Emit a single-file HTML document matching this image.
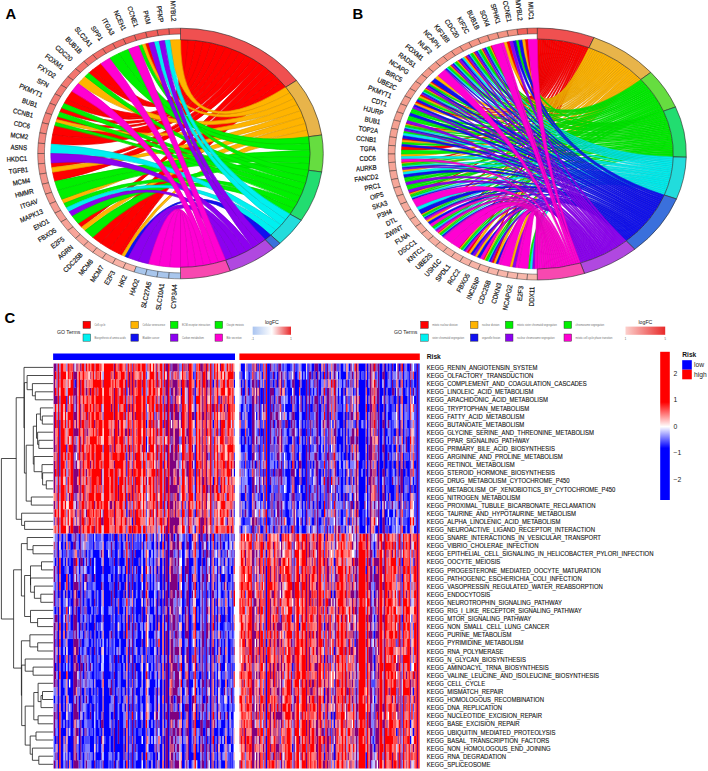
<!DOCTYPE html><html><head><meta charset="utf-8"><style>html,body{margin:0;padding:0;background:#fff;width:708px;height:771px;overflow:hidden}svg{display:block;font-family:"Liberation Sans",sans-serif}</style></head><body><svg width="708" height="771" viewBox="0 0 708 771"><rect width="708" height="771" fill="#fff"/>
<text x="5.6" y="18.9" font-size="14.8" font-weight="bold" fill="#000">A</text>
<text x="352.4" y="18.7" font-size="14.8" font-weight="bold" fill="#000">B</text>
<text x="4.6" y="322.9" font-size="14.8" font-weight="bold" fill="#000">C</text>
<g stroke-width="0.7">
<path d="M148.67 43.18 Q180.50 153.50 180.50 39.70 A129.66 113.80 0 0 1 188.18 39.90 Q180.50 153.50 145.22 43.99 A129.66 113.80 0 0 1 148.67 43.18 Z" fill="#ff0000" stroke="#e00000"/>
<path d="M100.86 63.70 Q180.50 153.50 188.18 39.90 A129.66 113.80 0 0 1 195.84 40.50 Q180.50 153.50 92.68 69.77 A129.66 113.80 0 0 1 100.86 63.70 Z" fill="#ff0000" stroke="#e00000"/>
<path d="M92.68 69.77 Q180.50 153.50 195.84 40.50 A129.66 113.80 0 0 1 203.44 41.49 Q180.50 153.50 88.81 73.03 A129.66 113.80 0 0 1 92.68 69.77 Z" fill="#ff0000" stroke="#e00000"/>
<path d="M71.95 91.26 Q180.50 153.50 203.44 41.49 A129.66 113.80 0 0 1 210.96 42.88 Q180.50 153.50 66.46 99.34 A129.66 113.80 0 0 1 71.95 91.26 Z" fill="#ff0000" stroke="#e00000"/>
<path d="M66.46 99.34 Q180.50 153.50 210.96 42.88 A129.66 113.80 0 0 1 218.37 44.66 Q180.50 153.50 64.01 103.52 A129.66 113.80 0 0 1 66.46 99.34 Z" fill="#ff0000" stroke="#e00000"/>
<path d="M61.76 107.79 Q180.50 153.50 218.37 44.66 A129.66 113.80 0 0 1 225.65 46.82 Q180.50 153.50 59.71 112.13 A129.66 113.80 0 0 1 61.76 107.79 Z" fill="#ff0000" stroke="#e00000"/>
<path d="M57.86 116.55 Q180.50 153.50 225.65 46.82 A129.66 113.80 0 0 1 232.77 49.36 Q180.50 153.50 56.75 119.53 A129.66 113.80 0 0 1 57.86 116.55 Z" fill="#ff0000" stroke="#e00000"/>
<path d="M54.80 125.56 Q180.50 153.50 232.77 49.36 A129.66 113.80 0 0 1 239.71 52.26 Q180.50 153.50 52.60 134.77 A129.66 113.80 0 0 1 54.80 125.56 Z" fill="#ff0000" stroke="#e00000"/>
<path d="M52.60 134.77 Q180.50 153.50 239.71 52.26 A129.66 113.80 0 0 1 246.44 55.51 Q180.50 153.50 51.28 144.10 A129.66 113.80 0 0 1 52.60 134.77 Z" fill="#ff0000" stroke="#e00000"/>
<path d="M51.28 162.90 Q180.50 153.50 246.44 55.51 A129.66 113.80 0 0 1 252.94 59.11 Q180.50 153.50 51.83 167.58 A129.66 113.80 0 0 1 51.28 162.90 Z" fill="#ff0000" stroke="#e00000"/>
<path d="M52.60 172.23 Q180.50 153.50 252.94 59.11 A129.66 113.80 0 0 1 259.18 63.05 Q180.50 153.50 54.80 181.44 A129.66 113.80 0 0 1 52.60 172.23 Z" fill="#ff0000" stroke="#e00000"/>
<path d="M78.18 223.40 Q180.50 153.50 259.18 63.05 A129.66 113.80 0 0 1 265.15 67.30 Q180.50 153.50 81.56 227.05 A129.66 113.80 0 0 1 78.18 223.40 Z" fill="#ff0000" stroke="#e00000"/>
<path d="M92.68 237.23 Q180.50 153.50 265.15 67.30 A129.66 113.80 0 0 1 270.82 71.85 Q180.50 153.50 100.86 243.30 A129.66 113.80 0 0 1 92.68 237.23 Z" fill="#ff0000" stroke="#e00000"/>
<path d="M100.86 243.30 Q180.50 153.50 270.82 71.85 A129.66 113.80 0 0 1 276.17 76.69 Q180.50 153.50 109.58 248.77 A129.66 113.80 0 0 1 100.86 243.30 Z" fill="#ff0000" stroke="#e00000"/>
<path d="M109.58 248.77 Q180.50 153.50 276.17 76.69 A129.66 113.80 0 0 1 281.19 81.80 Q180.50 153.50 118.79 253.58 A129.66 113.80 0 0 1 109.58 248.77 Z" fill="#ff0000" stroke="#e00000"/>
<path d="M118.79 253.58 Q180.50 153.50 281.19 81.80 A129.66 113.80 0 0 1 285.85 87.16 Q180.50 153.50 121.95 255.04 A129.66 113.80 0 0 1 118.79 253.58 Z" fill="#ff0000" stroke="#e00000"/>
<path d="M180.50 39.70 Q180.50 153.50 285.85 87.16 A129.66 113.80 0 0 1 290.14 92.75 Q180.50 153.50 169.79 40.09 A129.66 113.80 0 0 1 180.50 39.70 Z" fill="#ffb400" stroke="#e09e00"/>
<path d="M145.22 43.99 Q180.50 153.50 290.14 92.75 A129.66 113.80 0 0 1 294.05 98.56 Q180.50 153.50 141.79 44.89 A129.66 113.80 0 0 1 145.22 43.99 Z" fill="#ffb400" stroke="#e09e00"/>
<path d="M85.10 76.43 Q180.50 153.50 294.05 98.56 A129.66 113.80 0 0 1 297.56 104.56 Q180.50 153.50 78.18 83.60 A129.66 113.80 0 0 1 85.10 76.43 Z" fill="#ffb400" stroke="#e09e00"/>
<path d="M56.75 119.53 Q180.50 153.50 297.56 104.56 A129.66 113.80 0 0 1 300.66 110.73 Q180.50 153.50 55.73 122.53 A129.66 113.80 0 0 1 56.75 119.53 Z" fill="#ffb400" stroke="#e09e00"/>
<path d="M51.83 167.58 Q180.50 153.50 300.66 110.73 A129.66 113.80 0 0 1 303.33 117.05 Q180.50 153.50 52.60 172.23 A129.66 113.80 0 0 1 51.83 167.58 Z" fill="#ffb400" stroke="#e09e00"/>
<path d="M61.76 199.21 Q180.50 153.50 303.33 117.05 A129.66 113.80 0 0 1 305.58 123.50 Q180.50 153.50 64.01 203.48 A129.66 113.80 0 0 1 61.76 199.21 Z" fill="#ffb400" stroke="#e09e00"/>
<path d="M81.56 227.05 Q180.50 153.50 305.58 123.50 A129.66 113.80 0 0 1 307.38 130.06 Q180.50 153.50 85.10 230.57 A129.66 113.80 0 0 1 81.56 227.05 Z" fill="#ffb400" stroke="#e09e00"/>
<path d="M121.95 255.04 Q180.50 153.50 307.38 130.06 A129.66 113.80 0 0 1 308.74 136.70 Q180.50 153.50 125.16 256.42 A129.66 113.80 0 0 1 121.95 255.04 Z" fill="#ffb400" stroke="#e09e00"/>
<path d="M128.41 49.28 Q180.50 153.50 308.74 136.70 A129.66 113.80 0 0 1 309.65 143.40 Q180.50 153.50 118.79 53.42 A129.66 113.80 0 0 1 128.41 49.28 Z" fill="#00f000" stroke="#00d300"/>
<path d="M118.79 53.42 Q180.50 153.50 309.65 143.40 A129.66 113.80 0 0 1 310.11 150.13 Q180.50 153.50 109.58 58.23 A129.66 113.80 0 0 1 118.79 53.42 Z" fill="#00f000" stroke="#00d300"/>
<path d="M54.80 181.44 Q180.50 153.50 310.11 150.13 A129.66 113.80 0 0 1 310.11 156.87 Q180.50 153.50 57.86 190.45 A129.66 113.80 0 0 1 54.80 181.44 Z" fill="#00f000" stroke="#00d300"/>
<path d="M57.86 190.45 Q180.50 153.50 310.11 156.87 A129.66 113.80 0 0 1 309.65 163.60 Q180.50 153.50 61.76 199.21 A129.66 113.80 0 0 1 57.86 190.45 Z" fill="#00f000" stroke="#00d300"/>
<path d="M85.10 230.57 Q180.50 153.50 309.65 163.60 A129.66 113.80 0 0 1 308.74 170.30 Q180.50 153.50 92.68 237.23 A129.66 113.80 0 0 1 85.10 230.57 Z" fill="#00f000" stroke="#00d300"/>
<path d="M141.79 44.89 Q180.50 153.50 308.74 170.30 A129.66 113.80 0 0 1 307.38 176.94 Q180.50 153.50 138.40 45.87 A129.66 113.80 0 0 1 141.79 44.89 Z" fill="#00f000" stroke="#00d300"/>
<path d="M88.81 73.03 Q180.50 153.50 307.38 176.94 A129.66 113.80 0 0 1 305.58 183.50 Q180.50 153.50 85.10 76.43 A129.66 113.80 0 0 1 88.81 73.03 Z" fill="#00f000" stroke="#00d300"/>
<path d="M64.01 103.52 Q180.50 153.50 305.58 183.50 A129.66 113.80 0 0 1 303.33 189.95 Q180.50 153.50 61.76 107.79 A129.66 113.80 0 0 1 64.01 103.52 Z" fill="#00f000" stroke="#00d300"/>
<path d="M59.71 112.13 Q180.50 153.50 303.33 189.95 A129.66 113.80 0 0 1 300.66 196.27 Q180.50 153.50 57.86 116.55 A129.66 113.80 0 0 1 59.71 112.13 Z" fill="#00f000" stroke="#00d300"/>
<path d="M55.73 122.53 Q180.50 153.50 300.66 196.27 A129.66 113.80 0 0 1 297.56 202.44 Q180.50 153.50 54.80 125.56 A129.66 113.80 0 0 1 55.73 122.53 Z" fill="#00f000" stroke="#00d300"/>
<path d="M64.01 203.48 Q180.50 153.50 297.56 202.44 A129.66 113.80 0 0 1 294.05 208.44 Q180.50 153.50 66.46 207.66 A129.66 113.80 0 0 1 64.01 203.48 Z" fill="#00f000" stroke="#00d300"/>
<path d="M71.95 215.74 Q180.50 153.50 294.05 208.44 A129.66 113.80 0 0 1 290.14 214.25 Q180.50 153.50 78.18 223.40 A129.66 113.80 0 0 1 71.95 215.74 Z" fill="#00f000" stroke="#00d300"/>
<path d="M169.79 40.09 Q180.50 153.50 290.14 214.25 A129.66 113.80 0 0 1 285.85 219.84 Q180.50 153.50 164.46 40.57 A129.66 113.80 0 0 1 169.79 40.09 Z" fill="#00f0f0" stroke="#00d3d3"/>
<path d="M159.16 41.25 Q180.50 153.50 285.85 219.84 A129.66 113.80 0 0 1 281.19 225.20 Q180.50 153.50 153.89 42.12 A129.66 113.80 0 0 1 159.16 41.25 Z" fill="#00f0f0" stroke="#00d3d3"/>
<path d="M51.28 144.10 Q180.50 153.50 281.19 225.20 A129.66 113.80 0 0 1 276.17 230.31 Q180.50 153.50 50.84 153.50 A129.66 113.80 0 0 1 51.28 144.10 Z" fill="#00f0f0" stroke="#00d3d3"/>
<path d="M66.46 207.66 Q180.50 153.50 276.17 230.31 A129.66 113.80 0 0 1 270.82 235.15 Q180.50 153.50 69.11 211.75 A129.66 113.80 0 0 1 66.46 207.66 Z" fill="#00f0f0" stroke="#00d3d3"/>
<path d="M125.16 256.42 Q180.50 153.50 270.82 235.15 A129.66 113.80 0 0 1 265.15 239.70 Q180.50 153.50 128.41 257.72 A129.66 113.80 0 0 1 125.16 256.42 Z" fill="#1010f0" stroke="#0e0ed3"/>
<path d="M164.46 40.57 Q180.50 153.50 265.15 239.70 A129.66 113.80 0 0 1 259.18 243.95 Q180.50 153.50 159.16 41.25 A129.66 113.80 0 0 1 164.46 40.57 Z" fill="#8c00f0" stroke="#7b00d3"/>
<path d="M153.89 42.12 Q180.50 153.50 259.18 243.95 A129.66 113.80 0 0 1 252.94 247.89 Q180.50 153.50 148.67 43.18 A129.66 113.80 0 0 1 153.89 42.12 Z" fill="#8c00f0" stroke="#7b00d3"/>
<path d="M50.84 153.50 Q180.50 153.50 252.94 247.89 A129.66 113.80 0 0 1 246.44 251.49 Q180.50 153.50 51.28 162.90 A129.66 113.80 0 0 1 50.84 153.50 Z" fill="#8c00f0" stroke="#7b00d3"/>
<path d="M69.11 211.75 Q180.50 153.50 246.44 251.49 A129.66 113.80 0 0 1 239.71 254.74 Q180.50 153.50 71.95 215.74 A129.66 113.80 0 0 1 69.11 211.75 Z" fill="#8c00f0" stroke="#7b00d3"/>
<path d="M128.41 257.72 Q180.50 153.50 239.71 254.74 A129.66 113.80 0 0 1 232.77 257.64 Q180.50 153.50 138.40 261.13 A129.66 113.80 0 0 1 128.41 257.72 Z" fill="#8c00f0" stroke="#7b00d3"/>
<path d="M138.40 261.13 Q180.50 153.50 232.77 257.64 A129.66 113.80 0 0 1 225.65 260.18 Q180.50 153.50 148.67 263.82 A129.66 113.80 0 0 1 138.40 261.13 Z" fill="#8c00f0" stroke="#7b00d3"/>
<path d="M138.40 45.87 Q180.50 153.50 225.65 260.18 A129.66 113.80 0 0 1 218.37 262.34 Q180.50 153.50 128.41 49.28 A129.66 113.80 0 0 1 138.40 45.87 Z" fill="#ff00d2" stroke="#e000b9"/>
<path d="M109.58 58.23 Q180.50 153.50 218.37 262.34 A129.66 113.80 0 0 1 210.96 264.12 Q180.50 153.50 100.86 63.70 A129.66 113.80 0 0 1 109.58 58.23 Z" fill="#ff00d2" stroke="#e000b9"/>
<path d="M78.18 83.60 Q180.50 153.50 210.96 264.12 A129.66 113.80 0 0 1 203.44 265.51 Q180.50 153.50 71.95 91.26 A129.66 113.80 0 0 1 78.18 83.60 Z" fill="#ff00d2" stroke="#e000b9"/>
<path d="M148.67 263.82 Q180.50 153.50 203.44 265.51 A129.66 113.80 0 0 1 195.84 266.50 Q180.50 153.50 159.16 265.75 A129.66 113.80 0 0 1 148.67 263.82 Z" fill="#ff00d2" stroke="#e000b9"/>
<path d="M159.16 265.75 Q180.50 153.50 195.84 266.50 A129.66 113.80 0 0 1 188.18 267.10 Q180.50 153.50 169.79 266.91 A129.66 113.80 0 0 1 159.16 265.75 Z" fill="#ff00d2" stroke="#e000b9"/>
<path d="M169.79 266.91 Q180.50 153.50 188.18 267.10 A129.66 113.80 0 0 1 180.50 267.30 Q180.50 153.50 180.50 267.30 A129.66 113.80 0 0 1 169.79 266.91 Z" fill="#ff00d2" stroke="#e000b9"/>
</g>
<path d="M180.50 28.20 A142.77 125.30 0 0 1 296.50 80.45 L285.85 87.16 A129.66 113.80 0 0 0 180.50 39.70 Z" fill="#f05050" stroke="#262626" stroke-width="0.6"/>
<path d="M296.50 80.45 A142.77 125.30 0 0 1 321.70 135.00 L308.74 136.70 A129.66 113.80 0 0 0 285.85 87.16 Z" fill="#e8b44a" stroke="#262626" stroke-width="0.6"/>
<path d="M321.70 135.00 A142.77 125.30 0 0 1 321.70 172.00 L308.74 170.30 A129.66 113.80 0 0 0 308.74 136.70 Z" fill="#66dd40" stroke="#262626" stroke-width="0.6"/>
<path d="M321.70 172.00 A142.77 125.30 0 0 1 301.22 220.39 L290.14 214.25 A129.66 113.80 0 0 0 308.74 170.30 Z" fill="#22dd70" stroke="#262626" stroke-width="0.6"/>
<path d="M301.22 220.39 A142.77 125.30 0 0 1 279.94 243.40 L270.82 235.15 A129.66 113.80 0 0 0 290.14 214.25 Z" fill="#22dcdc" stroke="#262626" stroke-width="0.6"/>
<path d="M279.94 243.40 A142.77 125.30 0 0 1 273.70 248.42 L265.15 239.70 A129.66 113.80 0 0 0 270.82 235.15 Z" fill="#3a70dc" stroke="#262626" stroke-width="0.6"/>
<path d="M273.70 248.42 A142.77 125.30 0 0 1 230.21 270.96 L225.65 260.18 A129.66 113.80 0 0 0 265.15 239.70 Z" fill="#b048e0" stroke="#262626" stroke-width="0.6"/>
<path d="M230.21 270.96 A142.77 125.30 0 0 1 180.50 278.80 L180.50 267.30 A129.66 113.80 0 0 0 225.65 260.18 Z" fill="#f848b0" stroke="#262626" stroke-width="0.6"/>
<path d="M168.71 28.63 A142.77 125.30 0 0 1 180.50 28.20 L180.50 34.10 A136.04 119.40 0 0 0 169.27 34.51 Z" fill="#f05a55" stroke="#262626" stroke-width="0.45"/>
<path d="M157.00 29.91 A142.77 125.30 0 0 1 168.71 28.63 L169.27 34.51 A136.04 119.40 0 0 0 158.11 35.73 Z" fill="#f05d58" stroke="#262626" stroke-width="0.45"/>
<path d="M145.45 32.03 A142.77 125.30 0 0 1 157.00 29.91 L158.11 35.73 A136.04 119.40 0 0 0 147.10 37.75 Z" fill="#f05f5a" stroke="#262626" stroke-width="0.45"/>
<path d="M134.14 34.99 A142.77 125.30 0 0 1 145.45 32.03 L147.10 37.75 A136.04 119.40 0 0 0 136.33 40.57 Z" fill="#f1625d" stroke="#262626" stroke-width="0.45"/>
<path d="M123.15 38.75 A142.77 125.30 0 0 1 134.14 34.99 L136.33 40.57 A136.04 119.40 0 0 0 125.85 44.16 Z" fill="#f1655f" stroke="#262626" stroke-width="0.45"/>
<path d="M112.55 43.30 A142.77 125.30 0 0 1 123.15 38.75 L125.85 44.16 A136.04 119.40 0 0 0 115.75 48.49 Z" fill="#f16862" stroke="#262626" stroke-width="0.45"/>
<path d="M102.41 48.60 A142.77 125.30 0 0 1 112.55 43.30 L115.75 48.49 A136.04 119.40 0 0 0 106.09 53.54 Z" fill="#f16a64" stroke="#262626" stroke-width="0.45"/>
<path d="M92.81 54.62 A142.77 125.30 0 0 1 102.41 48.60 L106.09 53.54 A136.04 119.40 0 0 0 96.94 59.28 Z" fill="#f26d67" stroke="#262626" stroke-width="0.45"/>
<path d="M83.81 61.31 A142.77 125.30 0 0 1 92.81 54.62 L96.94 59.28 A136.04 119.40 0 0 0 88.36 65.65 Z" fill="#f27069" stroke="#262626" stroke-width="0.45"/>
<path d="M75.46 68.64 A142.77 125.30 0 0 1 83.81 61.31 L88.36 65.65 A136.04 119.40 0 0 0 80.41 72.63 Z" fill="#f2736c" stroke="#262626" stroke-width="0.45"/>
<path d="M67.84 76.54 A142.77 125.30 0 0 1 75.46 68.64 L80.41 72.63 A136.04 119.40 0 0 0 73.14 80.16 Z" fill="#f2756e" stroke="#262626" stroke-width="0.45"/>
<path d="M60.98 84.97 A142.77 125.30 0 0 1 67.84 76.54 L73.14 80.16 A136.04 119.40 0 0 0 66.61 88.19 Z" fill="#f37871" stroke="#262626" stroke-width="0.45"/>
<path d="M54.94 93.86 A142.77 125.30 0 0 1 60.98 84.97 L66.61 88.19 A136.04 119.40 0 0 0 60.85 96.67 Z" fill="#f37b73" stroke="#262626" stroke-width="0.45"/>
<path d="M49.76 103.17 A142.77 125.30 0 0 1 54.94 93.86 L60.85 96.67 A136.04 119.40 0 0 0 55.91 105.54 Z" fill="#f37d76" stroke="#262626" stroke-width="0.45"/>
<path d="M45.47 112.82 A142.77 125.30 0 0 1 49.76 103.17 L55.91 105.54 A136.04 119.40 0 0 0 51.83 114.73 Z" fill="#f38078" stroke="#262626" stroke-width="0.45"/>
<path d="M42.10 122.74 A142.77 125.30 0 0 1 45.47 112.82 L51.83 114.73 A136.04 119.40 0 0 0 48.62 124.19 Z" fill="#f4837b" stroke="#262626" stroke-width="0.45"/>
<path d="M39.68 132.88 A142.77 125.30 0 0 1 42.10 122.74 L48.62 124.19 A136.04 119.40 0 0 0 46.31 133.85 Z" fill="#f4867d" stroke="#262626" stroke-width="0.45"/>
<path d="M38.22 143.15 A142.77 125.30 0 0 1 39.68 132.88 L46.31 133.85 A136.04 119.40 0 0 0 44.92 143.64 Z" fill="#f48880" stroke="#262626" stroke-width="0.45"/>
<path d="M37.73 153.50 A142.77 125.30 0 0 1 38.22 143.15 L44.92 143.64 A136.04 119.40 0 0 0 44.46 153.50 Z" fill="#f48b82" stroke="#262626" stroke-width="0.45"/>
<path d="M38.22 163.85 A142.77 125.30 0 0 1 37.73 153.50 L44.46 153.50 A136.04 119.40 0 0 0 44.92 163.36 Z" fill="#f58e85" stroke="#262626" stroke-width="0.45"/>
<path d="M39.68 174.12 A142.77 125.30 0 0 1 38.22 163.85 L44.92 163.36 A136.04 119.40 0 0 0 46.31 173.15 Z" fill="#f59187" stroke="#262626" stroke-width="0.45"/>
<path d="M42.10 184.26 A142.77 125.30 0 0 1 39.68 174.12 L46.31 173.15 A136.04 119.40 0 0 0 48.62 182.81 Z" fill="#f5938a" stroke="#262626" stroke-width="0.45"/>
<path d="M45.47 194.18 A142.77 125.30 0 0 1 42.10 184.26 L48.62 182.81 A136.04 119.40 0 0 0 51.83 192.27 Z" fill="#f5968c" stroke="#262626" stroke-width="0.45"/>
<path d="M49.76 203.83 A142.77 125.30 0 0 1 45.47 194.18 L51.83 192.27 A136.04 119.40 0 0 0 55.91 201.46 Z" fill="#f6998f" stroke="#262626" stroke-width="0.45"/>
<path d="M54.94 213.14 A142.77 125.30 0 0 1 49.76 203.83 L55.91 201.46 A136.04 119.40 0 0 0 60.85 210.33 Z" fill="#f69b91" stroke="#262626" stroke-width="0.45"/>
<path d="M60.98 222.03 A142.77 125.30 0 0 1 54.94 213.14 L60.85 210.33 A136.04 119.40 0 0 0 66.61 218.81 Z" fill="#f69e94" stroke="#262626" stroke-width="0.45"/>
<path d="M67.84 230.46 A142.77 125.30 0 0 1 60.98 222.03 L66.61 218.81 A136.04 119.40 0 0 0 73.14 226.84 Z" fill="#f6a196" stroke="#262626" stroke-width="0.45"/>
<path d="M75.46 238.36 A142.77 125.30 0 0 1 67.84 230.46 L73.14 226.84 A136.04 119.40 0 0 0 80.41 234.37 Z" fill="#f7a499" stroke="#262626" stroke-width="0.45"/>
<path d="M83.81 245.69 A142.77 125.30 0 0 1 75.46 238.36 L80.41 234.37 A136.04 119.40 0 0 0 88.36 241.35 Z" fill="#f7a69b" stroke="#262626" stroke-width="0.45"/>
<path d="M92.81 252.38 A142.77 125.30 0 0 1 83.81 245.69 L88.36 241.35 A136.04 119.40 0 0 0 96.94 247.72 Z" fill="#f7a99e" stroke="#262626" stroke-width="0.45"/>
<path d="M102.41 258.40 A142.77 125.30 0 0 1 92.81 252.38 L96.94 247.72 A136.04 119.40 0 0 0 106.09 253.46 Z" fill="#f7aca0" stroke="#262626" stroke-width="0.45"/>
<path d="M112.55 263.70 A142.77 125.30 0 0 1 102.41 258.40 L106.09 253.46 A136.04 119.40 0 0 0 115.75 258.51 Z" fill="#f8afa3" stroke="#262626" stroke-width="0.45"/>
<path d="M123.15 268.25 A142.77 125.30 0 0 1 112.55 263.70 L115.75 258.51 A136.04 119.40 0 0 0 125.85 262.84 Z" fill="#f8b1a5" stroke="#262626" stroke-width="0.45"/>
<path d="M134.14 272.01 A142.77 125.30 0 0 1 123.15 268.25 L125.85 262.84 A136.04 119.40 0 0 0 136.33 266.43 Z" fill="#f8b4a8" stroke="#262626" stroke-width="0.45"/>
<path d="M145.45 274.97 A142.77 125.30 0 0 1 134.14 272.01 L136.33 266.43 A136.04 119.40 0 0 0 147.10 269.25 Z" fill="#a8c6ec" stroke="#262626" stroke-width="0.45"/>
<path d="M157.00 277.09 A142.77 125.30 0 0 1 145.45 274.97 L147.10 269.25 A136.04 119.40 0 0 0 158.11 271.27 Z" fill="#a8c6ec" stroke="#262626" stroke-width="0.45"/>
<path d="M168.71 278.37 A142.77 125.30 0 0 1 157.00 277.09 L158.11 271.27 A136.04 119.40 0 0 0 169.27 272.49 Z" fill="#a8c6ec" stroke="#262626" stroke-width="0.45"/>
<path d="M180.50 278.80 A142.77 125.30 0 0 1 168.71 278.37 L169.27 272.49 A136.04 119.40 0 0 0 180.50 272.90 Z" fill="#a8c6ec" stroke="#262626" stroke-width="0.45"/>
<g font-size="6.9" fill="#141414" stroke="#141414" stroke-width="0.2" text-anchor="end">
<text transform="translate(174.15 21.31) rotate(87.30) scale(0.920 1)" dy="2.76">MYBL2</text>
<text transform="translate(161.50 22.21) rotate(81.92) scale(0.920 1)" dy="2.76">PFKP</text>
<text transform="translate(148.98 24.00) rotate(76.56) scale(0.919 1)" dy="2.76">PKM</text>
<text transform="translate(136.67 26.67) rotate(71.26) scale(0.918 1)" dy="2.76">CCNE1</text>
<text transform="translate(124.67 30.20) rotate(66.03) scale(0.917 1)" dy="2.76">NCEH1</text>
<text transform="translate(113.04 34.57) rotate(60.88) scale(0.915 1)" dy="2.76">ITGA3</text>
<text transform="translate(101.87 39.75) rotate(55.83) scale(0.913 1)" dy="2.76">SPP1</text>
<text transform="translate(91.25 45.70) rotate(50.87) scale(0.911 1)" dy="2.76">SLC2A1</text>
<text transform="translate(81.23 52.38) rotate(46.02) scale(0.908 1)" dy="2.76">BUB1B</text>
<text transform="translate(71.89 59.74) rotate(41.27) scale(0.905 1)" dy="2.76">CDC20</text>
<text transform="translate(63.29 67.75) rotate(36.62) scale(0.902 1)" dy="2.76">FOXM1</text>
<text transform="translate(55.49 76.33) rotate(32.07) scale(0.899 1)" dy="2.76">FXYD2</text>
<text transform="translate(48.55 85.44) rotate(27.61) scale(0.896 1)" dy="2.76">SFN</text>
<text transform="translate(42.51 95.00) rotate(23.22) scale(0.892 1)" dy="2.76">PKMYT1</text>
<text transform="translate(37.41 104.96) rotate(18.90) scale(0.888 1)" dy="2.76">BUB1</text>
<text transform="translate(33.29 115.25) rotate(14.64) scale(0.884 1)" dy="2.76">CCNB1</text>
<text transform="translate(30.17 125.79) rotate(10.43) scale(0.880 1)" dy="2.76">CDC6</text>
<text transform="translate(28.08 136.52) rotate(6.24) scale(0.876 1)" dy="2.76">MCM2</text>
<text transform="translate(27.03 147.36) rotate(2.08) scale(0.872 1)" dy="2.76">ASNS</text>
<text transform="translate(27.03 158.24) rotate(-2.08) scale(0.872 1)" dy="2.76">HKDC1</text>
<text transform="translate(28.08 169.08) rotate(-6.24) scale(0.876 1)" dy="2.76">TGFB1</text>
<text transform="translate(30.17 179.81) rotate(-10.43) scale(0.880 1)" dy="2.76">MCM4</text>
<text transform="translate(33.29 190.35) rotate(-14.64) scale(0.884 1)" dy="2.76">HMMR</text>
<text transform="translate(37.41 200.64) rotate(-18.90) scale(0.888 1)" dy="2.76">ITGAV</text>
<text transform="translate(42.51 210.60) rotate(-23.22) scale(0.892 1)" dy="2.76">MAPK13</text>
<text transform="translate(48.55 220.16) rotate(-27.61) scale(0.896 1)" dy="2.76">ENO1</text>
<text transform="translate(55.49 229.27) rotate(-32.07) scale(0.899 1)" dy="2.76">FBXO5</text>
<text transform="translate(63.29 237.85) rotate(-36.62) scale(0.902 1)" dy="2.76">E2F5</text>
<text transform="translate(71.89 245.86) rotate(-41.27) scale(0.905 1)" dy="2.76">AGRN</text>
<text transform="translate(81.23 253.22) rotate(-46.02) scale(0.908 1)" dy="2.76">CDC25B</text>
<text transform="translate(91.25 259.90) rotate(-50.87) scale(0.911 1)" dy="2.76">MCM6</text>
<text transform="translate(101.87 265.85) rotate(-55.83) scale(0.913 1)" dy="2.76">MCM7</text>
<text transform="translate(113.04 271.03) rotate(-60.88) scale(0.915 1)" dy="2.76">E2F3</text>
<text transform="translate(124.67 275.40) rotate(-66.03) scale(0.917 1)" dy="2.76">HK2</text>
<text transform="translate(136.67 278.93) rotate(-71.26) scale(0.918 1)" dy="2.76">HAO2</text>
<text transform="translate(148.98 281.60) rotate(-76.56) scale(0.919 1)" dy="2.76">SLC27A5</text>
<text transform="translate(161.50 283.39) rotate(-81.92) scale(0.920 1)" dy="2.76">SLC10A1</text>
<text transform="translate(174.15 284.29) rotate(-87.30) scale(0.920 1)" dy="2.76">CYP3A4</text>
</g>
<g stroke-width="0.55">
<path d="M527.98 39.47 Q537.25 154.00 537.25 39.20 A135.81 114.80 0 0 1 539.56 39.22 Q537.25 154.00 524.90 39.68 A135.81 114.80 0 0 1 527.98 39.47 Z" fill="#ff0000" stroke="#d90000"/>
<path d="M509.62 41.60 Q537.25 154.00 539.56 39.22 A135.81 114.80 0 0 1 541.86 39.27 Q537.25 154.00 506.60 42.16 A135.81 114.80 0 0 1 509.62 41.60 Z" fill="#ff0000" stroke="#d90000"/>
<path d="M491.77 45.83 Q537.25 154.00 541.86 39.27 A135.81 114.80 0 0 1 544.17 39.35 Q537.25 154.00 490.52 46.21 A135.81 114.80 0 0 1 491.77 45.83 Z" fill="#ff0000" stroke="#d90000"/>
<path d="M483.14 48.70 Q537.25 154.00 544.17 39.35 A135.81 114.80 0 0 1 546.47 39.46 Q537.25 154.00 481.93 49.16 A135.81 114.80 0 0 1 483.14 48.70 Z" fill="#ff0000" stroke="#d90000"/>
<path d="M474.77 52.07 Q537.25 154.00 546.47 39.46 A135.81 114.80 0 0 1 548.77 39.61 Q537.25 154.00 473.60 52.59 A135.81 114.80 0 0 1 474.77 52.07 Z" fill="#ff0000" stroke="#d90000"/>
<path d="M466.69 55.91 Q537.25 154.00 548.77 39.61 A135.81 114.80 0 0 1 551.06 39.80 Q537.25 154.00 465.11 56.74 A135.81 114.80 0 0 1 466.69 55.91 Z" fill="#ff0000" stroke="#d90000"/>
<path d="M458.93 60.21 Q537.25 154.00 551.06 39.80 A135.81 114.80 0 0 1 553.36 40.01 Q537.25 154.00 457.85 60.86 A135.81 114.80 0 0 1 458.93 60.21 Z" fill="#ff0000" stroke="#d90000"/>
<path d="M451.54 64.95 Q537.25 154.00 553.36 40.01 A135.81 114.80 0 0 1 555.64 40.26 Q537.25 154.00 450.52 65.66 A135.81 114.80 0 0 1 451.54 64.95 Z" fill="#ff0000" stroke="#d90000"/>
<path d="M431.90 81.55 Q537.25 154.00 555.64 40.26 A135.81 114.80 0 0 1 557.93 40.54 Q537.25 154.00 430.74 82.77 A135.81 114.80 0 0 1 431.90 81.55 Z" fill="#ff0000" stroke="#d90000"/>
<path d="M426.30 87.80 Q537.25 154.00 557.93 40.54 A135.81 114.80 0 0 1 560.20 40.85 Q537.25 154.00 425.54 88.72 A135.81 114.80 0 0 1 426.30 87.80 Z" fill="#ff0000" stroke="#d90000"/>
<path d="M421.21 94.35 Q537.25 154.00 560.20 40.85 A135.81 114.80 0 0 1 562.47 41.20 Q537.25 154.00 420.02 96.04 A135.81 114.80 0 0 1 421.21 94.35 Z" fill="#ff0000" stroke="#d90000"/>
<path d="M416.67 101.18 Q537.25 154.00 562.47 41.20 A135.81 114.80 0 0 1 564.73 41.58 Q537.25 154.00 415.62 102.93 A135.81 114.80 0 0 1 416.67 101.18 Z" fill="#ff0000" stroke="#d90000"/>
<path d="M406.48 123.03 Q537.25 154.00 564.73 41.58 A135.81 114.80 0 0 1 566.99 41.99 Q537.25 154.00 406.13 124.11 A135.81 114.80 0 0 1 406.48 123.03 Z" fill="#ff0000" stroke="#d90000"/>
<path d="M402.71 138.37 Q537.25 154.00 566.99 41.99 A135.81 114.80 0 0 1 569.23 42.43 Q537.25 154.00 402.41 140.31 A135.81 114.80 0 0 1 402.71 138.37 Z" fill="#ff0000" stroke="#d90000"/>
<path d="M401.76 146.17 Q537.25 154.00 569.23 42.43 A135.81 114.80 0 0 1 571.47 42.90 Q537.25 154.00 401.52 150.08 A135.81 114.80 0 0 1 401.76 146.17 Z" fill="#ff0000" stroke="#d90000"/>
<path d="M401.76 161.83 Q537.25 154.00 571.47 42.90 A135.81 114.80 0 0 1 573.70 43.41 Q537.25 154.00 401.86 162.95 A135.81 114.80 0 0 1 401.76 161.83 Z" fill="#ff0000" stroke="#d90000"/>
<path d="M409.28 192.44 Q537.25 154.00 573.70 43.41 A135.81 114.80 0 0 1 575.91 43.95 Q537.25 154.00 409.81 193.67 A135.81 114.80 0 0 1 409.28 192.44 Z" fill="#ff0000" stroke="#d90000"/>
<path d="M421.21 213.65 Q537.25 154.00 575.91 43.95 A135.81 114.80 0 0 1 578.12 44.52 Q537.25 154.00 421.82 214.48 A135.81 114.80 0 0 1 421.21 213.65 Z" fill="#ff0000" stroke="#d90000"/>
<path d="M438.00 232.36 Q537.25 154.00 578.12 44.52 A135.81 114.80 0 0 1 580.31 45.12 Q537.25 154.00 438.79 233.07 A135.81 114.80 0 0 1 438.00 232.36 Z" fill="#ff0000" stroke="#d90000"/>
<path d="M458.93 247.79 Q537.25 154.00 580.31 45.12 A135.81 114.80 0 0 1 582.49 45.76 Q537.25 154.00 459.88 248.35 A135.81 114.80 0 0 1 458.93 247.79 Z" fill="#ff0000" stroke="#d90000"/>
<path d="M466.69 252.09 Q537.25 154.00 582.49 45.76 A135.81 114.80 0 0 1 584.66 46.42 Q537.25 154.00 468.68 253.09 A135.81 114.80 0 0 1 466.69 252.09 Z" fill="#ff0000" stroke="#d90000"/>
<path d="M483.14 259.30 Q537.25 154.00 584.66 46.42 A135.81 114.80 0 0 1 586.82 47.12 Q537.25 154.00 484.36 259.74 A135.81 114.80 0 0 1 483.14 259.30 Z" fill="#ff0000" stroke="#d90000"/>
<path d="M491.77 262.17 Q537.25 154.00 586.82 47.12 A135.81 114.80 0 0 1 588.96 47.85 Q537.25 154.00 493.96 262.81 A135.81 114.80 0 0 1 491.77 262.17 Z" fill="#ff0000" stroke="#d90000"/>
<path d="M524.90 39.68 Q537.25 154.00 588.96 47.85 A135.81 114.80 0 0 1 591.08 48.60 Q537.25 154.00 521.82 39.94 A135.81 114.80 0 0 1 524.90 39.68 Z" fill="#ffb400" stroke="#d99900"/>
<path d="M506.60 42.16 Q537.25 154.00 591.08 48.60 A135.81 114.80 0 0 1 593.19 49.39 Q537.25 154.00 503.60 42.78 A135.81 114.80 0 0 1 506.60 42.16 Z" fill="#ffb400" stroke="#d99900"/>
<path d="M490.52 46.21 Q537.25 154.00 593.19 49.39 A135.81 114.80 0 0 1 595.28 50.21 Q537.25 154.00 489.28 46.60 A135.81 114.80 0 0 1 490.52 46.21 Z" fill="#ffb400" stroke="#d99900"/>
<path d="M481.93 49.16 Q537.25 154.00 595.28 50.21 A135.81 114.80 0 0 1 597.36 51.06 Q537.25 154.00 480.72 49.62 A135.81 114.80 0 0 1 481.93 49.16 Z" fill="#ffb400" stroke="#d99900"/>
<path d="M473.60 52.59 Q537.25 154.00 597.36 51.06 A135.81 114.80 0 0 1 599.42 51.93 Q537.25 154.00 472.43 53.12 A135.81 114.80 0 0 1 473.60 52.59 Z" fill="#ffb400" stroke="#d99900"/>
<path d="M465.11 56.74 Q537.25 154.00 599.42 51.93 A135.81 114.80 0 0 1 601.46 52.84 Q537.25 154.00 463.54 57.58 A135.81 114.80 0 0 1 465.11 56.74 Z" fill="#ffb400" stroke="#d99900"/>
<path d="M457.85 60.86 Q537.25 154.00 601.46 52.84 A135.81 114.80 0 0 1 603.48 53.78 Q537.25 154.00 456.78 61.52 A135.81 114.80 0 0 1 457.85 60.86 Z" fill="#ffb400" stroke="#d99900"/>
<path d="M450.52 65.66 Q537.25 154.00 603.48 53.78 A135.81 114.80 0 0 1 605.49 54.74 Q537.25 154.00 449.50 66.38 A135.81 114.80 0 0 1 450.52 65.66 Z" fill="#ffb400" stroke="#d99900"/>
<path d="M438.00 75.64 Q537.25 154.00 605.49 54.74 A135.81 114.80 0 0 1 607.47 55.74 Q537.25 154.00 434.89 78.55 A135.81 114.80 0 0 1 438.00 75.64 Z" fill="#ffb400" stroke="#d99900"/>
<path d="M430.74 82.77 Q537.25 154.00 607.47 55.74 A135.81 114.80 0 0 1 609.43 56.76 Q537.25 154.00 429.60 84.01 A135.81 114.80 0 0 1 430.74 82.77 Z" fill="#ffb400" stroke="#d99900"/>
<path d="M425.54 88.72 Q537.25 154.00 609.43 56.76 A135.81 114.80 0 0 1 611.38 57.81 Q537.25 154.00 424.79 89.64 A135.81 114.80 0 0 1 425.54 88.72 Z" fill="#ffb400" stroke="#d99900"/>
<path d="M420.02 96.04 Q537.25 154.00 611.38 57.81 A135.81 114.80 0 0 1 613.30 58.89 Q537.25 154.00 418.87 97.74 A135.81 114.80 0 0 1 420.02 96.04 Z" fill="#ffb400" stroke="#d99900"/>
<path d="M415.62 102.93 Q537.25 154.00 613.30 58.89 A135.81 114.80 0 0 1 615.20 59.99 Q537.25 154.00 414.60 104.70 A135.81 114.80 0 0 1 415.62 102.93 Z" fill="#ffb400" stroke="#d99900"/>
<path d="M406.13 124.11 Q537.25 154.00 615.20 59.99 A135.81 114.80 0 0 1 617.08 61.12 Q537.25 154.00 405.79 125.19 A135.81 114.80 0 0 1 406.13 124.11 Z" fill="#ffb400" stroke="#d99900"/>
<path d="M402.41 140.31 Q537.25 154.00 617.08 61.12 A135.81 114.80 0 0 1 618.93 62.28 Q537.25 154.00 402.15 142.26 A135.81 114.80 0 0 1 402.41 140.31 Z" fill="#ffb400" stroke="#d99900"/>
<path d="M401.44 154.00 Q537.25 154.00 618.93 62.28 A135.81 114.80 0 0 1 620.76 63.47 Q537.25 154.00 401.48 156.61 A135.81 114.80 0 0 1 401.44 154.00 Z" fill="#ffb400" stroke="#d99900"/>
<path d="M401.86 162.95 Q537.25 154.00 620.76 63.47 A135.81 114.80 0 0 1 622.57 64.68 Q537.25 154.00 401.96 164.07 A135.81 114.80 0 0 1 401.86 162.95 Z" fill="#ffb400" stroke="#d99900"/>
<path d="M402.71 169.63 Q537.25 154.00 622.57 64.68 A135.81 114.80 0 0 1 624.35 65.92 Q537.25 154.00 403.16 172.22 A135.81 114.80 0 0 1 402.71 169.63 Z" fill="#ffb400" stroke="#d99900"/>
<path d="M409.81 193.67 Q537.25 154.00 624.35 65.92 A135.81 114.80 0 0 1 626.11 67.18 Q537.25 154.00 410.35 194.90 A135.81 114.80 0 0 1 409.81 193.67 Z" fill="#ffb400" stroke="#d99900"/>
<path d="M421.82 214.48 Q537.25 154.00 626.11 67.18 A135.81 114.80 0 0 1 627.84 68.47 Q537.25 154.00 422.43 215.31 A135.81 114.80 0 0 1 421.82 214.48 Z" fill="#ffb400" stroke="#d99900"/>
<path d="M426.30 220.20 Q537.25 154.00 627.84 68.47 A135.81 114.80 0 0 1 629.54 69.78 Q537.25 154.00 428.11 222.32 A135.81 114.80 0 0 1 426.30 220.20 Z" fill="#ffb400" stroke="#d99900"/>
<path d="M438.79 233.07 Q537.25 154.00 629.54 69.78 A135.81 114.80 0 0 1 631.22 71.12 Q537.25 154.00 439.59 233.78 A135.81 114.80 0 0 1 438.79 233.07 Z" fill="#ffb400" stroke="#d99900"/>
<path d="M459.88 248.35 Q537.25 154.00 631.22 71.12 A135.81 114.80 0 0 1 632.87 72.48 Q537.25 154.00 460.84 248.90 A135.81 114.80 0 0 1 459.88 248.35 Z" fill="#ffb400" stroke="#d99900"/>
<path d="M468.68 253.09 Q537.25 154.00 632.87 72.48 A135.81 114.80 0 0 1 634.50 73.86 Q537.25 154.00 470.69 254.07 A135.81 114.80 0 0 1 468.68 253.09 Z" fill="#ffb400" stroke="#d99900"/>
<path d="M474.77 255.93 Q537.25 154.00 634.50 73.86 A135.81 114.80 0 0 1 636.09 75.27 Q537.25 154.00 477.53 257.11 A135.81 114.80 0 0 1 474.77 255.93 Z" fill="#ffb400" stroke="#d99900"/>
<path d="M484.36 259.74 Q537.25 154.00 636.09 75.27 A135.81 114.80 0 0 1 637.66 76.70 Q537.25 154.00 485.58 260.17 A135.81 114.80 0 0 1 484.36 259.74 Z" fill="#ffb400" stroke="#d99900"/>
<path d="M493.96 262.81 Q537.25 154.00 637.66 76.70 A135.81 114.80 0 0 1 639.20 78.15 Q537.25 154.00 496.17 263.42 A135.81 114.80 0 0 1 493.96 262.81 Z" fill="#ffb400" stroke="#d99900"/>
<path d="M509.62 266.40 Q537.25 154.00 639.20 78.15 A135.81 114.80 0 0 1 640.71 79.63 Q537.25 154.00 512.65 266.90 A135.81 114.80 0 0 1 509.62 266.40 Z" fill="#ffb400" stroke="#d99900"/>
<path d="M489.28 46.60 Q537.25 154.00 640.71 79.63 A135.81 114.80 0 0 1 642.19 81.12 Q537.25 154.00 488.05 47.00 A135.81 114.80 0 0 1 489.28 46.60 Z" fill="#00f000" stroke="#00cc00"/>
<path d="M480.72 49.62 Q537.25 154.00 642.19 81.12 A135.81 114.80 0 0 1 643.63 82.64 Q537.25 154.00 479.52 50.09 A135.81 114.80 0 0 1 480.72 49.62 Z" fill="#00f000" stroke="#00cc00"/>
<path d="M472.43 53.12 Q537.25 154.00 643.63 82.64 A135.81 114.80 0 0 1 645.05 84.18 Q537.25 154.00 471.27 53.66 A135.81 114.80 0 0 1 472.43 53.12 Z" fill="#00f000" stroke="#00cc00"/>
<path d="M456.78 61.52 Q537.25 154.00 645.05 84.18 A135.81 114.80 0 0 1 646.44 85.74 Q537.25 154.00 455.72 62.19 A135.81 114.80 0 0 1 456.78 61.52 Z" fill="#00f000" stroke="#00cc00"/>
<path d="M449.50 66.38 Q537.25 154.00 646.44 85.74 A135.81 114.80 0 0 1 647.80 87.31 Q537.25 154.00 448.50 67.11 A135.81 114.80 0 0 1 449.50 66.38 Z" fill="#00f000" stroke="#00cc00"/>
<path d="M424.79 89.64 Q537.25 154.00 647.80 87.31 A135.81 114.80 0 0 1 649.12 88.91 Q537.25 154.00 424.05 90.57 A135.81 114.80 0 0 1 424.79 89.64 Z" fill="#00f000" stroke="#00cc00"/>
<path d="M412.69 108.26 Q537.25 154.00 649.12 88.91 A135.81 114.80 0 0 1 650.41 90.52 Q537.25 154.00 411.49 110.67 A135.81 114.80 0 0 1 412.69 108.26 Z" fill="#00f000" stroke="#00cc00"/>
<path d="M409.28 115.56 Q537.25 154.00 650.41 90.52 A135.81 114.80 0 0 1 651.67 92.16 Q537.25 154.00 408.28 118.03 A135.81 114.80 0 0 1 409.28 115.56 Z" fill="#00f000" stroke="#00cc00"/>
<path d="M405.79 125.19 Q537.25 154.00 651.67 92.16 A135.81 114.80 0 0 1 652.89 93.81 Q537.25 154.00 405.46 126.28 A135.81 114.80 0 0 1 405.79 125.19 Z" fill="#00f000" stroke="#00cc00"/>
<path d="M402.15 142.26 Q537.25 154.00 652.89 93.81 A135.81 114.80 0 0 1 654.09 95.48 Q537.25 154.00 401.94 144.21 A135.81 114.80 0 0 1 402.15 142.26 Z" fill="#00f000" stroke="#00cc00"/>
<path d="M401.96 164.07 Q537.25 154.00 654.09 95.48 A135.81 114.80 0 0 1 655.25 97.16 Q537.25 154.00 402.09 165.18 A135.81 114.80 0 0 1 401.96 164.07 Z" fill="#00f000" stroke="#00cc00"/>
<path d="M404.28 177.36 Q537.25 154.00 655.25 97.16 A135.81 114.80 0 0 1 656.37 98.87 Q537.25 154.00 404.95 179.91 A135.81 114.80 0 0 1 404.28 177.36 Z" fill="#00f000" stroke="#00cc00"/>
<path d="M406.48 184.97 Q537.25 154.00 656.37 98.87 A135.81 114.80 0 0 1 657.46 100.58 Q537.25 154.00 407.35 187.48 A135.81 114.80 0 0 1 406.48 184.97 Z" fill="#00f000" stroke="#00cc00"/>
<path d="M410.35 194.90 Q537.25 154.00 657.46 100.58 A135.81 114.80 0 0 1 658.52 102.32 Q537.25 154.00 410.91 196.11 A135.81 114.80 0 0 1 410.35 194.90 Z" fill="#00f000" stroke="#00cc00"/>
<path d="M422.43 215.31 Q537.25 154.00 658.52 102.32 A135.81 114.80 0 0 1 659.54 104.06 Q537.25 154.00 423.06 216.14 A135.81 114.80 0 0 1 422.43 215.31 Z" fill="#00f000" stroke="#00cc00"/>
<path d="M431.90 226.45 Q537.25 154.00 659.54 104.06 A135.81 114.80 0 0 1 660.52 105.83 Q537.25 154.00 433.08 227.66 A135.81 114.80 0 0 1 431.90 226.45 Z" fill="#00f000" stroke="#00cc00"/>
<path d="M439.59 233.78 Q537.25 154.00 660.52 105.83 A135.81 114.80 0 0 1 661.47 107.60 Q537.25 154.00 440.40 234.48 A135.81 114.80 0 0 1 439.59 233.78 Z" fill="#00f000" stroke="#00cc00"/>
<path d="M460.84 248.90 Q537.25 154.00 661.47 107.60 A135.81 114.80 0 0 1 662.39 109.39 Q537.25 154.00 461.80 249.45 A135.81 114.80 0 0 1 460.84 248.90 Z" fill="#00f000" stroke="#00cc00"/>
<path d="M485.58 260.17 Q537.25 154.00 662.39 109.39 A135.81 114.80 0 0 1 663.27 111.20 Q537.25 154.00 486.81 260.59 A135.81 114.80 0 0 1 485.58 260.17 Z" fill="#00f000" stroke="#00cc00"/>
<path d="M518.76 40.27 Q537.25 154.00 663.27 111.20 A135.81 114.80 0 0 1 664.11 113.01 Q537.25 154.00 515.70 40.65 A135.81 114.80 0 0 1 518.76 40.27 Z" fill="#00f000" stroke="#00cc00"/>
<path d="M488.05 47.00 Q537.25 154.00 664.11 113.01 A135.81 114.80 0 0 1 664.91 114.84 Q537.25 154.00 486.81 47.41 A135.81 114.80 0 0 1 488.05 47.00 Z" fill="#00f000" stroke="#00cc00"/>
<path d="M479.52 50.09 Q537.25 154.00 664.91 114.84 A135.81 114.80 0 0 1 665.68 116.68 Q537.25 154.00 478.32 50.57 A135.81 114.80 0 0 1 479.52 50.09 Z" fill="#00f000" stroke="#00cc00"/>
<path d="M471.27 53.66 Q537.25 154.00 665.68 116.68 A135.81 114.80 0 0 1 666.41 118.52 Q537.25 154.00 470.11 54.21 A135.81 114.80 0 0 1 471.27 53.66 Z" fill="#00f000" stroke="#00cc00"/>
<path d="M455.72 62.19 Q537.25 154.00 666.41 118.52 A135.81 114.80 0 0 1 667.11 120.38 Q537.25 154.00 454.66 62.87 A135.81 114.80 0 0 1 455.72 62.19 Z" fill="#00f000" stroke="#00cc00"/>
<path d="M448.50 67.11 Q537.25 154.00 667.11 120.38 A135.81 114.80 0 0 1 667.76 122.25 Q537.25 154.00 447.50 67.84 A135.81 114.80 0 0 1 448.50 67.11 Z" fill="#00f000" stroke="#00cc00"/>
<path d="M429.60 84.01 Q537.25 154.00 667.76 122.25 A135.81 114.80 0 0 1 668.38 124.13 Q537.25 154.00 428.48 85.26 A135.81 114.80 0 0 1 429.60 84.01 Z" fill="#00f000" stroke="#00cc00"/>
<path d="M424.05 90.57 Q537.25 154.00 668.38 124.13 A135.81 114.80 0 0 1 668.96 126.02 Q537.25 154.00 423.33 91.51 A135.81 114.80 0 0 1 424.05 90.57 Z" fill="#00f000" stroke="#00cc00"/>
<path d="M418.87 97.74 Q537.25 154.00 668.96 126.02 A135.81 114.80 0 0 1 669.51 127.91 Q537.25 154.00 417.75 99.45 A135.81 114.80 0 0 1 418.87 97.74 Z" fill="#00f000" stroke="#00cc00"/>
<path d="M411.49 110.67 Q537.25 154.00 669.51 127.91 A135.81 114.80 0 0 1 670.01 129.81 Q537.25 154.00 410.35 113.10 A135.81 114.80 0 0 1 411.49 110.67 Z" fill="#00f000" stroke="#00cc00"/>
<path d="M408.28 118.03 Q537.25 154.00 670.01 129.81 A135.81 114.80 0 0 1 670.48 131.72 Q537.25 154.00 407.35 120.52 A135.81 114.80 0 0 1 408.28 118.03 Z" fill="#00f000" stroke="#00cc00"/>
<path d="M405.46 126.28 Q537.25 154.00 670.48 131.72 A135.81 114.80 0 0 1 670.91 133.64 Q537.25 154.00 405.15 127.36 A135.81 114.80 0 0 1 405.46 126.28 Z" fill="#00f000" stroke="#00cc00"/>
<path d="M404.28 130.64 Q537.25 154.00 670.91 133.64 A135.81 114.80 0 0 1 671.29 135.56 Q537.25 154.00 403.69 133.21 A135.81 114.80 0 0 1 404.28 130.64 Z" fill="#00f000" stroke="#00cc00"/>
<path d="M401.52 150.08 Q537.25 154.00 671.29 135.56 A135.81 114.80 0 0 1 671.65 137.49 Q537.25 154.00 401.44 154.00 A135.81 114.80 0 0 1 401.52 150.08 Z" fill="#00f000" stroke="#00cc00"/>
<path d="M402.09 165.18 Q537.25 154.00 671.65 137.49 A135.81 114.80 0 0 1 671.96 139.42 Q537.25 154.00 402.22 166.30 A135.81 114.80 0 0 1 402.09 165.18 Z" fill="#00f000" stroke="#00cc00"/>
<path d="M404.95 179.91 Q537.25 154.00 671.96 139.42 A135.81 114.80 0 0 1 672.23 141.35 Q537.25 154.00 405.68 182.45 A135.81 114.80 0 0 1 404.95 179.91 Z" fill="#00f000" stroke="#00cc00"/>
<path d="M407.35 187.48 Q537.25 154.00 672.23 141.35 A135.81 114.80 0 0 1 672.47 143.29 Q537.25 154.00 408.28 189.97 A135.81 114.80 0 0 1 407.35 187.48 Z" fill="#00f000" stroke="#00cc00"/>
<path d="M410.91 196.11 Q537.25 154.00 672.47 143.29 A135.81 114.80 0 0 1 672.66 145.24 Q537.25 154.00 411.49 197.33 A135.81 114.80 0 0 1 410.91 196.11 Z" fill="#00f000" stroke="#00cc00"/>
<path d="M423.06 216.14 Q537.25 154.00 672.66 145.24 A135.81 114.80 0 0 1 672.82 147.18 Q537.25 154.00 423.69 216.96 A135.81 114.80 0 0 1 423.06 216.14 Z" fill="#00f000" stroke="#00cc00"/>
<path d="M433.08 227.66 Q537.25 154.00 672.82 147.18 A135.81 114.80 0 0 1 672.94 149.13 Q537.25 154.00 434.28 228.85 A135.81 114.80 0 0 1 433.08 227.66 Z" fill="#00f000" stroke="#00cc00"/>
<path d="M440.40 234.48 Q537.25 154.00 672.94 149.13 A135.81 114.80 0 0 1 673.01 151.08 Q537.25 154.00 441.22 235.18 A135.81 114.80 0 0 1 440.40 234.48 Z" fill="#00f000" stroke="#00cc00"/>
<path d="M461.80 249.45 Q537.25 154.00 673.01 151.08 A135.81 114.80 0 0 1 673.05 153.03 Q537.25 154.00 462.77 249.99 A135.81 114.80 0 0 1 461.80 249.45 Z" fill="#00f000" stroke="#00cc00"/>
<path d="M486.81 260.59 Q537.25 154.00 673.05 153.03 A135.81 114.80 0 0 1 673.05 154.97 Q537.25 154.00 488.05 261.00 A135.81 114.80 0 0 1 486.81 260.59 Z" fill="#00f000" stroke="#00cc00"/>
<path d="M527.98 268.53 Q537.25 154.00 673.05 154.97 A135.81 114.80 0 0 1 673.01 156.92 Q537.25 154.00 530.30 268.65 A135.81 114.80 0 0 1 527.98 268.53 Z" fill="#00f000" stroke="#00cc00"/>
<path d="M486.81 47.41 Q537.25 154.00 673.01 156.92 A135.81 114.80 0 0 1 672.94 158.87 Q537.25 154.00 485.58 47.83 A135.81 114.80 0 0 1 486.81 47.41 Z" fill="#00f0f0" stroke="#00cccc"/>
<path d="M478.32 50.57 Q537.25 154.00 672.94 158.87 A135.81 114.80 0 0 1 672.82 160.82 Q537.25 154.00 477.13 51.06 A135.81 114.80 0 0 1 478.32 50.57 Z" fill="#00f0f0" stroke="#00cccc"/>
<path d="M470.11 54.21 Q537.25 154.00 672.82 160.82 A135.81 114.80 0 0 1 672.66 162.76 Q537.25 154.00 468.96 54.77 A135.81 114.80 0 0 1 470.11 54.21 Z" fill="#00f0f0" stroke="#00cccc"/>
<path d="M463.54 57.58 Q537.25 154.00 672.66 162.76 A135.81 114.80 0 0 1 672.47 164.71 Q537.25 154.00 461.99 58.44 A135.81 114.80 0 0 1 463.54 57.58 Z" fill="#00f0f0" stroke="#00cccc"/>
<path d="M454.66 62.87 Q537.25 154.00 672.47 164.71 A135.81 114.80 0 0 1 672.23 166.65 Q537.25 154.00 453.61 63.55 A135.81 114.80 0 0 1 454.66 62.87 Z" fill="#00f0f0" stroke="#00cccc"/>
<path d="M447.50 67.84 Q537.25 154.00 672.23 166.65 A135.81 114.80 0 0 1 671.96 168.58 Q537.25 154.00 446.51 68.59 A135.81 114.80 0 0 1 447.50 67.84 Z" fill="#00f0f0" stroke="#00cccc"/>
<path d="M423.33 91.51 Q537.25 154.00 671.96 168.58 A135.81 114.80 0 0 1 671.65 170.51 Q537.25 154.00 422.61 92.45 A135.81 114.80 0 0 1 423.33 91.51 Z" fill="#00f0f0" stroke="#00cccc"/>
<path d="M405.15 127.36 Q537.25 154.00 671.65 170.51 A135.81 114.80 0 0 1 671.29 172.44 Q537.25 154.00 404.85 128.45 A135.81 114.80 0 0 1 405.15 127.36 Z" fill="#00f0f0" stroke="#00cccc"/>
<path d="M403.69 133.21 Q537.25 154.00 671.29 172.44 A135.81 114.80 0 0 1 670.91 174.36 Q537.25 154.00 403.16 135.78 A135.81 114.80 0 0 1 403.69 133.21 Z" fill="#00f0f0" stroke="#00cccc"/>
<path d="M401.48 156.61 Q537.25 154.00 670.91 174.36 A135.81 114.80 0 0 1 670.48 176.28 Q537.25 154.00 401.58 159.23 A135.81 114.80 0 0 1 401.48 156.61 Z" fill="#00f0f0" stroke="#00cccc"/>
<path d="M402.22 166.30 Q537.25 154.00 670.48 176.28 A135.81 114.80 0 0 1 670.01 178.19 Q537.25 154.00 402.37 167.41 A135.81 114.80 0 0 1 402.22 166.30 Z" fill="#00f0f0" stroke="#00cccc"/>
<path d="M403.16 172.22 Q537.25 154.00 670.01 178.19 A135.81 114.80 0 0 1 669.51 180.09 Q537.25 154.00 403.69 174.79 A135.81 114.80 0 0 1 403.16 172.22 Z" fill="#00f0f0" stroke="#00cccc"/>
<path d="M411.49 197.33 Q537.25 154.00 669.51 180.09 A135.81 114.80 0 0 1 668.96 181.98 Q537.25 154.00 412.08 198.53 A135.81 114.80 0 0 1 411.49 197.33 Z" fill="#00f0f0" stroke="#00cccc"/>
<path d="M416.67 206.82 Q537.25 154.00 668.96 181.98 A135.81 114.80 0 0 1 668.38 183.87 Q537.25 154.00 418.87 210.26 A135.81 114.80 0 0 1 416.67 206.82 Z" fill="#00f0f0" stroke="#00cccc"/>
<path d="M423.69 216.96 Q537.25 154.00 668.38 183.87 A135.81 114.80 0 0 1 667.76 185.75 Q537.25 154.00 424.33 217.78 A135.81 114.80 0 0 1 423.69 216.96 Z" fill="#00f0f0" stroke="#00cccc"/>
<path d="M434.28 228.85 Q537.25 154.00 667.76 185.75 A135.81 114.80 0 0 1 667.11 187.62 Q537.25 154.00 435.50 230.04 A135.81 114.80 0 0 1 434.28 228.85 Z" fill="#00f0f0" stroke="#00cccc"/>
<path d="M441.22 235.18 Q537.25 154.00 667.11 187.62 A135.81 114.80 0 0 1 666.41 189.48 Q537.25 154.00 442.04 235.87 A135.81 114.80 0 0 1 441.22 235.18 Z" fill="#00f0f0" stroke="#00cccc"/>
<path d="M462.77 249.99 Q537.25 154.00 666.41 189.48 A135.81 114.80 0 0 1 665.68 191.32 Q537.25 154.00 463.74 250.53 A135.81 114.80 0 0 1 462.77 249.99 Z" fill="#00f0f0" stroke="#00cccc"/>
<path d="M488.05 261.00 Q537.25 154.00 665.68 191.32 A135.81 114.80 0 0 1 664.91 193.16 Q537.25 154.00 489.28 261.40 A135.81 114.80 0 0 1 488.05 261.00 Z" fill="#00f0f0" stroke="#00cccc"/>
<path d="M530.30 268.65 Q537.25 154.00 664.91 193.16 A135.81 114.80 0 0 1 664.11 194.99 Q537.25 154.00 532.61 268.73 A135.81 114.80 0 0 1 530.30 268.65 Z" fill="#00f0f0" stroke="#00cccc"/>
<path d="M521.82 39.94 Q537.25 154.00 664.11 194.99 A135.81 114.80 0 0 1 663.27 196.80 Q537.25 154.00 518.76 40.27 A135.81 114.80 0 0 1 521.82 39.94 Z" fill="#1010f0" stroke="#0e0ecc"/>
<path d="M515.70 40.65 Q537.25 154.00 663.27 196.80 A135.81 114.80 0 0 1 662.39 198.61 Q537.25 154.00 512.65 41.10 A135.81 114.80 0 0 1 515.70 40.65 Z" fill="#1010f0" stroke="#0e0ecc"/>
<path d="M485.58 47.83 Q537.25 154.00 662.39 198.61 A135.81 114.80 0 0 1 661.47 200.40 Q537.25 154.00 484.36 48.26 A135.81 114.80 0 0 1 485.58 47.83 Z" fill="#1010f0" stroke="#0e0ecc"/>
<path d="M477.13 51.06 Q537.25 154.00 661.47 200.40 A135.81 114.80 0 0 1 660.52 202.17 Q537.25 154.00 475.95 51.56 A135.81 114.80 0 0 1 477.13 51.06 Z" fill="#1010f0" stroke="#0e0ecc"/>
<path d="M468.96 54.77 Q537.25 154.00 660.52 202.17 A135.81 114.80 0 0 1 659.54 203.94 Q537.25 154.00 467.82 55.34 A135.81 114.80 0 0 1 468.96 54.77 Z" fill="#1010f0" stroke="#0e0ecc"/>
<path d="M461.99 58.44 Q537.25 154.00 659.54 203.94 A135.81 114.80 0 0 1 658.52 205.68 Q537.25 154.00 460.45 59.32 A135.81 114.80 0 0 1 461.99 58.44 Z" fill="#1010f0" stroke="#0e0ecc"/>
<path d="M453.61 63.55 Q537.25 154.00 658.52 205.68 A135.81 114.80 0 0 1 657.46 207.42 Q537.25 154.00 452.57 64.25 A135.81 114.80 0 0 1 453.61 63.55 Z" fill="#1010f0" stroke="#0e0ecc"/>
<path d="M446.51 68.59 Q537.25 154.00 657.46 207.42 A135.81 114.80 0 0 1 656.37 209.13 Q537.25 154.00 445.53 69.34 A135.81 114.80 0 0 1 446.51 68.59 Z" fill="#1010f0" stroke="#0e0ecc"/>
<path d="M434.89 78.55 Q537.25 154.00 656.37 209.13 A135.81 114.80 0 0 1 655.25 210.84 Q537.25 154.00 431.90 81.55 A135.81 114.80 0 0 1 434.89 78.55 Z" fill="#1010f0" stroke="#0e0ecc"/>
<path d="M428.48 85.26 Q537.25 154.00 655.25 210.84 A135.81 114.80 0 0 1 654.09 212.52 Q537.25 154.00 427.38 86.52 A135.81 114.80 0 0 1 428.48 85.26 Z" fill="#1010f0" stroke="#0e0ecc"/>
<path d="M422.61 92.45 Q537.25 154.00 654.09 212.52 A135.81 114.80 0 0 1 652.89 214.19 Q537.25 154.00 421.91 93.40 A135.81 114.80 0 0 1 422.61 92.45 Z" fill="#1010f0" stroke="#0e0ecc"/>
<path d="M417.75 99.45 Q537.25 154.00 652.89 214.19 A135.81 114.80 0 0 1 651.67 215.84 Q537.25 154.00 416.67 101.18 A135.81 114.80 0 0 1 417.75 99.45 Z" fill="#1010f0" stroke="#0e0ecc"/>
<path d="M414.60 104.70 Q537.25 154.00 651.67 215.84 A135.81 114.80 0 0 1 650.41 217.48 Q537.25 154.00 413.63 106.47 A135.81 114.80 0 0 1 414.60 104.70 Z" fill="#1010f0" stroke="#0e0ecc"/>
<path d="M410.35 113.10 Q537.25 154.00 650.41 217.48 A135.81 114.80 0 0 1 649.12 219.09 Q537.25 154.00 409.28 115.56 A135.81 114.80 0 0 1 410.35 113.10 Z" fill="#1010f0" stroke="#0e0ecc"/>
<path d="M404.85 128.45 Q537.25 154.00 649.12 219.09 A135.81 114.80 0 0 1 647.80 220.69 Q537.25 154.00 404.56 129.55 A135.81 114.80 0 0 1 404.85 128.45 Z" fill="#1010f0" stroke="#0e0ecc"/>
<path d="M403.16 135.78 Q537.25 154.00 647.80 220.69 A135.81 114.80 0 0 1 646.44 222.26 Q537.25 154.00 402.71 138.37 A135.81 114.80 0 0 1 403.16 135.78 Z" fill="#1010f0" stroke="#0e0ecc"/>
<path d="M401.94 144.21 Q537.25 154.00 646.44 222.26 A135.81 114.80 0 0 1 645.05 223.82 Q537.25 154.00 401.76 146.17 A135.81 114.80 0 0 1 401.94 144.21 Z" fill="#1010f0" stroke="#0e0ecc"/>
<path d="M402.37 167.41 Q537.25 154.00 645.05 223.82 A135.81 114.80 0 0 1 643.63 225.36 Q537.25 154.00 402.53 168.52 A135.81 114.80 0 0 1 402.37 167.41 Z" fill="#1010f0" stroke="#0e0ecc"/>
<path d="M403.69 174.79 Q537.25 154.00 643.63 225.36 A135.81 114.80 0 0 1 642.19 226.88 Q537.25 154.00 404.28 177.36 A135.81 114.80 0 0 1 403.69 174.79 Z" fill="#1010f0" stroke="#0e0ecc"/>
<path d="M412.08 198.53 Q537.25 154.00 642.19 226.88 A135.81 114.80 0 0 1 640.71 228.37 Q537.25 154.00 412.69 199.74 A135.81 114.80 0 0 1 412.08 198.53 Z" fill="#1010f0" stroke="#0e0ecc"/>
<path d="M418.87 210.26 Q537.25 154.00 640.71 228.37 A135.81 114.80 0 0 1 639.20 229.85 Q537.25 154.00 421.21 213.65 A135.81 114.80 0 0 1 418.87 210.26 Z" fill="#1010f0" stroke="#0e0ecc"/>
<path d="M424.33 217.78 Q537.25 154.00 639.20 229.85 A135.81 114.80 0 0 1 637.66 231.30 Q537.25 154.00 424.98 218.59 A135.81 114.80 0 0 1 424.33 217.78 Z" fill="#1010f0" stroke="#0e0ecc"/>
<path d="M428.11 222.32 Q537.25 154.00 637.66 231.30 A135.81 114.80 0 0 1 636.09 232.73 Q537.25 154.00 429.98 224.40 A135.81 114.80 0 0 1 428.11 222.32 Z" fill="#1010f0" stroke="#0e0ecc"/>
<path d="M442.04 235.87 Q537.25 154.00 636.09 232.73 A135.81 114.80 0 0 1 634.50 234.14 Q537.25 154.00 442.87 236.55 A135.81 114.80 0 0 1 442.04 235.87 Z" fill="#1010f0" stroke="#0e0ecc"/>
<path d="M463.74 250.53 Q537.25 154.00 634.50 234.14 A135.81 114.80 0 0 1 632.87 235.52 Q537.25 154.00 464.72 251.05 A135.81 114.80 0 0 1 463.74 250.53 Z" fill="#1010f0" stroke="#0e0ecc"/>
<path d="M470.69 254.07 Q537.25 154.00 632.87 235.52 A135.81 114.80 0 0 1 631.22 236.88 Q537.25 154.00 472.72 255.01 A135.81 114.80 0 0 1 470.69 254.07 Z" fill="#1010f0" stroke="#0e0ecc"/>
<path d="M477.53 257.11 Q537.25 154.00 631.22 236.88 A135.81 114.80 0 0 1 629.54 238.22 Q537.25 154.00 480.32 258.23 A135.81 114.80 0 0 1 477.53 257.11 Z" fill="#1010f0" stroke="#0e0ecc"/>
<path d="M489.28 261.40 Q537.25 154.00 629.54 238.22 A135.81 114.80 0 0 1 627.84 239.53 Q537.25 154.00 490.52 261.79 A135.81 114.80 0 0 1 489.28 261.40 Z" fill="#1010f0" stroke="#0e0ecc"/>
<path d="M496.17 263.42 Q537.25 154.00 627.84 239.53 A135.81 114.80 0 0 1 626.11 240.82 Q537.25 154.00 498.38 264.00 A135.81 114.80 0 0 1 496.17 263.42 Z" fill="#1010f0" stroke="#0e0ecc"/>
<path d="M512.65 41.10 Q537.25 154.00 626.11 240.82 A135.81 114.80 0 0 1 624.35 242.08 Q537.25 154.00 509.62 41.60 A135.81 114.80 0 0 1 512.65 41.10 Z" fill="#8c00f0" stroke="#7700cc"/>
<path d="M484.36 48.26 Q537.25 154.00 624.35 242.08 A135.81 114.80 0 0 1 622.57 243.32 Q537.25 154.00 483.14 48.70 A135.81 114.80 0 0 1 484.36 48.26 Z" fill="#8c00f0" stroke="#7700cc"/>
<path d="M475.95 51.56 Q537.25 154.00 622.57 243.32 A135.81 114.80 0 0 1 620.76 244.53 Q537.25 154.00 474.77 52.07 A135.81 114.80 0 0 1 475.95 51.56 Z" fill="#8c00f0" stroke="#7700cc"/>
<path d="M467.82 55.34 Q537.25 154.00 620.76 244.53 A135.81 114.80 0 0 1 618.93 245.72 Q537.25 154.00 466.69 55.91 A135.81 114.80 0 0 1 467.82 55.34 Z" fill="#8c00f0" stroke="#7700cc"/>
<path d="M460.45 59.32 Q537.25 154.00 618.93 245.72 A135.81 114.80 0 0 1 617.08 246.88 Q537.25 154.00 458.93 60.21 A135.81 114.80 0 0 1 460.45 59.32 Z" fill="#8c00f0" stroke="#7700cc"/>
<path d="M452.57 64.25 Q537.25 154.00 617.08 246.88 A135.81 114.80 0 0 1 615.20 248.01 Q537.25 154.00 451.54 64.95 A135.81 114.80 0 0 1 452.57 64.25 Z" fill="#8c00f0" stroke="#7700cc"/>
<path d="M445.53 69.34 Q537.25 154.00 615.20 248.01 A135.81 114.80 0 0 1 613.30 249.11 Q537.25 154.00 444.55 70.10 A135.81 114.80 0 0 1 445.53 69.34 Z" fill="#8c00f0" stroke="#7700cc"/>
<path d="M427.38 86.52 Q537.25 154.00 613.30 249.11 A135.81 114.80 0 0 1 611.38 250.19 Q537.25 154.00 426.30 87.80 A135.81 114.80 0 0 1 427.38 86.52 Z" fill="#8c00f0" stroke="#7700cc"/>
<path d="M421.91 93.40 Q537.25 154.00 611.38 250.19 A135.81 114.80 0 0 1 609.43 251.24 Q537.25 154.00 421.21 94.35 A135.81 114.80 0 0 1 421.91 93.40 Z" fill="#8c00f0" stroke="#7700cc"/>
<path d="M413.63 106.47 Q537.25 154.00 609.43 251.24 A135.81 114.80 0 0 1 607.47 252.26 Q537.25 154.00 412.69 108.26 A135.81 114.80 0 0 1 413.63 106.47 Z" fill="#8c00f0" stroke="#7700cc"/>
<path d="M407.35 120.52 Q537.25 154.00 607.47 252.26 A135.81 114.80 0 0 1 605.49 253.26 Q537.25 154.00 406.48 123.03 A135.81 114.80 0 0 1 407.35 120.52 Z" fill="#8c00f0" stroke="#7700cc"/>
<path d="M404.56 129.55 Q537.25 154.00 605.49 253.26 A135.81 114.80 0 0 1 603.48 254.22 Q537.25 154.00 404.28 130.64 A135.81 114.80 0 0 1 404.56 129.55 Z" fill="#8c00f0" stroke="#7700cc"/>
<path d="M402.53 168.52 Q537.25 154.00 603.48 254.22 A135.81 114.80 0 0 1 601.46 255.16 Q537.25 154.00 402.71 169.63 A135.81 114.80 0 0 1 402.53 168.52 Z" fill="#8c00f0" stroke="#7700cc"/>
<path d="M405.68 182.45 Q537.25 154.00 601.46 255.16 A135.81 114.80 0 0 1 599.42 256.07 Q537.25 154.00 406.48 184.97 A135.81 114.80 0 0 1 405.68 182.45 Z" fill="#8c00f0" stroke="#7700cc"/>
<path d="M408.28 189.97 Q537.25 154.00 599.42 256.07 A135.81 114.80 0 0 1 597.36 256.94 Q537.25 154.00 409.28 192.44 A135.81 114.80 0 0 1 408.28 189.97 Z" fill="#8c00f0" stroke="#7700cc"/>
<path d="M424.98 218.59 Q537.25 154.00 597.36 256.94 A135.81 114.80 0 0 1 595.28 257.79 Q537.25 154.00 425.63 219.40 A135.81 114.80 0 0 1 424.98 218.59 Z" fill="#8c00f0" stroke="#7700cc"/>
<path d="M435.50 230.04 Q537.25 154.00 595.28 257.79 A135.81 114.80 0 0 1 593.19 258.61 Q537.25 154.00 436.74 231.20 A135.81 114.80 0 0 1 435.50 230.04 Z" fill="#8c00f0" stroke="#7700cc"/>
<path d="M442.87 236.55 Q537.25 154.00 593.19 258.61 A135.81 114.80 0 0 1 591.08 259.40 Q537.25 154.00 443.71 237.23 A135.81 114.80 0 0 1 442.87 236.55 Z" fill="#8c00f0" stroke="#7700cc"/>
<path d="M464.72 251.05 Q537.25 154.00 591.08 259.40 A135.81 114.80 0 0 1 588.96 260.15 Q537.25 154.00 465.70 251.57 A135.81 114.80 0 0 1 464.72 251.05 Z" fill="#8c00f0" stroke="#7700cc"/>
<path d="M472.72 255.01 Q537.25 154.00 588.96 260.15 A135.81 114.80 0 0 1 586.82 260.88 Q537.25 154.00 474.77 255.93 A135.81 114.80 0 0 1 472.72 255.01 Z" fill="#8c00f0" stroke="#7700cc"/>
<path d="M490.52 261.79 Q537.25 154.00 586.82 260.88 A135.81 114.80 0 0 1 584.66 261.58 Q537.25 154.00 491.77 262.17 A135.81 114.80 0 0 1 490.52 261.79 Z" fill="#8c00f0" stroke="#7700cc"/>
<path d="M512.65 266.90 Q537.25 154.00 584.66 261.58 A135.81 114.80 0 0 1 582.49 262.24 Q537.25 154.00 515.70 267.35 A135.81 114.80 0 0 1 512.65 266.90 Z" fill="#8c00f0" stroke="#7700cc"/>
<path d="M532.61 268.73 Q537.25 154.00 582.49 262.24 A135.81 114.80 0 0 1 580.31 262.88 Q537.25 154.00 534.93 268.78 A135.81 114.80 0 0 1 532.61 268.73 Z" fill="#8c00f0" stroke="#7700cc"/>
<path d="M537.25 39.20 Q537.25 154.00 580.31 262.88 A135.81 114.80 0 0 1 578.12 263.48 Q537.25 154.00 527.98 39.47 A135.81 114.80 0 0 1 537.25 39.20 Z" fill="#ff00d2" stroke="#d900b2"/>
<path d="M503.60 42.78 Q537.25 154.00 578.12 263.48 A135.81 114.80 0 0 1 575.91 264.05 Q537.25 154.00 500.61 43.46 A135.81 114.80 0 0 1 503.60 42.78 Z" fill="#ff00d2" stroke="#d900b2"/>
<path d="M500.61 43.46 Q537.25 154.00 575.91 264.05 A135.81 114.80 0 0 1 573.70 264.59 Q537.25 154.00 491.77 45.83 A135.81 114.80 0 0 1 500.61 43.46 Z" fill="#ff00d2" stroke="#d900b2"/>
<path d="M444.55 70.10 Q537.25 154.00 573.70 264.59 A135.81 114.80 0 0 1 571.47 265.10 Q537.25 154.00 438.00 75.64 A135.81 114.80 0 0 1 444.55 70.10 Z" fill="#ff00d2" stroke="#d900b2"/>
<path d="M401.58 159.23 Q537.25 154.00 571.47 265.10 A135.81 114.80 0 0 1 569.23 265.57 Q537.25 154.00 401.76 161.83 A135.81 114.80 0 0 1 401.58 159.23 Z" fill="#ff00d2" stroke="#d900b2"/>
<path d="M412.69 199.74 Q537.25 154.00 569.23 265.57 A135.81 114.80 0 0 1 566.99 266.01 Q537.25 154.00 416.67 206.82 A135.81 114.80 0 0 1 412.69 199.74 Z" fill="#ff00d2" stroke="#d900b2"/>
<path d="M425.63 219.40 Q537.25 154.00 566.99 266.01 A135.81 114.80 0 0 1 564.73 266.42 Q537.25 154.00 426.30 220.20 A135.81 114.80 0 0 1 425.63 219.40 Z" fill="#ff00d2" stroke="#d900b2"/>
<path d="M429.98 224.40 Q537.25 154.00 564.73 266.42 A135.81 114.80 0 0 1 562.47 266.80 Q537.25 154.00 431.90 226.45 A135.81 114.80 0 0 1 429.98 224.40 Z" fill="#ff00d2" stroke="#d900b2"/>
<path d="M436.74 231.20 Q537.25 154.00 562.47 266.80 A135.81 114.80 0 0 1 560.20 267.15 Q537.25 154.00 438.00 232.36 A135.81 114.80 0 0 1 436.74 231.20 Z" fill="#ff00d2" stroke="#d900b2"/>
<path d="M443.71 237.23 Q537.25 154.00 560.20 267.15 A135.81 114.80 0 0 1 557.93 267.46 Q537.25 154.00 444.55 237.90 A135.81 114.80 0 0 1 443.71 237.23 Z" fill="#ff00d2" stroke="#d900b2"/>
<path d="M444.55 237.90 Q537.25 154.00 557.93 267.46 A135.81 114.80 0 0 1 555.64 267.74 Q537.25 154.00 451.54 243.05 A135.81 114.80 0 0 1 444.55 237.90 Z" fill="#ff00d2" stroke="#d900b2"/>
<path d="M451.54 243.05 Q537.25 154.00 555.64 267.74 A135.81 114.80 0 0 1 553.36 267.99 Q537.25 154.00 458.93 247.79 A135.81 114.80 0 0 1 451.54 243.05 Z" fill="#ff00d2" stroke="#d900b2"/>
<path d="M465.70 251.57 Q537.25 154.00 553.36 267.99 A135.81 114.80 0 0 1 551.06 268.20 Q537.25 154.00 466.69 252.09 A135.81 114.80 0 0 1 465.70 251.57 Z" fill="#ff00d2" stroke="#d900b2"/>
<path d="M480.32 258.23 Q537.25 154.00 551.06 268.20 A135.81 114.80 0 0 1 548.77 268.39 Q537.25 154.00 483.14 259.30 A135.81 114.80 0 0 1 480.32 258.23 Z" fill="#ff00d2" stroke="#d900b2"/>
<path d="M498.38 264.00 Q537.25 154.00 548.77 268.39 A135.81 114.80 0 0 1 546.47 268.54 Q537.25 154.00 500.61 264.54 A135.81 114.80 0 0 1 498.38 264.00 Z" fill="#ff00d2" stroke="#d900b2"/>
<path d="M500.61 264.54 Q537.25 154.00 546.47 268.54 A135.81 114.80 0 0 1 544.17 268.65 Q537.25 154.00 509.62 266.40 A135.81 114.80 0 0 1 500.61 264.54 Z" fill="#ff00d2" stroke="#d900b2"/>
<path d="M515.70 267.35 Q537.25 154.00 544.17 268.65 A135.81 114.80 0 0 1 541.86 268.73 Q537.25 154.00 518.76 267.73 A135.81 114.80 0 0 1 515.70 267.35 Z" fill="#ff00d2" stroke="#d900b2"/>
<path d="M518.76 267.73 Q537.25 154.00 541.86 268.73 A135.81 114.80 0 0 1 539.56 268.78 Q537.25 154.00 527.98 268.53 A135.81 114.80 0 0 1 518.76 267.73 Z" fill="#ff00d2" stroke="#d900b2"/>
<path d="M534.93 268.78 Q537.25 154.00 539.56 268.78 A135.81 114.80 0 0 1 537.25 268.80 Q537.25 154.00 537.25 268.80 A135.81 114.80 0 0 1 534.93 268.78 Z" fill="#ff00d2" stroke="#d900b2"/>
</g>
<path d="M537.25 28.00 A149.06 126.00 0 0 1 594.00 37.49 L589.05 47.66 A136.05 115.00 0 0 0 537.25 39.00 Z" fill="#f05050" stroke="#262626" stroke-width="0.6"/>
<path d="M594.00 37.49 A149.06 126.00 0 0 1 650.80 72.37 L640.89 79.50 A136.05 115.00 0 0 0 589.05 47.66 Z" fill="#e8b44a" stroke="#262626" stroke-width="0.6"/>
<path d="M650.80 72.37 A149.06 126.00 0 0 1 675.56 107.02 L663.48 111.12 A136.05 115.00 0 0 0 640.89 79.50 Z" fill="#66dd40" stroke="#262626" stroke-width="0.6"/>
<path d="M675.56 107.02 A149.06 126.00 0 0 1 686.26 157.21 L673.25 156.93 A136.05 115.00 0 0 0 663.48 111.12 Z" fill="#22dd70" stroke="#262626" stroke-width="0.6"/>
<path d="M686.26 157.21 A149.06 126.00 0 0 1 676.48 198.99 L664.33 195.06 A136.05 115.00 0 0 0 673.25 156.93 Z" fill="#22dcdc" stroke="#262626" stroke-width="0.6"/>
<path d="M676.48 198.99 A149.06 126.00 0 0 1 634.78 249.29 L626.26 240.97 A136.05 115.00 0 0 0 664.33 195.06 Z" fill="#3a70dc" stroke="#262626" stroke-width="0.6"/>
<path d="M634.78 249.29 A149.06 126.00 0 0 1 584.51 273.50 L580.39 263.07 A136.05 115.00 0 0 0 626.26 240.97 Z" fill="#b048e0" stroke="#262626" stroke-width="0.6"/>
<path d="M584.51 273.50 A149.06 126.00 0 0 1 537.25 280.00 L537.25 269.00 A136.05 115.00 0 0 0 580.39 263.07 Z" fill="#f848b0" stroke="#262626" stroke-width="0.6"/>
<path d="M527.08 28.29 A149.06 126.00 0 0 1 537.25 28.00 L537.25 33.80 A142.20 120.20 0 0 0 527.55 34.08 Z" fill="#f06058" stroke="#262626" stroke-width="0.45"/>
<path d="M516.95 29.17 A149.06 126.00 0 0 1 527.08 28.29 L527.55 34.08 A142.20 120.20 0 0 0 517.89 34.92 Z" fill="#f06058" stroke="#262626" stroke-width="0.45"/>
<path d="M506.92 30.64 A149.06 126.00 0 0 1 516.95 29.17 L517.89 34.92 A142.20 120.20 0 0 0 508.32 36.31 Z" fill="#f49281" stroke="#262626" stroke-width="0.45"/>
<path d="M497.03 32.67 A149.06 126.00 0 0 1 506.92 30.64 L508.32 36.31 A142.20 120.20 0 0 0 498.89 38.26 Z" fill="#f49382" stroke="#262626" stroke-width="0.45"/>
<path d="M487.33 35.28 A149.06 126.00 0 0 1 497.03 32.67 L498.89 38.26 A142.20 120.20 0 0 0 489.63 40.74 Z" fill="#f49483" stroke="#262626" stroke-width="0.45"/>
<path d="M477.87 38.43 A149.06 126.00 0 0 1 487.33 35.28 L489.63 40.74 A142.20 120.20 0 0 0 480.60 43.75 Z" fill="#f49484" stroke="#262626" stroke-width="0.45"/>
<path d="M468.67 42.13 A149.06 126.00 0 0 1 477.87 38.43 L480.60 43.75 A142.20 120.20 0 0 0 471.83 47.28 Z" fill="#f59585" stroke="#262626" stroke-width="0.45"/>
<path d="M459.80 46.34 A149.06 126.00 0 0 1 468.67 42.13 L471.83 47.28 A142.20 120.20 0 0 0 463.37 51.30 Z" fill="#f59686" stroke="#262626" stroke-width="0.45"/>
<path d="M451.29 51.06 A149.06 126.00 0 0 1 459.80 46.34 L463.37 51.30 A142.20 120.20 0 0 0 455.25 55.80 Z" fill="#f59787" stroke="#262626" stroke-width="0.45"/>
<path d="M443.18 56.26 A149.06 126.00 0 0 1 451.29 51.06 L455.25 55.80 A142.20 120.20 0 0 0 447.51 60.76 Z" fill="#f59888" stroke="#262626" stroke-width="0.45"/>
<path d="M435.51 61.91 A149.06 126.00 0 0 1 443.18 56.26 L447.51 60.76 A142.20 120.20 0 0 0 440.19 66.15 Z" fill="#f59989" stroke="#262626" stroke-width="0.45"/>
<path d="M428.31 68.00 A149.06 126.00 0 0 1 435.51 61.91 L440.19 66.15 A142.20 120.20 0 0 0 433.33 71.96 Z" fill="#f59a8a" stroke="#262626" stroke-width="0.45"/>
<path d="M421.62 74.48 A149.06 126.00 0 0 1 428.31 68.00 L433.33 71.96 A142.20 120.20 0 0 0 426.95 78.14 Z" fill="#f59b8b" stroke="#262626" stroke-width="0.45"/>
<path d="M415.47 81.34 A149.06 126.00 0 0 1 421.62 74.48 L426.95 78.14 A142.20 120.20 0 0 0 421.08 84.68 Z" fill="#f59c8c" stroke="#262626" stroke-width="0.45"/>
<path d="M409.89 88.53 A149.06 126.00 0 0 1 415.47 81.34 L421.08 84.68 A142.20 120.20 0 0 0 415.75 91.55 Z" fill="#f59c8d" stroke="#262626" stroke-width="0.45"/>
<path d="M404.90 96.03 A149.06 126.00 0 0 1 409.89 88.53 L415.75 91.55 A142.20 120.20 0 0 0 411.00 98.70 Z" fill="#f59d8e" stroke="#262626" stroke-width="0.45"/>
<path d="M400.53 103.80 A149.06 126.00 0 0 1 404.90 96.03 L411.00 98.70 A142.20 120.20 0 0 0 406.83 106.11 Z" fill="#f59e8f" stroke="#262626" stroke-width="0.45"/>
<path d="M396.80 111.81 A149.06 126.00 0 0 1 400.53 103.80 L406.83 106.11 A142.20 120.20 0 0 0 403.26 113.75 Z" fill="#f69f90" stroke="#262626" stroke-width="0.45"/>
<path d="M393.72 120.01 A149.06 126.00 0 0 1 396.80 111.81 L403.26 113.75 A142.20 120.20 0 0 0 400.33 121.57 Z" fill="#f6a091" stroke="#262626" stroke-width="0.45"/>
<path d="M391.31 128.36 A149.06 126.00 0 0 1 393.72 120.01 L400.33 121.57 A142.20 120.20 0 0 0 398.03 129.54 Z" fill="#f6a192" stroke="#262626" stroke-width="0.45"/>
<path d="M389.58 136.84 A149.06 126.00 0 0 1 391.31 128.36 L398.03 129.54 A142.20 120.20 0 0 0 396.38 137.63 Z" fill="#f6a293" stroke="#262626" stroke-width="0.45"/>
<path d="M388.54 145.40 A149.06 126.00 0 0 1 389.58 136.84 L396.38 137.63 A142.20 120.20 0 0 0 395.38 145.80 Z" fill="#f6a394" stroke="#262626" stroke-width="0.45"/>
<path d="M388.19 154.00 A149.06 126.00 0 0 1 388.54 145.40 L395.38 145.80 A142.20 120.20 0 0 0 395.05 154.00 Z" fill="#f6a495" stroke="#262626" stroke-width="0.45"/>
<path d="M388.54 162.60 A149.06 126.00 0 0 1 388.19 154.00 L395.05 154.00 A142.20 120.20 0 0 0 395.38 162.20 Z" fill="#f6a496" stroke="#262626" stroke-width="0.45"/>
<path d="M389.58 171.16 A149.06 126.00 0 0 1 388.54 162.60 L395.38 162.20 A142.20 120.20 0 0 0 396.38 170.37 Z" fill="#f6a597" stroke="#262626" stroke-width="0.45"/>
<path d="M391.31 179.64 A149.06 126.00 0 0 1 389.58 171.16 L396.38 170.37 A142.20 120.20 0 0 0 398.03 178.46 Z" fill="#f6a698" stroke="#262626" stroke-width="0.45"/>
<path d="M393.72 187.99 A149.06 126.00 0 0 1 391.31 179.64 L398.03 178.46 A142.20 120.20 0 0 0 400.33 186.43 Z" fill="#f6a799" stroke="#262626" stroke-width="0.45"/>
<path d="M396.80 196.19 A149.06 126.00 0 0 1 393.72 187.99 L400.33 186.43 A142.20 120.20 0 0 0 403.26 194.25 Z" fill="#f6a89a" stroke="#262626" stroke-width="0.45"/>
<path d="M400.53 204.20 A149.06 126.00 0 0 1 396.80 196.19 L403.26 194.25 A142.20 120.20 0 0 0 406.83 201.89 Z" fill="#f6a99b" stroke="#262626" stroke-width="0.45"/>
<path d="M404.90 211.97 A149.06 126.00 0 0 1 400.53 204.20 L406.83 201.89 A142.20 120.20 0 0 0 411.00 209.30 Z" fill="#f7aa9c" stroke="#262626" stroke-width="0.45"/>
<path d="M409.89 219.47 A149.06 126.00 0 0 1 404.90 211.97 L411.00 209.30 A142.20 120.20 0 0 0 415.75 216.45 Z" fill="#f7ab9d" stroke="#262626" stroke-width="0.45"/>
<path d="M415.47 226.66 A149.06 126.00 0 0 1 409.89 219.47 L415.75 216.45 A142.20 120.20 0 0 0 421.08 223.32 Z" fill="#f7ac9e" stroke="#262626" stroke-width="0.45"/>
<path d="M421.62 233.52 A149.06 126.00 0 0 1 415.47 226.66 L421.08 223.32 A142.20 120.20 0 0 0 426.95 229.86 Z" fill="#f7ac9f" stroke="#262626" stroke-width="0.45"/>
<path d="M428.31 240.00 A149.06 126.00 0 0 1 421.62 233.52 L426.95 229.86 A142.20 120.20 0 0 0 433.33 236.04 Z" fill="#f7ada0" stroke="#262626" stroke-width="0.45"/>
<path d="M435.51 246.09 A149.06 126.00 0 0 1 428.31 240.00 L433.33 236.04 A142.20 120.20 0 0 0 440.19 241.85 Z" fill="#f7aea1" stroke="#262626" stroke-width="0.45"/>
<path d="M443.18 251.74 A149.06 126.00 0 0 1 435.51 246.09 L440.19 241.85 A142.20 120.20 0 0 0 447.51 247.24 Z" fill="#f7afa2" stroke="#262626" stroke-width="0.45"/>
<path d="M451.29 256.94 A149.06 126.00 0 0 1 443.18 251.74 L447.51 247.24 A142.20 120.20 0 0 0 455.25 252.20 Z" fill="#f7b0a3" stroke="#262626" stroke-width="0.45"/>
<path d="M459.80 261.66 A149.06 126.00 0 0 1 451.29 256.94 L455.25 252.20 A142.20 120.20 0 0 0 463.37 256.70 Z" fill="#f7b1a4" stroke="#262626" stroke-width="0.45"/>
<path d="M468.67 265.87 A149.06 126.00 0 0 1 459.80 261.66 L463.37 256.70 A142.20 120.20 0 0 0 471.83 260.72 Z" fill="#f7b2a5" stroke="#262626" stroke-width="0.45"/>
<path d="M477.87 269.57 A149.06 126.00 0 0 1 468.67 265.87 L471.83 260.72 A142.20 120.20 0 0 0 480.60 264.25 Z" fill="#f7b3a6" stroke="#262626" stroke-width="0.45"/>
<path d="M487.33 272.72 A149.06 126.00 0 0 1 477.87 269.57 L480.60 264.25 A142.20 120.20 0 0 0 489.63 267.26 Z" fill="#f8b4a7" stroke="#262626" stroke-width="0.45"/>
<path d="M497.03 275.33 A149.06 126.00 0 0 1 487.33 272.72 L489.63 267.26 A142.20 120.20 0 0 0 498.89 269.74 Z" fill="#f8b4a8" stroke="#262626" stroke-width="0.45"/>
<path d="M506.92 277.36 A149.06 126.00 0 0 1 497.03 275.33 L498.89 269.74 A142.20 120.20 0 0 0 508.32 271.69 Z" fill="#f8b5a9" stroke="#262626" stroke-width="0.45"/>
<path d="M516.95 278.83 A149.06 126.00 0 0 1 506.92 277.36 L508.32 271.69 A142.20 120.20 0 0 0 517.89 273.08 Z" fill="#f8b6aa" stroke="#262626" stroke-width="0.45"/>
<path d="M527.08 279.71 A149.06 126.00 0 0 1 516.95 278.83 L517.89 273.08 A142.20 120.20 0 0 0 527.55 273.92 Z" fill="#f8b7ab" stroke="#262626" stroke-width="0.45"/>
<path d="M537.25 280.00 A149.06 126.00 0 0 1 527.08 279.71 L527.55 273.92 A142.20 120.20 0 0 0 537.25 274.20 Z" fill="#f8b8ac" stroke="#262626" stroke-width="0.45"/>
<g font-size="6.9" fill="#141414" stroke="#141414" stroke-width="0.2" text-anchor="end">
<text transform="translate(531.74 19.93) rotate(87.69) scale(0.920 1)" dy="2.76">MUC1</text>
<text transform="translate(520.73 20.55) rotate(83.07) scale(0.920 1)" dy="2.76">MYBL2</text>
<text transform="translate(509.81 21.79) rotate(78.47) scale(0.919 1)" dy="2.76">CCNE1</text>
<text transform="translate(499.01 23.64) rotate(73.92) scale(0.919 1)" dy="2.76">SPHK1</text>
<text transform="translate(488.39 26.10) rotate(69.42) scale(0.918 1)" dy="2.76">SOX4</text>
<text transform="translate(478.00 29.15) rotate(64.99) scale(0.917 1)" dy="2.76">BUB1B</text>
<text transform="translate(467.89 32.78) rotate(60.64) scale(0.915 1)" dy="2.76">KIF2C</text>
<text transform="translate(458.10 36.97) rotate(56.37) scale(0.914 1)" dy="2.76">CDC20</text>
<text transform="translate(448.68 41.70) rotate(52.19) scale(0.912 1)" dy="2.76">KIF18B</text>
<text transform="translate(439.67 46.96) rotate(48.10) scale(0.910 1)" dy="2.76">NCAPH</text>
<text transform="translate(431.11 52.70) rotate(44.11) scale(0.908 1)" dy="2.76">NUF2</text>
<text transform="translate(423.05 58.92) rotate(40.21) scale(0.905 1)" dy="2.76">FOXM1</text>
<text transform="translate(415.53 65.58) rotate(36.39) scale(0.903 1)" dy="2.76">RAD51</text>
<text transform="translate(408.57 72.64) rotate(32.66) scale(0.900 1)" dy="2.76">NCAPG</text>
<text transform="translate(402.21 80.09) rotate(29.01) scale(0.897 1)" dy="2.76">BIRC5</text>
<text transform="translate(396.48 87.87) rotate(25.42) scale(0.895 1)" dy="2.76">UBE2C</text>
<text transform="translate(391.40 95.96) rotate(21.90) scale(0.891 1)" dy="2.76">PKMYT1</text>
<text transform="translate(387.01 104.31) rotate(18.44) scale(0.888 1)" dy="2.76">CDT1</text>
<text transform="translate(383.32 112.89) rotate(15.02) scale(0.885 1)" dy="2.76">HJURP</text>
<text transform="translate(380.34 121.67) rotate(11.64) scale(0.882 1)" dy="2.76">BUB1</text>
<text transform="translate(378.10 130.58) rotate(8.29) scale(0.878 1)" dy="2.76">TOP2A</text>
<text transform="translate(376.60 139.61) rotate(4.97) scale(0.875 1)" dy="2.76">CCNB1</text>
<text transform="translate(375.84 148.70) rotate(1.65) scale(0.872 1)" dy="2.76">TGFA</text>
<text transform="translate(375.84 157.80) rotate(-1.65) scale(0.872 1)" dy="2.76">CDC6</text>
<text transform="translate(376.60 166.89) rotate(-4.97) scale(0.875 1)" dy="2.76">AURKB</text>
<text transform="translate(378.10 175.92) rotate(-8.29) scale(0.878 1)" dy="2.76">FANCD2</text>
<text transform="translate(380.34 184.83) rotate(-11.64) scale(0.882 1)" dy="2.76">PRC1</text>
<text transform="translate(383.32 193.61) rotate(-15.02) scale(0.885 1)" dy="2.76">OIP5</text>
<text transform="translate(387.01 202.19) rotate(-18.44) scale(0.888 1)" dy="2.76">SKA3</text>
<text transform="translate(391.40 210.54) rotate(-21.90) scale(0.891 1)" dy="2.76">P3H4</text>
<text transform="translate(396.48 218.63) rotate(-25.42) scale(0.895 1)" dy="2.76">DTL</text>
<text transform="translate(402.21 226.41) rotate(-29.01) scale(0.897 1)" dy="2.76">ZWINT</text>
<text transform="translate(408.57 233.86) rotate(-32.66) scale(0.900 1)" dy="2.76">FLNA</text>
<text transform="translate(415.53 240.92) rotate(-36.39) scale(0.903 1)" dy="2.76">DSCC1</text>
<text transform="translate(423.05 247.58) rotate(-40.21) scale(0.905 1)" dy="2.76">KNTC1</text>
<text transform="translate(431.11 253.80) rotate(-44.11) scale(0.908 1)" dy="2.76">UBE2S</text>
<text transform="translate(439.67 259.54) rotate(-48.10) scale(0.910 1)" dy="2.76">USH1C</text>
<text transform="translate(448.68 264.80) rotate(-52.19) scale(0.912 1)" dy="2.76">SPDL1</text>
<text transform="translate(458.10 269.53) rotate(-56.37) scale(0.914 1)" dy="2.76">RCC2</text>
<text transform="translate(467.89 273.72) rotate(-60.64) scale(0.915 1)" dy="2.76">FBXO5</text>
<text transform="translate(478.00 277.35) rotate(-64.99) scale(0.917 1)" dy="2.76">INCENP</text>
<text transform="translate(488.39 280.40) rotate(-69.42) scale(0.918 1)" dy="2.76">CDC25B</text>
<text transform="translate(499.01 282.86) rotate(-73.92) scale(0.919 1)" dy="2.76">CDKN3</text>
<text transform="translate(509.81 284.71) rotate(-78.47) scale(0.919 1)" dy="2.76">NCAPG2</text>
<text transform="translate(520.73 285.95) rotate(-83.07) scale(0.920 1)" dy="2.76">E2F3</text>
<text transform="translate(531.74 286.57) rotate(-87.69) scale(0.920 1)" dy="2.76">DDX11</text>
</g>
<text transform="translate(57.0 333.6) scale(0.86 1)" font-size="6.0" fill="#1a1a1a">GO Terms</text>
<rect x="83.0" y="321.2" width="7.6" height="7.2" fill="#ff0000" stroke="#333" stroke-width="0.45"/>
<text transform="translate(94.5 326.1) scale(0.82 1)" font-size="3.1" fill="#707070">Cell cycle</text>
<rect x="130.9" y="321.2" width="7.6" height="7.2" fill="#ffb400" stroke="#333" stroke-width="0.45"/>
<text transform="translate(142.4 326.1) scale(0.82 1)" font-size="3.1" fill="#707070">Cellular senescence</text>
<rect x="170.4" y="321.2" width="7.6" height="7.2" fill="#00f000" stroke="#333" stroke-width="0.45"/>
<text transform="translate(181.9 326.1) scale(0.82 1)" font-size="3.1" fill="#707070">ECM-receptor interaction</text>
<rect x="215.0" y="321.2" width="7.6" height="7.2" fill="#00f000" stroke="#333" stroke-width="0.45"/>
<text transform="translate(226.5 326.1) scale(0.82 1)" font-size="3.1" fill="#707070">Oocyte meiosis</text>
<rect x="83.0" y="334.0" width="7.6" height="7.2" fill="#00f0f0" stroke="#333" stroke-width="0.45"/>
<text transform="translate(94.5 338.9) scale(0.82 1)" font-size="3.1" fill="#707070">Biosynthesis of amino acids</text>
<rect x="130.9" y="334.0" width="7.6" height="7.2" fill="#1010f0" stroke="#333" stroke-width="0.45"/>
<text transform="translate(142.4 338.9) scale(0.82 1)" font-size="3.1" fill="#707070">Bladder cancer</text>
<rect x="170.4" y="334.0" width="7.6" height="7.2" fill="#8c00f0" stroke="#333" stroke-width="0.45"/>
<text transform="translate(181.9 338.9) scale(0.82 1)" font-size="3.1" fill="#707070">Carbon metabolism</text>
<rect x="215.0" y="334.0" width="7.6" height="7.2" fill="#ff00d2" stroke="#333" stroke-width="0.45"/>
<text transform="translate(226.5 338.9) scale(0.82 1)" font-size="3.1" fill="#707070">Bile secretion</text>
<defs><linearGradient id="g252"><stop offset="0" stop-color="#aac4f0"/><stop offset="0.5" stop-color="#ffffff"/><stop offset="1" stop-color="#e8282a"/></linearGradient></defs>
<rect x="252.7" y="326.6" width="38.3" height="8.2" fill="url(#g252)"/>
<text transform="translate(271.9 324.4) scale(0.9 1)" font-size="5.8" fill="#1a1a1a" text-anchor="middle">logFC</text>
<text x="252.7" y="339.6" font-size="2.6" fill="#444" text-anchor="middle">-1</text>
<text x="291.0" y="339.6" font-size="2.6" fill="#444" text-anchor="middle">1</text>
<text transform="translate(394.0 333.6) scale(0.86 1)" font-size="6.0" fill="#1a1a1a">GO Terms</text>
<rect x="420.7" y="321.2" width="7.6" height="7.2" fill="#ff0000" stroke="#333" stroke-width="0.45"/>
<text transform="translate(432.2 326.1) scale(0.82 1)" font-size="3.1" fill="#707070">mitotic nuclear division</text>
<rect x="470.4" y="321.2" width="7.6" height="7.2" fill="#ffb400" stroke="#333" stroke-width="0.45"/>
<text transform="translate(481.9 326.1) scale(0.82 1)" font-size="3.1" fill="#707070">nuclear division</text>
<rect x="505.4" y="321.2" width="7.6" height="7.2" fill="#00f000" stroke="#333" stroke-width="0.45"/>
<text transform="translate(516.9 326.1) scale(0.82 1)" font-size="3.1" fill="#707070">mitotic sister chromatid segregation</text>
<rect x="564.0" y="321.2" width="7.6" height="7.2" fill="#00f000" stroke="#333" stroke-width="0.45"/>
<text transform="translate(575.5 326.1) scale(0.82 1)" font-size="3.1" fill="#707070">chromosome segregation</text>
<rect x="420.7" y="334.0" width="7.6" height="7.2" fill="#00f0f0" stroke="#333" stroke-width="0.45"/>
<text transform="translate(432.2 338.9) scale(0.82 1)" font-size="3.1" fill="#707070">sister chromatid segregation</text>
<rect x="470.4" y="334.0" width="7.6" height="7.2" fill="#1010f0" stroke="#333" stroke-width="0.45"/>
<text transform="translate(481.9 338.9) scale(0.82 1)" font-size="3.1" fill="#707070">organelle fission</text>
<rect x="505.4" y="334.0" width="7.6" height="7.2" fill="#8c00f0" stroke="#333" stroke-width="0.45"/>
<text transform="translate(516.9 338.9) scale(0.82 1)" font-size="3.1" fill="#707070">nuclear chromosome segregation</text>
<rect x="564.0" y="334.0" width="7.6" height="7.2" fill="#ff00d2" stroke="#333" stroke-width="0.45"/>
<text transform="translate(575.5 338.9) scale(0.82 1)" font-size="3.1" fill="#707070">mitotic cell cycle phase transition</text>
<defs><linearGradient id="g625"><stop offset="0" stop-color="#fcd0cc"/><stop offset="1" stop-color="#e82a2a"/></linearGradient></defs>
<rect x="625.5" y="326.6" width="39.7" height="8.2" fill="url(#g625)"/>
<text transform="translate(645.4 324.4) scale(0.9 1)" font-size="5.8" fill="#1a1a1a" text-anchor="middle">logFC</text>
<text x="625.5" y="339.6" font-size="2.6" fill="#444" text-anchor="middle">1</text>
<text x="665.2" y="339.6" font-size="2.6" fill="#444" text-anchor="middle">5</text>
<rect x="53.1" y="353.5" width="181.9" height="6.5" fill="#0000ff"/>
<rect x="239.4" y="353.5" width="180.4" height="6.5" fill="#ff0000"/>
<text x="426.7" y="359.3" font-size="6.7" font-weight="bold" fill="#111">Risk</text>
<defs><filter id="hb" x="-1%" y="-1%" width="102%" height="102%"><feGaussianBlur stdDeviation="0.5 0.3"/></filter></defs>
<g filter="url(#hb)">
<rect x="53.6" y="363.4" width="366.0" height="405.0" fill="#fff"/>
<g transform="translate(53.60 363.40) scale(1.39538 8.100)">
<path fill="#7f007f" d="M0 0h1v5h-1zM0 6h1v5h-1zM0 12h1v4h-1zM0 17h1v1h-1zM0 25h1v2h-1zM0 28h1v2h-1zM0 32h1v8h-1zM0 43h1v3h-1zM0 49h1v1h-1zM1 0h1v1h-1zM1 4h1v1h-1zM1 31h1v1h-1zM1 38h1v1h-1zM2 4h1v1h-1zM2 7h1v1h-1zM2 11h1v3h-1zM2 16h1v1h-1zM2 19h1v1h-1zM2 22h1v2h-1zM2 25h1v1h-1zM2 31h1v1h-1zM2 33h1v2h-1zM2 36h1v2h-1zM2 39h1v1h-1zM2 42h1v2h-1zM2 46h1v1h-1zM2 48h1v1h-1zM4 28h1v1h-1zM8 31h1v1h-1zM9 23h1v1h-1zM9 33h1v1h-1zM9 49h1v1h-1zM11 16h1v1h-1zM11 20h1v1h-1zM14 0h1v17h-1zM14 20h1v1h-1zM14 22h1v1h-1zM14 24h1v21h-1zM14 46h1v4h-1zM15 1h1v1h-1zM15 3h1v1h-1zM15 6h1v1h-1zM15 8h1v1h-1zM15 10h1v1h-1zM15 13h1v3h-1zM15 18h1v1h-1zM15 20h1v3h-1zM15 24h1v1h-1zM15 27h1v1h-1zM15 31h1v2h-1zM15 34h1v1h-1zM15 36h1v1h-1zM15 38h1v3h-1zM15 42h1v2h-1zM15 49h1v1h-1zM16 1h1v8h-1zM16 12h1v4h-1zM16 17h1v1h-1zM16 20h1v1h-1zM16 26h1v10h-1zM16 37h1v3h-1zM16 41h1v3h-1zM16 45h1v1h-1zM16 48h1v2h-1zM17 8h1v1h-1zM17 11h1v1h-1zM17 13h1v1h-1zM17 15h1v1h-1zM17 20h1v1h-1zM17 27h1v1h-1zM17 29h1v1h-1zM17 34h1v2h-1zM17 37h1v1h-1zM17 43h1v1h-1zM17 45h1v1h-1zM17 49h1v1h-1zM19 0h1v1h-1zM19 2h1v2h-1zM19 5h1v3h-1zM19 9h1v2h-1zM19 12h1v5h-1zM19 18h1v7h-1zM19 27h1v4h-1zM19 32h1v1h-1zM19 34h1v1h-1zM19 36h1v7h-1zM19 44h1v5h-1zM20 24h1v1h-1zM20 37h1v1h-1zM22 8h1v2h-1zM22 11h1v1h-1zM22 15h1v2h-1zM22 19h1v1h-1zM22 21h1v1h-1zM22 23h1v1h-1zM22 26h1v1h-1zM22 28h1v1h-1zM22 30h1v1h-1zM22 32h1v2h-1zM22 36h1v1h-1zM22 38h1v1h-1zM22 45h1v1h-1zM23 3h1v1h-1zM23 13h1v1h-1zM23 18h1v1h-1zM23 24h1v1h-1zM23 26h1v1h-1zM23 37h1v1h-1zM23 41h1v1h-1zM23 49h1v1h-1zM24 6h1v1h-1zM24 8h1v1h-1zM26 3h1v1h-1zM26 12h1v1h-1zM26 24h1v1h-1zM26 37h1v1h-1zM26 43h1v1h-1zM29 7h1v1h-1zM29 17h1v1h-1zM29 20h1v1h-1zM29 26h1v1h-1zM29 29h1v1h-1zM29 32h1v1h-1zM29 35h1v1h-1zM29 49h1v1h-1zM34 13h1v2h-1zM34 19h1v1h-1zM34 23h1v1h-1zM34 27h1v1h-1zM34 44h1v1h-1zM34 46h1v1h-1zM35 2h1v1h-1zM35 18h1v2h-1zM35 25h1v1h-1zM35 31h1v1h-1zM35 38h1v1h-1zM35 43h1v2h-1zM35 49h1v1h-1zM40 10h1v1h-1zM40 17h1v1h-1zM40 40h1v1h-1zM41 5h1v1h-1zM41 17h1v1h-1zM41 22h1v2h-1zM41 28h1v2h-1zM41 33h1v1h-1zM41 39h1v2h-1zM43 0h1v2h-1zM43 3h1v4h-1zM43 8h1v3h-1zM43 12h1v1h-1zM43 17h1v3h-1zM43 21h1v1h-1zM43 24h1v1h-1zM43 27h1v2h-1zM43 36h1v1h-1zM43 38h1v1h-1zM43 41h1v3h-1zM43 45h1v3h-1zM43 49h1v1h-1zM46 7h1v2h-1zM46 15h1v2h-1zM46 27h1v1h-1zM46 36h1v1h-1zM46 44h1v3h-1zM50 3h1v1h-1zM50 6h1v1h-1zM50 9h1v1h-1zM50 23h1v1h-1zM50 28h1v1h-1zM50 33h1v1h-1zM50 45h1v1h-1zM50 47h1v2h-1zM51 8h1v1h-1zM51 27h1v1h-1zM52 8h1v1h-1zM52 19h1v1h-1zM54 1h1v3h-1zM54 5h1v1h-1zM54 8h1v1h-1zM54 10h1v2h-1zM54 16h1v1h-1zM54 18h1v1h-1zM54 22h1v1h-1zM54 24h1v2h-1zM54 27h1v2h-1zM54 31h1v2h-1zM54 34h1v3h-1zM54 42h1v1h-1zM56 1h1v3h-1zM56 5h1v2h-1zM56 13h1v1h-1zM56 15h1v2h-1zM56 20h1v1h-1zM56 23h1v2h-1zM56 26h1v2h-1zM56 30h1v1h-1zM56 32h1v7h-1zM56 40h1v3h-1zM56 44h1v2h-1zM56 47h1v3h-1zM58 2h1v1h-1zM58 6h1v1h-1zM58 11h1v1h-1zM58 14h1v2h-1zM58 18h1v2h-1zM58 23h1v1h-1zM58 32h1v1h-1zM58 37h1v2h-1zM58 44h1v1h-1zM58 47h1v1h-1zM59 25h1v1h-1zM63 2h1v1h-1zM63 10h1v1h-1zM63 28h1v1h-1zM63 30h1v2h-1zM63 34h1v1h-1zM66 14h1v1h-1zM66 31h1v1h-1zM67 27h1v1h-1zM67 29h1v1h-1zM68 10h1v1h-1zM69 25h1v1h-1zM70 7h1v1h-1zM70 18h1v1h-1zM70 21h1v1h-1zM73 0h1v3h-1zM73 4h1v1h-1zM73 6h1v17h-1zM73 24h1v3h-1zM73 29h1v6h-1zM73 36h1v2h-1zM73 40h1v6h-1zM73 47h1v3h-1zM74 43h1v1h-1zM75 2h1v1h-1zM75 5h1v1h-1zM75 10h1v1h-1zM75 13h1v2h-1zM75 26h1v1h-1zM75 28h1v2h-1zM75 31h1v1h-1zM75 36h1v1h-1zM75 44h1v1h-1zM78 19h1v1h-1zM78 26h1v2h-1zM78 29h1v2h-1zM78 46h1v1h-1zM80 0h1v1h-1zM80 2h1v2h-1zM80 5h1v1h-1zM80 7h1v2h-1zM80 10h1v1h-1zM80 13h1v4h-1zM80 20h1v2h-1zM80 23h1v4h-1zM80 28h1v2h-1zM80 31h1v1h-1zM80 33h1v3h-1zM80 37h1v5h-1zM80 43h1v1h-1zM80 45h1v5h-1zM81 0h1v9h-1zM81 10h1v3h-1zM81 14h1v2h-1zM81 17h1v1h-1zM81 19h1v31h-1zM83 0h1v1h-1zM83 2h1v1h-1zM83 4h1v2h-1zM83 7h1v3h-1zM83 11h1v3h-1zM83 15h1v6h-1zM83 23h1v1h-1zM83 27h1v3h-1zM83 31h1v2h-1zM83 37h1v2h-1zM83 42h1v4h-1zM83 49h1v1h-1zM84 3h1v1h-1zM84 5h1v2h-1zM84 8h1v1h-1zM84 10h1v6h-1zM84 17h1v1h-1zM84 19h1v3h-1zM84 23h1v1h-1zM84 25h1v3h-1zM84 29h1v2h-1zM84 34h1v3h-1zM84 41h1v1h-1zM84 43h1v1h-1zM84 46h1v1h-1zM84 48h1v1h-1zM85 0h1v47h-1zM85 48h1v2h-1zM86 0h1v1h-1zM86 2h1v1h-1zM86 12h1v1h-1zM86 15h1v1h-1zM86 19h1v1h-1zM86 22h1v1h-1zM86 26h1v3h-1zM86 31h1v2h-1zM86 37h1v1h-1zM86 40h1v1h-1zM86 43h1v1h-1zM86 45h1v1h-1zM86 47h1v1h-1zM87 0h1v1h-1zM87 2h1v5h-1zM87 8h1v5h-1zM87 15h1v1h-1zM87 17h1v4h-1zM87 24h1v1h-1zM87 26h1v2h-1zM87 33h1v1h-1zM87 35h1v1h-1zM87 37h1v4h-1zM87 43h1v2h-1zM87 46h1v1h-1zM87 48h1v2h-1zM88 0h1v1h-1zM88 2h1v2h-1zM88 5h1v2h-1zM88 8h1v4h-1zM88 13h1v4h-1zM88 19h1v4h-1zM88 25h1v21h-1zM88 47h1v1h-1zM88 49h1v1h-1zM89 6h1v4h-1zM89 13h1v2h-1zM89 16h1v1h-1zM89 19h1v1h-1zM89 21h1v4h-1zM89 28h1v1h-1zM89 35h1v1h-1zM89 38h1v2h-1zM89 41h1v1h-1zM89 43h1v1h-1zM89 45h1v1h-1zM89 47h1v1h-1zM89 49h1v1h-1zM90 37h1v1h-1zM90 41h1v1h-1zM91 2h1v1h-1zM91 4h1v1h-1zM91 6h1v2h-1zM91 35h1v1h-1zM91 45h1v1h-1zM93 0h1v1h-1zM94 9h1v1h-1zM94 25h1v2h-1zM94 30h1v4h-1zM94 42h1v1h-1zM95 2h1v1h-1zM95 8h1v1h-1zM95 12h1v2h-1zM95 21h1v2h-1zM95 24h1v2h-1zM95 28h1v2h-1zM95 33h1v1h-1zM95 35h1v2h-1zM95 39h1v1h-1zM95 42h1v1h-1zM95 45h1v1h-1zM95 49h1v1h-1zM96 0h1v1h-1zM96 2h1v8h-1zM96 12h1v4h-1zM96 17h1v4h-1zM96 22h1v1h-1zM96 24h1v17h-1zM96 42h1v7h-1zM99 6h1v1h-1zM99 10h1v1h-1zM99 12h1v1h-1zM99 21h1v1h-1zM99 26h1v1h-1zM99 28h1v1h-1zM99 41h1v2h-1zM100 3h1v1h-1zM100 6h1v1h-1zM100 11h1v1h-1zM100 13h1v1h-1zM100 19h1v1h-1zM100 27h1v1h-1zM100 36h1v1h-1zM100 38h1v1h-1zM100 41h1v1h-1zM100 44h1v1h-1zM100 46h1v1h-1zM100 48h1v1h-1zM103 13h1v1h-1zM103 18h1v1h-1zM103 21h1v2h-1zM103 37h1v1h-1zM103 42h1v2h-1zM105 0h1v1h-1zM105 19h1v3h-1zM105 44h1v2h-1zM106 0h1v23h-1zM106 24h1v26h-1zM107 6h1v1h-1zM107 14h1v1h-1zM107 19h1v1h-1zM107 23h1v1h-1zM107 26h1v1h-1zM107 33h1v2h-1zM107 39h1v1h-1zM107 42h1v1h-1zM107 47h1v1h-1zM107 49h1v1h-1zM109 0h1v9h-1zM109 10h1v8h-1zM109 19h1v31h-1zM110 2h1v1h-1zM110 11h1v1h-1zM110 15h1v1h-1zM110 21h1v1h-1zM110 23h1v1h-1zM110 26h1v1h-1zM110 30h1v1h-1zM110 32h1v2h-1zM110 41h1v1h-1zM110 44h1v1h-1zM111 35h1v1h-1zM111 39h1v1h-1zM111 44h1v1h-1zM111 47h1v1h-1zM113 0h1v4h-1zM113 5h1v2h-1zM113 8h1v6h-1zM113 15h1v7h-1zM113 23h1v2h-1zM113 26h1v21h-1zM113 48h1v2h-1zM114 5h1v1h-1zM114 15h1v1h-1zM114 28h1v1h-1zM114 35h1v1h-1zM115 44h1v1h-1zM116 2h1v1h-1zM116 5h1v1h-1zM116 8h1v1h-1zM116 17h1v1h-1zM116 29h1v1h-1zM116 31h1v1h-1zM116 36h1v1h-1zM116 41h1v1h-1zM116 47h1v1h-1zM118 13h1v1h-1zM118 34h1v1h-1zM118 39h1v1h-1zM119 0h1v1h-1zM119 7h1v2h-1zM119 15h1v1h-1zM119 21h1v2h-1zM119 26h1v1h-1zM119 31h1v1h-1zM119 33h1v1h-1zM119 35h1v1h-1zM119 37h1v1h-1zM119 43h1v1h-1zM120 4h1v1h-1zM122 5h1v1h-1zM122 27h1v1h-1zM122 40h1v1h-1zM123 4h1v1h-1zM123 6h1v1h-1zM123 9h1v1h-1zM123 12h1v1h-1zM123 31h1v1h-1zM123 33h1v1h-1zM124 5h1v1h-1zM124 19h1v1h-1zM124 23h1v1h-1zM124 43h1v1h-1zM127 13h1v1h-1zM127 18h1v1h-1zM127 20h1v1h-1zM127 40h1v2h-1zM129 12h1v1h-1z"/>
<path fill="#ca96ca" d="M0 5h1v1h-1zM2 20h1v1h-1zM7 28h1v1h-1zM7 47h1v1h-1zM9 2h1v1h-1zM9 8h1v2h-1zM9 48h1v1h-1zM14 17h1v1h-1zM19 43h1v1h-1zM22 2h1v1h-1zM22 10h1v1h-1zM22 14h1v1h-1zM29 1h1v1h-1zM29 39h1v1h-1zM29 48h1v1h-1zM34 35h1v1h-1zM35 11h1v1h-1zM46 23h1v1h-1zM59 35h1v1h-1zM59 41h1v1h-1zM63 1h1v1h-1zM63 9h1v1h-1zM63 18h1v1h-1zM63 39h1v1h-1zM67 3h1v1h-1zM67 7h1v1h-1zM67 28h1v1h-1zM67 41h1v1h-1zM70 49h1v1h-1zM72 19h1v2h-1zM72 25h1v1h-1zM75 0h1v1h-1zM75 9h1v1h-1zM84 31h1v1h-1zM88 12h1v1h-1zM90 13h1v1h-1zM90 35h1v2h-1zM90 46h1v2h-1zM91 19h1v1h-1zM91 30h1v1h-1zM91 46h1v1h-1zM94 8h1v1h-1zM94 13h1v1h-1zM94 15h1v1h-1zM94 24h1v1h-1zM94 37h1v1h-1zM94 49h1v1h-1zM95 3h1v2h-1zM95 19h1v1h-1zM95 37h1v1h-1zM99 19h1v2h-1zM100 5h1v1h-1zM100 16h1v1h-1zM100 49h1v1h-1zM101 19h1v1h-1zM111 3h1v1h-1zM111 12h1v1h-1zM111 21h1v1h-1zM111 33h1v1h-1zM111 37h1v1h-1zM111 45h1v1h-1zM118 3h1v1h-1zM118 37h1v1h-1zM118 48h1v1h-1zM123 1h1v1h-1zM123 40h1v1h-1zM126 22h1v1h-1zM126 28h1v1h-1zM126 44h1v1h-1zM129 34h1v1h-1zM129 36h1v1h-1zM129 41h1v1h-1z"/>
<path fill="#ca4b7f" d="M0 11h1v1h-1zM0 18h1v1h-1zM0 22h1v1h-1zM1 10h1v1h-1zM2 9h1v2h-1zM2 24h1v1h-1zM2 27h1v1h-1zM2 32h1v1h-1zM2 40h1v1h-1zM4 2h1v1h-1zM4 21h1v1h-1zM4 31h1v1h-1zM4 37h1v1h-1zM4 41h1v1h-1zM7 46h1v1h-1zM9 28h1v1h-1zM9 31h1v1h-1zM10 13h1v1h-1zM11 22h1v1h-1zM11 31h1v1h-1zM12 9h1v1h-1zM15 9h1v1h-1zM15 25h1v1h-1zM15 29h1v1h-1zM15 37h1v1h-1zM15 45h1v4h-1zM16 0h1v1h-1zM16 36h1v1h-1zM16 46h1v1h-1zM17 0h1v1h-1zM18 16h1v1h-1zM18 18h1v2h-1zM19 4h1v1h-1zM19 11h1v1h-1zM19 17h1v1h-1zM19 26h1v1h-1zM20 12h1v1h-1zM21 5h1v1h-1zM22 3h1v1h-1zM22 6h1v2h-1zM22 13h1v1h-1zM22 17h1v1h-1zM22 22h1v1h-1zM22 40h1v1h-1zM23 2h1v1h-1zM23 7h1v2h-1zM23 17h1v1h-1zM24 3h1v1h-1zM24 7h1v1h-1zM24 14h1v1h-1zM24 16h1v1h-1zM24 19h1v1h-1zM26 1h1v1h-1zM26 14h1v2h-1zM29 0h1v1h-1zM29 3h1v1h-1zM29 5h1v1h-1zM29 11h1v2h-1zM29 19h1v1h-1zM31 3h1v1h-1zM31 8h1v1h-1zM31 15h1v1h-1zM33 15h1v1h-1zM35 12h1v1h-1zM35 41h1v2h-1zM40 8h1v1h-1zM41 1h1v1h-1zM41 10h1v2h-1zM43 7h1v1h-1zM43 13h1v4h-1zM43 20h1v1h-1zM46 0h1v1h-1zM46 3h1v2h-1zM46 13h1v1h-1zM46 21h1v1h-1zM46 29h1v2h-1zM50 4h1v1h-1zM50 10h1v1h-1zM50 14h1v2h-1zM50 18h1v1h-1zM51 11h1v1h-1zM52 40h1v1h-1zM52 48h1v1h-1zM53 18h1v1h-1zM54 4h1v1h-1zM54 12h1v1h-1zM54 14h1v1h-1zM54 17h1v1h-1zM54 19h1v1h-1zM55 17h1v1h-1zM56 21h1v2h-1zM56 25h1v1h-1zM56 31h1v1h-1zM56 39h1v1h-1zM56 46h1v1h-1zM58 0h1v1h-1zM58 4h1v1h-1zM58 10h1v1h-1zM58 16h1v1h-1zM59 2h1v1h-1zM59 8h1v1h-1zM59 16h1v2h-1zM62 17h1v1h-1zM63 6h1v1h-1zM63 22h1v1h-1zM63 48h1v1h-1zM66 22h1v1h-1zM66 26h1v1h-1zM66 35h1v2h-1zM66 45h1v2h-1zM66 49h1v1h-1zM67 0h1v1h-1zM67 2h1v1h-1zM67 17h1v1h-1zM68 12h1v1h-1zM68 18h1v1h-1zM69 20h1v1h-1zM72 7h1v1h-1zM72 14h1v2h-1zM73 3h1v1h-1zM74 7h1v1h-1zM75 19h1v1h-1zM75 21h1v1h-1zM75 25h1v1h-1zM75 35h1v1h-1zM75 37h1v1h-1zM75 47h1v1h-1zM75 49h1v1h-1zM78 24h1v1h-1zM78 39h1v2h-1zM78 42h1v2h-1zM80 30h1v1h-1zM81 9h1v1h-1zM81 13h1v1h-1zM81 16h1v1h-1zM83 21h1v2h-1zM83 34h1v2h-1zM83 41h1v1h-1zM83 46h1v2h-1zM84 1h1v2h-1zM84 18h1v1h-1zM84 24h1v1h-1zM84 28h1v1h-1zM84 38h1v1h-1zM84 40h1v1h-1zM84 42h1v1h-1zM84 47h1v1h-1zM84 49h1v1h-1zM85 47h1v1h-1zM86 4h1v1h-1zM86 11h1v1h-1zM86 16h1v1h-1zM87 13h1v1h-1zM88 1h1v1h-1zM88 7h1v1h-1zM88 17h1v2h-1zM89 0h1v2h-1zM89 3h1v1h-1zM89 11h1v2h-1zM89 17h1v1h-1zM90 2h1v1h-1zM90 18h1v1h-1zM90 26h1v1h-1zM90 42h1v1h-1zM90 45h1v1h-1zM91 22h1v1h-1zM91 38h1v1h-1zM91 49h1v1h-1zM93 17h1v1h-1zM93 19h1v1h-1zM94 0h1v1h-1zM94 2h1v1h-1zM94 10h1v3h-1zM94 38h1v1h-1zM95 0h1v1h-1zM95 6h1v2h-1zM95 9h1v1h-1zM95 11h1v1h-1zM95 31h1v2h-1zM95 40h1v2h-1zM95 43h1v1h-1zM95 47h1v2h-1zM96 1h1v1h-1zM96 10h1v2h-1zM96 16h1v1h-1zM99 3h1v1h-1zM99 9h1v1h-1zM99 14h1v2h-1zM99 36h1v1h-1zM100 22h1v1h-1zM100 32h1v1h-1zM100 45h1v1h-1zM100 47h1v1h-1zM102 5h1v1h-1zM103 1h1v1h-1zM103 3h1v1h-1zM103 20h1v1h-1zM105 1h1v2h-1zM105 9h1v1h-1zM105 47h1v1h-1zM107 0h1v1h-1zM107 4h1v2h-1zM107 8h1v1h-1zM107 10h1v1h-1zM107 18h1v1h-1zM109 18h1v1h-1zM110 3h1v1h-1zM110 6h1v1h-1zM110 10h1v1h-1zM110 14h1v1h-1zM110 19h1v2h-1zM111 6h1v1h-1zM111 25h1v1h-1zM111 32h1v1h-1zM111 48h1v1h-1zM113 7h1v1h-1zM114 23h1v1h-1zM114 36h1v1h-1zM114 38h1v1h-1zM114 41h1v2h-1zM114 45h1v1h-1zM114 47h1v1h-1zM114 49h1v1h-1zM115 17h1v1h-1zM116 1h1v1h-1zM116 19h1v1h-1zM117 9h1v1h-1zM118 12h1v1h-1zM118 25h1v1h-1zM118 30h1v1h-1zM118 42h1v1h-1zM118 46h1v1h-1zM119 4h1v1h-1zM119 6h1v1h-1zM119 10h1v1h-1zM119 13h1v2h-1zM123 5h1v1h-1zM123 17h1v1h-1zM123 20h1v1h-1zM123 26h1v1h-1zM123 28h1v1h-1zM123 34h1v1h-1zM123 36h1v1h-1zM123 38h1v1h-1zM123 43h1v1h-1zM124 6h1v1h-1zM124 9h1v1h-1zM124 15h1v1h-1zM127 0h1v1h-1zM127 14h1v1h-1zM127 28h1v1h-1zM128 17h1v1h-1zM129 24h1v1h-1zM129 27h1v1h-1zM129 35h1v1h-1z"/>
<path fill="#ff7f7f" d="M0 16h1v1h-1zM0 20h1v1h-1zM1 2h1v1h-1zM1 8h1v2h-1zM1 11h1v1h-1zM1 14h1v4h-1zM1 19h1v1h-1zM2 8h1v1h-1zM2 18h1v1h-1zM2 35h1v1h-1zM2 47h1v1h-1zM2 49h1v1h-1zM4 23h1v1h-1zM4 29h1v1h-1zM4 35h1v1h-1zM4 39h1v2h-1zM7 0h1v1h-1zM7 7h1v1h-1zM7 13h1v1h-1zM7 19h1v1h-1zM8 0h1v1h-1zM8 2h1v2h-1zM8 8h1v2h-1zM8 12h1v1h-1zM8 14h1v1h-1zM9 21h1v1h-1zM9 24h1v1h-1zM9 34h1v1h-1zM9 39h1v2h-1zM9 42h1v1h-1zM9 45h1v1h-1zM9 47h1v1h-1zM10 20h1v1h-1zM11 5h1v1h-1zM11 7h1v1h-1zM11 12h1v1h-1zM11 14h1v1h-1zM11 49h1v1h-1zM13 4h1v1h-1zM14 18h1v1h-1zM15 7h1v1h-1zM15 23h1v1h-1zM15 28h1v1h-1zM15 35h1v1h-1zM15 44h1v1h-1zM16 23h1v1h-1zM16 40h1v1h-1zM17 1h1v1h-1zM17 3h1v1h-1zM17 5h1v3h-1zM17 9h1v2h-1zM17 14h1v1h-1zM17 16h1v1h-1zM18 0h1v1h-1zM18 12h1v1h-1zM19 1h1v1h-1zM20 4h1v3h-1zM20 8h1v2h-1zM20 14h1v1h-1zM20 16h1v1h-1zM22 4h1v1h-1zM22 20h1v1h-1zM23 1h1v1h-1zM23 9h1v1h-1zM23 12h1v1h-1zM23 15h1v2h-1zM23 19h1v2h-1zM24 0h1v3h-1zM24 13h1v1h-1zM24 15h1v1h-1zM24 17h1v1h-1zM25 8h1v2h-1zM26 0h1v1h-1zM26 2h1v1h-1zM26 4h1v1h-1zM26 6h1v3h-1zM26 10h1v2h-1zM26 20h1v1h-1zM29 4h1v1h-1zM29 6h1v1h-1zM29 8h1v1h-1zM29 16h1v1h-1zM29 18h1v1h-1zM31 9h1v1h-1zM31 19h1v2h-1zM34 0h1v1h-1zM34 6h1v1h-1zM34 20h1v1h-1zM35 4h1v1h-1zM35 7h1v1h-1zM35 22h1v3h-1zM35 28h1v2h-1zM35 33h1v1h-1zM35 40h1v1h-1zM35 45h1v1h-1zM35 47h1v1h-1zM40 7h1v1h-1zM40 9h1v1h-1zM40 12h1v1h-1zM40 14h1v1h-1zM40 16h1v1h-1zM40 20h1v1h-1zM41 2h1v3h-1zM41 12h1v1h-1zM41 20h1v1h-1zM42 7h1v2h-1zM42 19h1v1h-1zM43 2h1v1h-1zM45 18h1v1h-1zM46 1h1v2h-1zM46 6h1v1h-1zM46 9h1v2h-1zM46 17h1v4h-1zM47 3h1v1h-1zM47 7h1v1h-1zM47 13h1v1h-1zM47 19h1v1h-1zM48 5h1v1h-1zM49 5h1v1h-1zM49 15h1v1h-1zM49 19h1v1h-1zM50 0h1v1h-1zM50 2h1v1h-1zM50 12h1v2h-1zM50 16h1v1h-1zM50 20h1v1h-1zM51 1h1v1h-1zM51 7h1v1h-1zM51 9h1v1h-1zM51 18h1v1h-1zM52 26h1v3h-1zM52 34h1v1h-1zM52 36h1v1h-1zM52 38h1v2h-1zM52 42h1v1h-1zM53 3h1v1h-1zM53 17h1v1h-1zM53 19h1v1h-1zM54 0h1v1h-1zM54 6h1v1h-1zM54 9h1v1h-1zM55 6h1v1h-1zM55 12h1v1h-1zM55 19h1v1h-1zM56 28h1v2h-1zM58 1h1v1h-1zM58 3h1v1h-1zM58 5h1v1h-1zM58 7h1v3h-1zM58 12h1v1h-1zM58 17h1v1h-1zM59 10h1v1h-1zM60 1h1v1h-1zM61 16h1v1h-1zM62 10h1v1h-1zM62 15h1v1h-1zM63 4h1v2h-1zM63 7h1v1h-1zM63 19h1v1h-1zM64 19h1v1h-1zM65 19h1v1h-1zM66 29h1v1h-1zM66 37h1v1h-1zM66 39h1v1h-1zM66 41h1v2h-1zM66 47h1v1h-1zM67 8h1v1h-1zM67 12h1v1h-1zM67 20h1v1h-1zM67 46h1v1h-1zM68 1h1v1h-1zM68 13h1v1h-1zM68 16h1v1h-1zM68 20h1v1h-1zM69 13h1v1h-1zM69 17h1v1h-1zM69 19h1v1h-1zM70 3h1v1h-1zM70 9h1v1h-1zM70 11h1v1h-1zM70 15h1v2h-1zM70 19h1v1h-1zM71 20h1v1h-1zM72 1h1v1h-1zM72 11h1v1h-1zM74 6h1v1h-1zM74 9h1v1h-1zM74 12h1v1h-1zM74 19h1v2h-1zM75 18h1v1h-1zM75 22h1v2h-1zM75 38h1v1h-1zM75 40h1v1h-1zM76 2h1v1h-1zM76 20h1v1h-1zM78 21h1v1h-1zM78 25h1v1h-1zM78 28h1v1h-1zM78 31h1v1h-1zM78 36h1v1h-1zM78 44h1v2h-1zM78 47h1v2h-1zM80 12h1v1h-1zM80 19h1v1h-1zM81 18h1v1h-1zM83 24h1v1h-1zM83 26h1v1h-1zM83 30h1v1h-1zM83 33h1v1h-1zM83 39h1v1h-1zM83 48h1v1h-1zM84 22h1v1h-1zM84 37h1v1h-1zM84 44h1v1h-1zM86 1h1v1h-1zM86 3h1v1h-1zM86 7h1v3h-1zM86 13h1v1h-1zM86 17h1v1h-1zM87 7h1v1h-1zM87 14h1v1h-1zM89 4h1v1h-1zM89 15h1v1h-1zM89 20h1v1h-1zM90 19h1v1h-1zM90 27h1v1h-1zM91 15h1v1h-1zM91 25h1v1h-1zM91 41h1v1h-1zM93 12h1v1h-1zM94 1h1v1h-1zM94 6h1v2h-1zM94 16h1v1h-1zM95 14h1v1h-1zM95 17h1v1h-1zM95 23h1v1h-1zM95 46h1v1h-1zM98 17h1v1h-1zM99 0h1v3h-1zM99 7h1v2h-1zM99 18h1v1h-1zM100 2h1v1h-1zM100 9h1v1h-1zM100 14h1v1h-1zM100 17h1v1h-1zM100 21h1v1h-1zM100 23h1v1h-1zM100 26h1v1h-1zM100 43h1v1h-1zM101 26h1v1h-1zM102 3h1v1h-1zM103 2h1v1h-1zM103 5h1v6h-1zM103 15h1v1h-1zM103 19h1v1h-1zM105 4h1v2h-1zM105 7h1v2h-1zM105 13h1v1h-1zM105 15h1v2h-1zM105 18h1v1h-1zM107 3h1v1h-1zM107 11h1v2h-1zM107 17h1v1h-1zM108 20h1v1h-1zM110 1h1v1h-1zM110 4h1v1h-1zM110 7h1v1h-1zM110 12h1v2h-1zM110 16h1v1h-1zM110 18h1v1h-1zM111 10h1v1h-1zM111 19h1v1h-1zM111 43h1v1h-1zM113 14h1v1h-1zM114 24h1v1h-1zM114 26h1v2h-1zM114 29h1v2h-1zM114 33h1v1h-1zM114 37h1v1h-1zM114 39h1v2h-1zM114 44h1v1h-1zM114 48h1v1h-1zM115 2h1v2h-1zM115 19h1v2h-1zM116 0h1v1h-1zM116 3h1v2h-1zM116 6h1v1h-1zM116 9h1v1h-1zM116 12h1v3h-1zM116 16h1v1h-1zM116 18h1v1h-1zM117 17h1v1h-1zM118 20h1v1h-1zM118 23h1v1h-1zM118 31h1v1h-1zM118 35h1v1h-1zM119 1h1v3h-1zM119 16h1v2h-1zM119 20h1v1h-1zM120 6h1v1h-1zM120 10h1v1h-1zM122 0h1v1h-1zM122 6h1v1h-1zM122 9h1v1h-1zM122 16h1v1h-1zM123 13h1v1h-1zM123 15h1v1h-1zM123 18h1v1h-1zM123 24h1v1h-1zM123 27h1v1h-1zM123 30h1v1h-1zM123 45h1v1h-1zM123 47h1v1h-1zM124 1h1v1h-1zM124 3h1v1h-1zM124 11h1v1h-1zM124 14h1v1h-1zM124 17h1v1h-1zM125 0h1v1h-1zM125 17h1v1h-1zM125 19h1v1h-1zM126 8h1v1h-1zM126 11h1v1h-1zM126 14h1v1h-1zM126 19h1v1h-1zM127 3h1v2h-1zM127 6h1v1h-1zM127 15h1v2h-1zM127 19h1v1h-1zM128 18h1v1h-1zM129 10h1v1h-1zM129 32h1v1h-1z"/>
<path fill="#7f4bca" d="M0 19h1v1h-1zM0 23h1v1h-1zM0 31h1v1h-1zM0 42h1v1h-1zM1 32h1v1h-1zM1 39h1v1h-1zM1 43h1v1h-1zM1 48h1v1h-1zM2 0h1v4h-1zM2 15h1v1h-1zM2 17h1v1h-1zM2 21h1v1h-1zM2 26h1v1h-1zM2 28h1v3h-1zM2 41h1v1h-1zM2 44h1v1h-1zM4 1h1v1h-1zM4 6h1v1h-1zM4 19h1v1h-1zM7 22h1v1h-1zM7 32h1v1h-1zM7 42h1v1h-1zM9 25h1v1h-1zM9 44h1v1h-1zM11 27h1v1h-1zM11 36h1v1h-1zM14 19h1v1h-1zM14 21h1v1h-1zM14 23h1v1h-1zM14 45h1v1h-1zM15 4h1v1h-1zM15 12h1v1h-1zM15 16h1v1h-1zM15 30h1v1h-1zM15 33h1v1h-1zM16 10h1v1h-1zM16 16h1v1h-1zM16 18h1v2h-1zM16 21h1v1h-1zM16 25h1v1h-1zM16 44h1v1h-1zM16 47h1v1h-1zM17 17h1v1h-1zM17 39h1v1h-1zM17 41h1v2h-1zM18 23h1v1h-1zM18 39h1v1h-1zM19 25h1v1h-1zM19 31h1v1h-1zM19 49h1v1h-1zM21 25h1v1h-1zM22 29h1v1h-1zM22 37h1v1h-1zM22 39h1v1h-1zM22 41h1v1h-1zM22 43h1v1h-1zM22 48h1v2h-1zM23 27h1v1h-1zM23 30h1v2h-1zM23 35h1v2h-1zM23 38h1v2h-1zM23 45h1v1h-1zM24 21h1v1h-1zM24 26h1v1h-1zM24 33h1v1h-1zM24 48h1v1h-1zM26 26h1v1h-1zM26 33h1v1h-1zM26 35h1v1h-1zM26 42h1v1h-1zM27 40h1v1h-1zM29 22h1v1h-1zM29 28h1v1h-1zM29 31h1v1h-1zM29 33h1v2h-1zM29 42h1v1h-1zM31 30h1v1h-1zM31 36h1v1h-1zM31 40h1v1h-1zM31 46h1v1h-1zM34 5h1v1h-1zM34 43h1v1h-1zM34 48h1v1h-1zM35 6h1v1h-1zM35 21h1v1h-1zM35 27h1v1h-1zM35 32h1v1h-1zM40 33h1v2h-1zM40 37h1v1h-1zM41 31h1v1h-1zM41 44h1v2h-1zM43 22h1v1h-1zM43 26h1v1h-1zM43 29h1v2h-1zM43 32h1v2h-1zM43 37h1v1h-1zM43 39h1v2h-1zM43 44h1v1h-1zM43 48h1v1h-1zM46 24h1v1h-1zM46 26h1v1h-1zM46 35h1v1h-1zM46 40h1v2h-1zM46 49h1v1h-1zM47 22h1v1h-1zM47 25h1v1h-1zM49 21h1v1h-1zM50 31h1v1h-1zM50 38h1v1h-1zM50 40h1v3h-1zM50 46h1v1h-1zM51 22h1v1h-1zM52 1h1v1h-1zM54 21h1v1h-1zM54 23h1v1h-1zM54 26h1v1h-1zM54 29h1v1h-1zM54 33h1v1h-1zM54 37h1v1h-1zM54 39h1v1h-1zM54 41h1v1h-1zM54 46h1v1h-1zM54 48h1v1h-1zM56 0h1v1h-1zM56 4h1v1h-1zM56 7h1v4h-1zM56 12h1v1h-1zM56 18h1v1h-1zM58 21h1v1h-1zM58 26h1v1h-1zM58 33h1v1h-1zM58 39h1v2h-1zM58 42h1v1h-1zM58 46h1v1h-1zM59 32h1v1h-1zM61 24h1v1h-1zM62 43h1v1h-1zM63 35h1v1h-1zM63 44h1v1h-1zM66 6h1v1h-1zM66 8h1v1h-1zM66 13h1v1h-1zM66 15h1v1h-1zM66 17h1v1h-1zM66 20h1v1h-1zM67 21h1v1h-1zM67 30h1v1h-1zM67 38h1v1h-1zM68 29h1v1h-1zM72 38h1v1h-1zM72 47h1v1h-1zM73 23h1v1h-1zM73 27h1v1h-1zM73 35h1v1h-1zM73 46h1v1h-1zM74 24h1v1h-1zM75 6h1v1h-1zM75 8h1v1h-1zM75 12h1v1h-1zM75 15h1v1h-1zM78 3h1v1h-1zM78 11h1v1h-1zM80 4h1v1h-1zM80 6h1v1h-1zM80 18h1v1h-1zM80 22h1v1h-1zM80 27h1v1h-1zM80 36h1v1h-1zM80 42h1v1h-1zM83 14h1v1h-1zM84 0h1v1h-1zM84 9h1v1h-1zM84 16h1v1h-1zM84 32h1v2h-1zM84 45h1v1h-1zM86 24h1v2h-1zM86 35h1v2h-1zM86 39h1v1h-1zM86 49h1v1h-1zM87 22h1v1h-1zM87 25h1v1h-1zM87 30h1v3h-1zM87 34h1v1h-1zM87 45h1v1h-1zM88 23h1v2h-1zM88 46h1v1h-1zM89 25h1v1h-1zM89 30h1v2h-1zM89 33h1v1h-1zM89 48h1v1h-1zM90 5h1v1h-1zM90 11h1v1h-1zM90 15h1v1h-1zM90 28h1v2h-1zM90 40h1v1h-1zM91 5h1v1h-1zM91 9h1v1h-1zM91 17h1v1h-1zM91 33h1v1h-1zM94 45h1v1h-1zM94 48h1v1h-1zM95 1h1v1h-1zM95 16h1v1h-1zM95 18h1v1h-1zM95 20h1v1h-1zM95 27h1v1h-1zM95 30h1v1h-1zM96 23h1v1h-1zM96 41h1v1h-1zM99 23h1v1h-1zM99 29h1v1h-1zM99 43h1v2h-1zM100 18h1v1h-1zM100 24h1v1h-1zM102 26h1v1h-1zM102 35h1v2h-1zM103 35h1v1h-1zM105 27h1v1h-1zM105 33h1v1h-1zM105 35h1v3h-1zM105 42h1v1h-1zM105 46h1v1h-1zM105 49h1v1h-1zM106 23h1v1h-1zM107 22h1v1h-1zM107 32h1v1h-1zM107 35h1v1h-1zM107 38h1v1h-1zM107 48h1v1h-1zM109 9h1v1h-1zM110 29h1v1h-1zM110 37h1v1h-1zM110 39h1v1h-1zM110 47h1v1h-1zM110 49h1v1h-1zM111 2h1v1h-1zM111 15h1v1h-1zM111 23h1v1h-1zM111 34h1v1h-1zM111 46h1v1h-1zM113 4h1v1h-1zM113 25h1v1h-1zM113 47h1v1h-1zM114 3h1v2h-1zM114 10h1v2h-1zM114 16h1v1h-1zM115 26h1v1h-1zM116 22h1v1h-1zM116 26h1v2h-1zM116 32h1v2h-1zM116 39h1v1h-1zM116 42h1v2h-1zM116 49h1v1h-1zM118 11h1v1h-1zM118 21h1v1h-1zM118 49h1v1h-1zM119 23h1v2h-1zM119 48h1v1h-1zM120 22h1v1h-1zM120 25h1v1h-1zM120 29h1v1h-1zM121 23h1v2h-1zM122 21h1v1h-1zM123 8h1v1h-1zM123 25h1v1h-1zM123 44h1v1h-1zM124 30h1v1h-1zM124 47h1v1h-1zM124 49h1v1h-1zM125 40h1v1h-1zM126 18h1v1h-1zM126 24h1v1h-1zM127 21h1v1h-1zM127 23h1v1h-1zM127 32h1v1h-1zM127 35h1v1h-1zM127 37h1v2h-1zM127 46h1v1h-1zM129 1h1v1h-1zM129 15h1v1h-1zM129 17h1v1h-1zM129 21h1v1h-1zM129 23h1v1h-1z"/>
<path fill="#cacaff" d="M0 21h1v1h-1zM2 5h1v1h-1zM4 3h1v1h-1zM4 17h1v2h-1zM7 31h1v1h-1zM7 35h1v1h-1zM7 48h1v1h-1zM9 6h1v1h-1zM9 19h1v1h-1zM9 37h1v1h-1zM11 4h1v1h-1zM11 42h1v1h-1zM11 45h1v1h-1zM15 0h1v1h-1zM15 17h1v1h-1zM15 26h1v1h-1zM17 38h1v1h-1zM17 46h1v1h-1zM21 22h1v1h-1zM22 18h1v1h-1zM22 25h1v1h-1zM29 21h1v1h-1zM29 24h1v1h-1zM29 43h1v2h-1zM34 18h1v1h-1zM34 30h1v1h-1zM34 32h1v1h-1zM34 37h1v1h-1zM35 5h1v1h-1zM35 13h1v2h-1zM35 16h1v1h-1zM35 20h1v1h-1zM35 34h1v1h-1zM35 37h1v1h-1zM35 48h1v1h-1zM39 23h1v1h-1zM46 25h1v1h-1zM59 43h1v1h-1zM63 11h1v1h-1zM63 14h1v2h-1zM63 21h1v1h-1zM63 33h1v1h-1zM63 38h1v1h-1zM63 43h1v1h-1zM67 1h1v1h-1zM67 9h1v1h-1zM67 14h1v1h-1zM67 40h1v1h-1zM67 47h1v1h-1zM70 46h1v1h-1zM72 21h1v1h-1zM72 28h1v2h-1zM72 35h1v1h-1zM72 46h1v1h-1zM75 7h1v1h-1zM75 33h1v1h-1zM75 43h1v1h-1zM76 21h1v1h-1zM78 20h1v1h-1zM90 25h1v1h-1zM90 48h1v1h-1zM91 8h1v1h-1zM91 12h1v1h-1zM91 21h1v1h-1zM91 23h1v1h-1zM91 29h1v1h-1zM91 42h1v1h-1zM94 3h1v2h-1zM94 14h1v1h-1zM94 20h1v1h-1zM94 23h1v1h-1zM94 40h1v1h-1zM99 22h1v1h-1zM100 10h1v1h-1zM100 12h1v1h-1zM100 20h1v1h-1zM100 28h1v1h-1zM100 39h1v1h-1zM102 49h1v1h-1zM108 22h1v1h-1zM111 1h1v1h-1zM111 16h1v1h-1zM111 22h1v1h-1zM111 36h1v1h-1zM116 25h1v1h-1zM118 19h1v1h-1zM118 28h1v1h-1zM118 32h1v1h-1zM122 41h1v1h-1zM123 22h1v1h-1zM125 23h1v1h-1zM126 43h1v1h-1zM126 47h1v1h-1zM127 7h1v1h-1zM127 22h1v1h-1zM129 3h1v1h-1zM129 7h1v1h-1zM129 20h1v1h-1zM129 33h1v1h-1zM129 40h1v1h-1z"/>
<path fill="#7f7fff" d="M0 24h1v1h-1zM0 27h1v1h-1zM0 40h1v1h-1zM0 48h1v1h-1zM1 21h1v3h-1zM1 25h1v2h-1zM1 33h1v1h-1zM1 35h1v2h-1zM1 40h1v3h-1zM1 44h1v1h-1zM1 47h1v1h-1zM2 6h1v1h-1zM2 14h1v1h-1zM2 38h1v1h-1zM2 45h1v1h-1zM4 0h1v1h-1zM4 5h1v1h-1zM4 14h1v1h-1zM4 16h1v1h-1zM4 20h1v1h-1zM5 23h1v1h-1zM7 21h1v1h-1zM7 24h1v1h-1zM7 29h1v1h-1zM7 44h1v1h-1zM7 49h1v1h-1zM8 27h1v1h-1zM8 29h1v1h-1zM8 34h1v1h-1zM8 39h1v2h-1zM8 47h1v1h-1zM9 0h1v1h-1zM9 7h1v1h-1zM9 11h1v1h-1zM9 13h1v1h-1zM9 15h1v1h-1zM9 18h1v1h-1zM10 23h1v1h-1zM10 25h1v1h-1zM10 33h1v1h-1zM10 41h1v1h-1zM11 26h1v1h-1zM11 32h1v1h-1zM11 37h1v1h-1zM11 48h1v1h-1zM13 21h1v1h-1zM15 5h1v1h-1zM15 11h1v1h-1zM15 41h1v1h-1zM16 9h1v1h-1zM16 22h1v1h-1zM17 22h1v1h-1zM17 24h1v1h-1zM17 26h1v1h-1zM17 32h1v2h-1zM18 40h1v1h-1zM19 33h1v1h-1zM19 35h1v1h-1zM20 21h1v2h-1zM20 25h1v1h-1zM20 33h1v1h-1zM20 43h1v1h-1zM20 45h1v1h-1zM21 21h1v1h-1zM21 23h1v1h-1zM21 36h1v1h-1zM22 0h1v1h-1zM22 24h1v1h-1zM22 31h1v1h-1zM22 35h1v1h-1zM22 42h1v1h-1zM22 44h1v1h-1zM23 22h1v1h-1zM23 25h1v1h-1zM23 33h1v2h-1zM23 44h1v1h-1zM23 47h1v2h-1zM24 22h1v3h-1zM24 34h1v1h-1zM24 36h1v2h-1zM24 39h1v1h-1zM24 41h1v1h-1zM24 45h1v1h-1zM24 47h1v1h-1zM24 49h1v1h-1zM25 28h1v1h-1zM25 38h1v1h-1zM25 47h1v1h-1zM25 49h1v1h-1zM26 28h1v2h-1zM26 31h1v1h-1zM26 36h1v1h-1zM26 39h1v1h-1zM26 48h1v2h-1zM27 23h1v1h-1zM27 30h1v1h-1zM27 37h1v1h-1zM27 39h1v1h-1zM28 27h1v1h-1zM29 27h1v1h-1zM29 41h1v1h-1zM29 45h1v2h-1zM31 28h1v2h-1zM31 32h1v1h-1zM31 34h1v2h-1zM31 42h1v2h-1zM31 47h1v1h-1zM33 22h1v2h-1zM33 34h1v1h-1zM33 49h1v1h-1zM34 22h1v1h-1zM34 24h1v1h-1zM34 28h1v2h-1zM34 36h1v1h-1zM34 38h1v1h-1zM34 47h1v1h-1zM35 15h1v1h-1zM35 26h1v1h-1zM35 30h1v1h-1zM38 34h1v1h-1zM39 22h1v1h-1zM39 26h1v1h-1zM39 39h1v1h-1zM40 26h1v1h-1zM40 30h1v1h-1zM40 36h1v1h-1zM40 42h1v3h-1zM40 48h1v1h-1zM41 21h1v1h-1zM41 30h1v1h-1zM41 37h1v1h-1zM41 41h1v2h-1zM41 48h1v1h-1zM42 41h1v1h-1zM43 25h1v1h-1zM43 31h1v1h-1zM43 34h1v2h-1zM45 35h1v1h-1zM45 49h1v1h-1zM46 5h1v1h-1zM46 33h1v1h-1zM46 38h1v2h-1zM46 42h1v2h-1zM47 34h1v2h-1zM49 36h1v1h-1zM49 42h1v1h-1zM50 17h1v1h-1zM50 22h1v1h-1zM50 25h1v1h-1zM50 30h1v1h-1zM50 37h1v1h-1zM50 43h1v2h-1zM50 49h1v1h-1zM51 23h1v2h-1zM51 29h1v1h-1zM51 41h1v1h-1zM51 43h1v2h-1zM52 6h1v2h-1zM52 9h1v1h-1zM52 14h1v2h-1zM53 23h1v1h-1zM54 30h1v1h-1zM54 44h1v2h-1zM54 47h1v1h-1zM54 49h1v1h-1zM55 29h1v1h-1zM55 34h1v1h-1zM55 36h1v1h-1zM55 40h1v1h-1zM56 11h1v1h-1zM56 14h1v1h-1zM56 17h1v1h-1zM58 25h1v1h-1zM58 29h1v1h-1zM58 31h1v1h-1zM58 34h1v2h-1zM58 41h1v1h-1zM59 21h1v1h-1zM59 28h1v1h-1zM59 33h1v1h-1zM59 36h1v1h-1zM59 38h1v1h-1zM61 21h1v1h-1zM62 32h1v1h-1zM62 40h1v1h-1zM63 12h1v1h-1zM63 32h1v1h-1zM63 40h1v1h-1zM63 42h1v1h-1zM65 22h1v2h-1zM65 32h1v1h-1zM66 0h1v1h-1zM66 2h1v3h-1zM66 11h1v2h-1zM66 19h1v1h-1zM67 6h1v1h-1zM67 26h1v1h-1zM68 21h1v2h-1zM68 30h1v1h-1zM68 39h1v1h-1zM68 41h1v3h-1zM68 45h1v2h-1zM68 48h1v1h-1zM69 22h1v1h-1zM69 24h1v1h-1zM69 31h1v1h-1zM69 38h1v1h-1zM70 25h1v2h-1zM70 31h1v1h-1zM70 37h1v1h-1zM70 44h1v1h-1zM72 5h1v1h-1zM72 24h1v1h-1zM72 26h1v2h-1zM72 30h1v1h-1zM72 33h1v1h-1zM72 36h1v1h-1zM72 41h1v2h-1zM72 45h1v1h-1zM73 38h1v2h-1zM74 27h1v1h-1zM74 33h1v1h-1zM74 46h1v2h-1zM74 49h1v1h-1zM75 1h1v1h-1zM75 4h1v1h-1zM75 17h1v1h-1zM75 20h1v1h-1zM75 30h1v1h-1zM76 46h1v1h-1zM77 23h1v1h-1zM78 0h1v2h-1zM78 6h1v1h-1zM78 8h1v2h-1zM78 13h1v3h-1zM80 11h1v1h-1zM80 17h1v1h-1zM80 32h1v1h-1zM83 1h1v1h-1zM83 10h1v1h-1zM86 29h1v2h-1zM86 34h1v1h-1zM86 38h1v1h-1zM86 44h1v1h-1zM86 46h1v1h-1zM86 48h1v1h-1zM87 21h1v1h-1zM87 23h1v1h-1zM87 28h1v2h-1zM87 36h1v1h-1zM87 42h1v1h-1zM87 47h1v1h-1zM89 29h1v1h-1zM89 34h1v1h-1zM89 40h1v1h-1zM89 44h1v1h-1zM89 46h1v1h-1zM90 1h1v1h-1zM90 6h1v1h-1zM90 21h1v1h-1zM90 39h1v1h-1zM91 0h1v1h-1zM91 13h1v1h-1zM91 31h1v1h-1zM91 47h1v1h-1zM92 21h1v1h-1zM93 46h1v1h-1zM94 18h1v2h-1zM94 21h1v2h-1zM94 27h1v2h-1zM94 34h1v2h-1zM94 39h1v1h-1zM94 41h1v1h-1zM94 44h1v1h-1zM94 46h1v1h-1zM95 10h1v1h-1zM95 26h1v1h-1zM95 34h1v1h-1zM96 49h1v1h-1zM99 25h1v1h-1zM99 27h1v1h-1zM99 30h1v2h-1zM99 33h1v2h-1zM99 37h1v1h-1zM99 40h1v1h-1zM99 45h1v2h-1zM99 49h1v1h-1zM100 0h1v1h-1zM100 4h1v1h-1zM100 8h1v1h-1zM100 25h1v1h-1zM101 9h1v1h-1zM101 17h1v1h-1zM102 23h1v3h-1zM103 23h1v1h-1zM103 33h1v2h-1zM103 36h1v1h-1zM103 40h1v2h-1zM103 45h1v2h-1zM105 25h1v2h-1zM105 28h1v2h-1zM105 31h1v2h-1zM105 34h1v1h-1zM105 39h1v1h-1zM105 41h1v1h-1zM105 43h1v1h-1zM105 48h1v1h-1zM107 27h1v1h-1zM107 29h1v3h-1zM107 37h1v1h-1zM107 43h1v1h-1zM107 46h1v1h-1zM110 24h1v2h-1zM110 27h1v1h-1zM110 34h1v1h-1zM110 40h1v1h-1zM110 45h1v1h-1zM110 48h1v1h-1zM111 0h1v1h-1zM111 18h1v1h-1zM111 28h1v1h-1zM111 41h1v2h-1zM114 0h1v2h-1zM114 6h1v1h-1zM114 8h1v1h-1zM114 12h1v2h-1zM114 17h1v2h-1zM114 20h1v1h-1zM115 23h1v1h-1zM115 25h1v1h-1zM115 28h1v1h-1zM115 42h1v1h-1zM116 21h1v1h-1zM116 28h1v1h-1zM116 30h1v1h-1zM116 34h1v2h-1zM116 37h1v2h-1zM116 44h1v1h-1zM117 36h1v1h-1zM118 22h1v1h-1zM118 44h1v1h-1zM119 27h1v3h-1zM119 34h1v1h-1zM119 36h1v1h-1zM119 38h1v2h-1zM119 42h1v1h-1zM119 44h1v1h-1zM119 46h1v1h-1zM119 49h1v1h-1zM121 48h1v1h-1zM122 25h1v1h-1zM122 47h1v1h-1zM123 0h1v1h-1zM123 2h1v1h-1zM123 7h1v1h-1zM123 14h1v1h-1zM123 32h1v1h-1zM123 42h1v1h-1zM124 22h1v1h-1zM124 24h1v1h-1zM124 29h1v1h-1zM124 33h1v4h-1zM124 38h1v1h-1zM124 48h1v1h-1zM126 23h1v1h-1zM126 25h1v1h-1zM126 29h1v1h-1zM126 33h1v1h-1zM126 41h1v1h-1zM127 24h1v1h-1zM127 26h1v2h-1zM127 29h1v3h-1zM127 33h1v1h-1zM127 36h1v1h-1zM127 42h1v1h-1zM127 45h1v1h-1zM129 8h1v1h-1zM129 42h1v1h-1z"/>
<path fill="#4b4bff" d="M0 30h1v1h-1zM0 46h1v2h-1zM1 27h1v3h-1zM1 34h1v1h-1zM1 45h1v1h-1zM1 49h1v1h-1zM3 29h1v1h-1zM4 4h1v1h-1zM4 15h1v1h-1zM5 21h1v1h-1zM5 43h1v2h-1zM7 23h1v1h-1zM7 30h1v1h-1zM7 34h1v1h-1zM7 37h1v1h-1zM7 39h1v1h-1zM7 41h1v1h-1zM8 21h1v1h-1zM8 23h1v1h-1zM8 25h1v1h-1zM8 30h1v1h-1zM8 36h1v1h-1zM8 46h1v1h-1zM8 48h1v2h-1zM9 12h1v1h-1zM9 14h1v1h-1zM9 16h1v1h-1zM10 22h1v1h-1zM10 31h1v2h-1zM10 42h1v2h-1zM10 45h1v1h-1zM11 23h1v2h-1zM11 29h1v1h-1zM11 33h1v1h-1zM11 43h1v2h-1zM12 28h1v1h-1zM12 30h1v1h-1zM12 33h1v1h-1zM12 42h1v1h-1zM12 49h1v1h-1zM13 23h1v1h-1zM13 33h1v1h-1zM17 21h1v1h-1zM17 40h1v1h-1zM17 47h1v2h-1zM18 26h1v2h-1zM18 29h1v1h-1zM18 34h1v1h-1zM18 38h1v1h-1zM18 44h1v1h-1zM18 49h1v1h-1zM20 23h1v1h-1zM20 26h1v6h-1zM20 36h1v1h-1zM20 38h1v2h-1zM20 41h1v2h-1zM20 48h1v2h-1zM21 30h1v1h-1zM21 32h1v1h-1zM21 35h1v1h-1zM21 47h1v1h-1zM22 34h1v1h-1zM22 46h1v2h-1zM23 28h1v2h-1zM23 40h1v1h-1zM23 42h1v2h-1zM23 46h1v1h-1zM24 28h1v1h-1zM24 31h1v2h-1zM24 38h1v1h-1zM24 40h1v1h-1zM24 44h1v1h-1zM24 46h1v1h-1zM25 21h1v2h-1zM25 26h1v2h-1zM25 39h1v1h-1zM25 44h1v1h-1zM25 46h1v1h-1zM25 48h1v1h-1zM26 21h1v3h-1zM26 25h1v1h-1zM26 27h1v1h-1zM26 38h1v1h-1zM26 44h1v2h-1zM27 21h1v2h-1zM27 34h1v1h-1zM27 45h1v1h-1zM27 48h1v1h-1zM28 41h1v1h-1zM29 30h1v1h-1zM29 36h1v3h-1zM29 40h1v1h-1zM30 22h1v1h-1zM30 30h1v1h-1zM31 21h1v2h-1zM31 37h1v2h-1zM31 41h1v1h-1zM31 49h1v1h-1zM32 21h1v2h-1zM32 33h1v1h-1zM32 36h1v1h-1zM32 44h1v1h-1zM33 21h1v1h-1zM33 32h1v1h-1zM33 38h1v1h-1zM33 45h1v1h-1zM34 26h1v1h-1zM34 31h1v1h-1zM34 33h1v1h-1zM34 39h1v1h-1zM34 49h1v1h-1zM35 10h1v1h-1zM36 46h1v1h-1zM38 22h1v1h-1zM38 35h1v1h-1zM39 21h1v1h-1zM39 30h1v1h-1zM39 48h1v2h-1zM40 22h1v3h-1zM40 27h1v1h-1zM40 35h1v1h-1zM40 39h1v1h-1zM40 46h1v2h-1zM41 24h1v2h-1zM41 27h1v1h-1zM41 32h1v1h-1zM41 34h1v3h-1zM41 38h1v1h-1zM41 49h1v1h-1zM42 22h1v1h-1zM42 42h1v1h-1zM43 23h1v1h-1zM45 29h1v1h-1zM45 40h1v1h-1zM46 14h1v1h-1zM46 22h1v1h-1zM46 28h1v1h-1zM46 31h1v1h-1zM46 37h1v1h-1zM47 21h1v1h-1zM47 23h1v1h-1zM47 27h1v1h-1zM47 31h1v2h-1zM47 37h1v5h-1zM49 25h1v2h-1zM49 29h1v1h-1zM49 31h1v1h-1zM49 40h1v1h-1zM50 21h1v1h-1zM50 29h1v1h-1zM50 32h1v1h-1zM51 35h1v1h-1zM51 38h1v1h-1zM51 48h1v1h-1zM52 0h1v1h-1zM52 4h1v1h-1zM52 10h1v1h-1zM52 20h1v1h-1zM53 22h1v1h-1zM53 29h1v2h-1zM53 33h1v2h-1zM54 38h1v1h-1zM54 40h1v1h-1zM54 43h1v1h-1zM55 32h1v2h-1zM55 41h1v1h-1zM55 47h1v1h-1zM58 22h1v1h-1zM58 30h1v1h-1zM58 43h1v1h-1zM58 45h1v1h-1zM58 48h1v2h-1zM59 22h1v1h-1zM59 26h1v2h-1zM59 42h1v1h-1zM59 44h1v1h-1zM59 47h1v1h-1zM61 22h1v1h-1zM61 31h1v1h-1zM61 36h1v1h-1zM61 45h1v1h-1zM62 26h1v1h-1zM62 28h1v1h-1zM62 35h1v1h-1zM62 37h1v1h-1zM62 41h1v2h-1zM62 45h1v1h-1zM63 3h1v1h-1zM64 36h1v1h-1zM65 29h1v1h-1zM66 1h1v1h-1zM66 5h1v1h-1zM66 16h1v1h-1zM66 18h1v1h-1zM67 22h1v1h-1zM67 35h1v1h-1zM67 45h1v1h-1zM67 48h1v2h-1zM68 25h1v3h-1zM68 31h1v2h-1zM68 34h1v3h-1zM69 21h1v1h-1zM69 36h1v1h-1zM69 42h1v1h-1zM69 48h1v1h-1zM70 24h1v1h-1zM70 27h1v1h-1zM70 29h1v1h-1zM70 32h1v1h-1zM70 34h1v1h-1zM70 36h1v1h-1zM70 48h1v1h-1zM72 6h1v1h-1zM72 34h1v1h-1zM72 37h1v1h-1zM72 40h1v1h-1zM72 44h1v1h-1zM73 28h1v1h-1zM74 21h1v1h-1zM74 23h1v1h-1zM74 26h1v1h-1zM74 34h1v1h-1zM74 36h1v2h-1zM74 44h1v2h-1zM75 11h1v1h-1zM76 23h1v1h-1zM76 28h1v1h-1zM76 30h1v1h-1zM76 37h1v2h-1zM77 36h1v1h-1zM78 2h1v1h-1zM78 5h1v1h-1zM78 10h1v1h-1zM78 16h1v1h-1zM78 18h1v1h-1zM79 23h1v1h-1zM79 30h1v1h-1zM79 38h1v1h-1zM79 45h1v1h-1zM80 44h1v1h-1zM82 29h1v1h-1zM83 3h1v1h-1zM83 6h1v1h-1zM84 4h1v1h-1zM86 23h1v1h-1zM86 33h1v1h-1zM86 42h1v1h-1zM87 41h1v1h-1zM88 48h1v1h-1zM89 26h1v1h-1zM89 32h1v1h-1zM89 36h1v2h-1zM90 0h1v1h-1zM90 9h1v1h-1zM90 12h1v1h-1zM90 16h1v1h-1zM90 23h1v1h-1zM91 11h1v1h-1zM91 18h1v1h-1zM93 31h1v1h-1zM93 39h1v1h-1zM93 41h1v1h-1zM93 44h1v2h-1zM94 17h1v1h-1zM94 29h1v1h-1zM94 43h1v1h-1zM94 47h1v1h-1zM96 21h1v1h-1zM98 23h1v1h-1zM98 29h1v2h-1zM98 38h1v1h-1zM99 32h1v1h-1zM99 35h1v1h-1zM99 38h1v1h-1zM99 47h1v1h-1zM100 35h1v1h-1zM101 0h1v2h-1zM101 8h1v1h-1zM102 22h1v1h-1zM102 28h1v1h-1zM102 33h1v1h-1zM102 38h1v1h-1zM102 41h1v1h-1zM102 45h1v2h-1zM103 27h1v2h-1zM103 30h1v2h-1zM103 38h1v1h-1zM103 47h1v1h-1zM104 33h1v1h-1zM104 37h1v1h-1zM104 41h1v2h-1zM104 45h1v1h-1zM105 30h1v1h-1zM105 40h1v1h-1zM107 21h1v1h-1zM107 25h1v1h-1zM107 28h1v1h-1zM107 36h1v1h-1zM107 40h1v1h-1zM107 44h1v1h-1zM108 42h1v1h-1zM110 31h1v1h-1zM110 35h1v2h-1zM110 42h1v2h-1zM111 11h1v1h-1zM111 27h1v1h-1zM113 22h1v1h-1zM114 9h1v1h-1zM114 19h1v1h-1zM115 33h1v1h-1zM115 37h1v1h-1zM115 41h1v1h-1zM115 43h1v1h-1zM115 48h1v1h-1zM116 24h1v1h-1zM116 40h1v1h-1zM116 46h1v1h-1zM116 48h1v1h-1zM117 21h1v1h-1zM117 23h1v1h-1zM117 33h1v1h-1zM118 2h1v1h-1zM118 5h1v1h-1zM118 8h1v1h-1zM118 15h1v1h-1zM118 45h1v1h-1zM119 30h1v1h-1zM119 40h1v2h-1zM120 21h1v1h-1zM120 24h1v1h-1zM120 33h1v1h-1zM120 36h1v1h-1zM120 41h1v3h-1zM121 21h1v1h-1zM121 27h1v1h-1zM121 29h1v2h-1zM121 34h1v2h-1zM121 38h1v1h-1zM121 43h1v1h-1zM122 23h1v1h-1zM122 28h1v2h-1zM122 32h1v2h-1zM122 38h1v1h-1zM122 42h1v1h-1zM122 45h1v1h-1zM123 16h1v1h-1zM123 19h1v1h-1zM123 23h1v1h-1zM124 21h1v1h-1zM124 25h1v2h-1zM124 28h1v1h-1zM124 31h1v2h-1zM124 37h1v1h-1zM124 40h1v2h-1zM124 44h1v2h-1zM125 27h1v1h-1zM125 32h1v1h-1zM125 37h1v3h-1zM125 47h1v3h-1zM126 27h1v1h-1zM126 39h1v2h-1zM126 42h1v1h-1zM126 45h1v1h-1zM127 34h1v1h-1zM127 44h1v1h-1zM127 48h1v2h-1zM128 21h1v1h-1zM128 23h1v1h-1zM128 34h1v1h-1zM128 36h1v1h-1zM129 4h1v1h-1zM129 11h1v1h-1zM129 18h1v1h-1zM129 37h1v1h-1z"/>
<path fill="#0000ff" d="M0 41h1v1h-1zM1 24h1v1h-1zM1 30h1v1h-1zM1 37h1v1h-1zM1 46h1v1h-1zM3 21h1v8h-1zM3 30h1v20h-1zM4 7h1v7h-1zM5 22h1v1h-1zM5 24h1v19h-1zM5 45h1v5h-1zM6 21h1v29h-1zM7 25h1v3h-1zM7 36h1v1h-1zM7 38h1v1h-1zM7 40h1v1h-1zM7 43h1v1h-1zM7 45h1v1h-1zM8 22h1v1h-1zM8 24h1v1h-1zM8 26h1v1h-1zM8 28h1v1h-1zM8 32h1v2h-1zM8 35h1v1h-1zM8 37h1v2h-1zM8 41h1v5h-1zM9 4h1v2h-1zM9 10h1v1h-1zM10 21h1v1h-1zM10 24h1v1h-1zM10 26h1v5h-1zM10 34h1v7h-1zM10 44h1v1h-1zM10 46h1v4h-1zM11 21h1v1h-1zM11 25h1v1h-1zM11 28h1v1h-1zM11 34h1v2h-1zM11 38h1v1h-1zM11 40h1v2h-1zM11 46h1v2h-1zM12 21h1v7h-1zM12 29h1v1h-1zM12 31h1v2h-1zM12 34h1v8h-1zM12 43h1v6h-1zM13 22h1v1h-1zM13 24h1v9h-1zM13 34h1v16h-1zM15 2h1v1h-1zM17 23h1v1h-1zM17 28h1v1h-1zM17 30h1v2h-1zM17 36h1v1h-1zM18 21h1v2h-1zM18 24h1v2h-1zM18 28h1v1h-1zM18 30h1v4h-1zM18 35h1v3h-1zM18 41h1v3h-1zM18 45h1v4h-1zM20 32h1v1h-1zM20 34h1v2h-1zM20 40h1v1h-1zM20 44h1v1h-1zM20 46h1v2h-1zM21 24h1v1h-1zM21 26h1v4h-1zM21 31h1v1h-1zM21 33h1v2h-1zM21 37h1v2h-1zM21 40h1v2h-1zM21 43h1v4h-1zM21 48h1v2h-1zM23 23h1v1h-1zM23 32h1v1h-1zM24 25h1v1h-1zM24 27h1v1h-1zM24 29h1v2h-1zM24 35h1v1h-1zM24 42h1v2h-1zM25 23h1v3h-1zM25 29h1v9h-1zM25 40h1v4h-1zM25 45h1v1h-1zM26 30h1v1h-1zM26 32h1v1h-1zM26 34h1v1h-1zM26 40h1v2h-1zM26 46h1v2h-1zM27 24h1v6h-1zM27 31h1v3h-1zM27 35h1v2h-1zM27 38h1v1h-1zM27 41h1v4h-1zM27 46h1v2h-1zM27 49h1v1h-1zM28 21h1v6h-1zM28 28h1v13h-1zM28 42h1v8h-1zM29 23h1v1h-1zM30 21h1v1h-1zM30 23h1v7h-1zM30 31h1v19h-1zM31 23h1v5h-1zM31 31h1v1h-1zM31 33h1v1h-1zM31 39h1v1h-1zM31 44h1v2h-1zM31 48h1v1h-1zM32 23h1v10h-1zM32 34h1v2h-1zM32 37h1v7h-1zM32 45h1v5h-1zM33 24h1v8h-1zM33 33h1v1h-1zM33 35h1v3h-1zM33 39h1v6h-1zM33 46h1v3h-1zM34 25h1v1h-1zM34 34h1v1h-1zM34 40h1v3h-1zM34 45h1v1h-1zM36 21h1v25h-1zM36 47h1v3h-1zM37 21h1v29h-1zM38 21h1v1h-1zM38 23h1v11h-1zM38 36h1v14h-1zM39 24h1v2h-1zM39 27h1v3h-1zM39 31h1v8h-1zM39 40h1v8h-1zM40 21h1v1h-1zM40 25h1v1h-1zM40 28h1v2h-1zM40 31h1v2h-1zM40 38h1v1h-1zM40 41h1v1h-1zM40 45h1v1h-1zM40 49h1v1h-1zM41 26h1v1h-1zM41 43h1v1h-1zM41 46h1v2h-1zM42 21h1v1h-1zM42 23h1v18h-1zM42 43h1v7h-1zM44 21h1v29h-1zM45 21h1v8h-1zM45 30h1v5h-1zM45 36h1v4h-1zM45 41h1v8h-1zM46 34h1v1h-1zM46 47h1v1h-1zM47 24h1v1h-1zM47 26h1v1h-1zM47 28h1v3h-1zM47 33h1v1h-1zM47 36h1v1h-1zM47 42h1v8h-1zM48 21h1v29h-1zM49 22h1v3h-1zM49 27h1v2h-1zM49 30h1v1h-1zM49 32h1v4h-1zM49 37h1v3h-1zM49 41h1v1h-1zM49 43h1v7h-1zM50 24h1v1h-1zM50 26h1v2h-1zM50 34h1v3h-1zM50 39h1v1h-1zM51 21h1v1h-1zM51 25h1v2h-1zM51 28h1v1h-1zM51 30h1v5h-1zM51 36h1v2h-1zM51 39h1v2h-1zM51 42h1v1h-1zM51 45h1v3h-1zM51 49h1v1h-1zM52 2h1v2h-1zM52 5h1v1h-1zM52 11h1v3h-1zM52 16h1v3h-1zM53 21h1v1h-1zM53 24h1v5h-1zM53 31h1v2h-1zM53 35h1v15h-1zM55 21h1v8h-1zM55 30h1v2h-1zM55 35h1v1h-1zM55 37h1v3h-1zM55 42h1v5h-1zM55 48h1v2h-1zM56 19h1v1h-1zM57 21h1v29h-1zM58 24h1v1h-1zM58 27h1v2h-1zM58 36h1v1h-1zM59 23h1v2h-1zM59 29h1v3h-1zM59 34h1v1h-1zM59 37h1v1h-1zM59 40h1v1h-1zM59 45h1v2h-1zM59 49h1v1h-1zM60 21h1v29h-1zM61 23h1v1h-1zM61 25h1v6h-1zM61 32h1v4h-1zM61 37h1v8h-1zM61 46h1v4h-1zM62 21h1v5h-1zM62 27h1v1h-1zM62 29h1v3h-1zM62 33h1v2h-1zM62 36h1v1h-1zM62 38h1v2h-1zM62 44h1v1h-1zM62 46h1v4h-1zM63 41h1v1h-1zM63 45h1v1h-1zM63 47h1v1h-1zM64 21h1v15h-1zM64 37h1v13h-1zM65 21h1v1h-1zM65 24h1v5h-1zM65 30h1v2h-1zM65 33h1v17h-1zM66 7h1v1h-1zM66 9h1v2h-1zM67 36h1v1h-1zM68 23h1v2h-1zM68 28h1v1h-1zM68 33h1v1h-1zM68 37h1v2h-1zM68 40h1v1h-1zM68 44h1v1h-1zM68 47h1v1h-1zM68 49h1v1h-1zM69 23h1v1h-1zM69 26h1v5h-1zM69 32h1v4h-1zM69 37h1v1h-1zM69 39h1v3h-1zM69 43h1v5h-1zM69 49h1v1h-1zM70 22h1v1h-1zM70 28h1v1h-1zM70 30h1v1h-1zM70 33h1v1h-1zM70 35h1v1h-1zM70 38h1v6h-1zM70 45h1v1h-1zM70 47h1v1h-1zM71 21h1v29h-1zM72 31h1v2h-1zM72 39h1v1h-1zM72 48h1v2h-1zM74 22h1v1h-1zM74 25h1v1h-1zM74 28h1v5h-1zM74 35h1v1h-1zM74 38h1v5h-1zM74 48h1v1h-1zM76 22h1v1h-1zM76 24h1v4h-1zM76 29h1v1h-1zM76 31h1v6h-1zM76 39h1v7h-1zM76 47h1v3h-1zM77 21h1v2h-1zM77 24h1v12h-1zM77 37h1v13h-1zM78 4h1v1h-1zM78 7h1v1h-1zM78 12h1v1h-1zM78 17h1v1h-1zM79 21h1v2h-1zM79 24h1v6h-1zM79 31h1v7h-1zM79 39h1v6h-1zM79 46h1v4h-1zM82 21h1v8h-1zM82 30h1v20h-1zM86 21h1v1h-1zM86 41h1v1h-1zM89 27h1v1h-1zM89 42h1v1h-1zM90 31h1v1h-1zM90 43h1v1h-1zM91 3h1v1h-1zM92 22h1v28h-1zM93 21h1v10h-1zM93 32h1v7h-1zM93 40h1v1h-1zM93 42h1v2h-1zM93 47h1v3h-1zM97 21h1v29h-1zM98 21h1v2h-1zM98 24h1v5h-1zM98 31h1v7h-1zM98 39h1v11h-1zM99 24h1v1h-1zM99 39h1v1h-1zM99 48h1v1h-1zM100 1h1v1h-1zM101 2h1v6h-1zM101 10h1v7h-1zM101 18h1v1h-1zM101 20h1v1h-1zM102 27h1v1h-1zM102 29h1v4h-1zM102 34h1v1h-1zM102 37h1v1h-1zM102 40h1v1h-1zM102 42h1v3h-1zM102 47h1v2h-1zM103 24h1v3h-1zM103 29h1v1h-1zM103 32h1v1h-1zM103 39h1v1h-1zM103 44h1v1h-1zM103 48h1v2h-1zM104 21h1v12h-1zM104 34h1v3h-1zM104 38h1v3h-1zM104 43h1v2h-1zM104 46h1v4h-1zM105 22h1v3h-1zM105 38h1v1h-1zM107 24h1v1h-1zM107 41h1v1h-1zM107 45h1v1h-1zM108 21h1v1h-1zM108 23h1v19h-1zM108 43h1v7h-1zM110 22h1v1h-1zM110 28h1v1h-1zM110 38h1v1h-1zM110 46h1v1h-1zM112 21h1v29h-1zM114 2h1v1h-1zM114 7h1v1h-1zM114 14h1v1h-1zM115 21h1v2h-1zM115 24h1v1h-1zM115 27h1v1h-1zM115 29h1v4h-1zM115 34h1v3h-1zM115 38h1v3h-1zM115 45h1v3h-1zM115 49h1v1h-1zM116 45h1v1h-1zM117 22h1v1h-1zM117 24h1v9h-1zM117 34h1v2h-1zM117 37h1v13h-1zM118 4h1v1h-1zM118 14h1v1h-1zM119 25h1v1h-1zM119 32h1v1h-1zM119 45h1v1h-1zM119 47h1v1h-1zM120 23h1v1h-1zM120 26h1v3h-1zM120 30h1v3h-1zM120 34h1v2h-1zM120 37h1v4h-1zM120 44h1v6h-1zM121 22h1v1h-1zM121 26h1v1h-1zM121 28h1v1h-1zM121 31h1v3h-1zM121 36h1v2h-1zM121 39h1v4h-1zM121 44h1v2h-1zM121 47h1v1h-1zM121 49h1v1h-1zM122 22h1v1h-1zM122 24h1v1h-1zM122 26h1v1h-1zM122 30h1v2h-1zM122 34h1v4h-1zM122 39h1v1h-1zM122 43h1v2h-1zM122 46h1v1h-1zM122 49h1v1h-1zM123 21h1v1h-1zM124 27h1v1h-1zM124 39h1v1h-1zM124 42h1v1h-1zM124 46h1v1h-1zM125 21h1v2h-1zM125 24h1v3h-1zM125 28h1v4h-1zM125 33h1v4h-1zM125 41h1v6h-1zM126 26h1v1h-1zM126 30h1v3h-1zM126 34h1v5h-1zM126 46h1v1h-1zM126 48h1v2h-1zM127 25h1v1h-1zM127 43h1v1h-1zM127 47h1v1h-1zM128 22h1v1h-1zM128 24h1v10h-1zM128 35h1v1h-1zM128 37h1v13h-1zM129 2h1v1h-1zM129 13h1v1h-1z"/>
<path fill="#ff0000" d="M1 1h1v1h-1zM1 3h1v1h-1zM1 5h1v3h-1zM1 13h1v1h-1zM1 18h1v1h-1zM3 0h1v21h-1zM4 24h1v2h-1zM4 27h1v1h-1zM4 32h1v1h-1zM4 34h1v1h-1zM4 36h1v1h-1zM4 38h1v1h-1zM4 43h1v7h-1zM5 0h1v21h-1zM6 0h1v21h-1zM7 1h1v1h-1zM7 3h1v2h-1zM7 8h1v3h-1zM7 12h1v1h-1zM7 15h1v2h-1zM7 18h1v1h-1zM7 20h1v1h-1zM8 1h1v1h-1zM8 4h1v4h-1zM8 10h1v2h-1zM8 13h1v1h-1zM8 17h1v1h-1zM8 20h1v1h-1zM9 26h1v2h-1zM9 30h1v1h-1zM9 32h1v1h-1zM9 38h1v1h-1zM10 0h1v2h-1zM10 3h1v2h-1zM10 6h1v2h-1zM10 9h1v1h-1zM10 11h1v1h-1zM10 14h1v2h-1zM10 18h1v2h-1zM11 3h1v1h-1zM11 6h1v1h-1zM11 8h1v1h-1zM11 10h1v1h-1zM11 17h1v1h-1zM12 0h1v1h-1zM12 2h1v7h-1zM12 10h1v5h-1zM12 16h1v5h-1zM13 1h1v3h-1zM13 5h1v13h-1zM13 19h1v2h-1zM16 24h1v1h-1zM18 1h1v11h-1zM18 13h1v2h-1zM18 20h1v1h-1zM20 0h1v1h-1zM20 2h1v2h-1zM20 7h1v1h-1zM20 10h1v1h-1zM20 15h1v1h-1zM20 17h1v3h-1zM21 0h1v5h-1zM21 7h1v7h-1zM21 15h1v3h-1zM21 19h1v2h-1zM22 5h1v1h-1zM23 0h1v1h-1zM23 5h1v2h-1zM23 14h1v1h-1zM24 4h1v2h-1zM24 11h1v2h-1zM24 18h1v1h-1zM24 20h1v1h-1zM25 0h1v1h-1zM25 3h1v1h-1zM25 6h1v2h-1zM25 10h1v4h-1zM25 16h1v5h-1zM26 5h1v1h-1zM26 9h1v1h-1zM26 16h1v1h-1zM26 19h1v1h-1zM27 0h1v1h-1zM27 3h1v2h-1zM27 6h1v2h-1zM27 9h1v3h-1zM27 13h1v5h-1zM27 20h1v1h-1zM28 0h1v19h-1zM28 20h1v1h-1zM29 2h1v1h-1zM29 9h1v1h-1zM29 13h1v2h-1zM30 0h1v17h-1zM30 18h1v3h-1zM31 0h1v1h-1zM31 2h1v1h-1zM31 4h1v1h-1zM31 6h1v1h-1zM31 10h1v4h-1zM31 16h1v2h-1zM32 0h1v1h-1zM32 2h1v16h-1zM32 19h1v2h-1zM33 1h1v5h-1zM33 7h1v2h-1zM33 10h1v2h-1zM33 13h1v2h-1zM33 16h1v1h-1zM33 18h1v3h-1zM34 3h1v2h-1zM34 7h1v2h-1zM34 10h1v1h-1zM34 12h1v1h-1zM34 17h1v1h-1zM36 0h1v21h-1zM37 0h1v21h-1zM38 0h1v21h-1zM39 0h1v7h-1zM39 8h1v1h-1zM39 10h1v3h-1zM39 14h1v3h-1zM39 19h1v2h-1zM40 0h1v3h-1zM40 4h1v3h-1zM40 13h1v1h-1zM40 18h1v1h-1zM41 0h1v1h-1zM41 6h1v1h-1zM41 13h1v3h-1zM42 0h1v1h-1zM42 2h1v5h-1zM42 9h1v3h-1zM42 13h1v4h-1zM42 18h1v1h-1zM43 11h1v1h-1zM44 0h1v21h-1zM45 1h1v1h-1zM45 3h1v7h-1zM45 11h1v6h-1zM46 12h1v1h-1zM47 0h1v1h-1zM47 2h1v1h-1zM47 4h1v3h-1zM47 9h1v1h-1zM47 11h1v2h-1zM47 14h1v4h-1zM47 20h1v1h-1zM48 0h1v5h-1zM48 6h1v15h-1zM49 1h1v4h-1zM49 6h1v9h-1zM49 16h1v1h-1zM49 18h1v1h-1zM50 1h1v1h-1zM50 5h1v1h-1zM50 11h1v1h-1zM51 2h1v5h-1zM51 10h1v1h-1zM51 14h1v4h-1zM51 19h1v1h-1zM52 22h1v4h-1zM52 29h1v1h-1zM52 32h1v2h-1zM52 44h1v1h-1zM52 49h1v1h-1zM53 0h1v3h-1zM53 5h1v6h-1zM53 12h1v3h-1zM53 16h1v1h-1zM54 20h1v1h-1zM55 0h1v4h-1zM55 5h1v1h-1zM55 8h1v1h-1zM55 10h1v1h-1zM55 13h1v4h-1zM55 18h1v1h-1zM55 20h1v1h-1zM56 43h1v1h-1zM57 0h1v21h-1zM58 13h1v1h-1zM58 20h1v1h-1zM59 4h1v3h-1zM59 11h1v2h-1zM59 14h1v1h-1zM59 18h1v2h-1zM60 0h1v1h-1zM60 2h1v19h-1zM61 0h1v1h-1zM61 2h1v14h-1zM61 17h1v1h-1zM61 19h1v2h-1zM62 1h1v9h-1zM62 12h1v2h-1zM62 16h1v1h-1zM62 18h1v1h-1zM62 20h1v1h-1zM63 0h1v1h-1zM64 0h1v19h-1zM64 20h1v1h-1zM65 0h1v11h-1zM65 12h1v2h-1zM65 15h1v1h-1zM65 20h1v1h-1zM66 21h1v1h-1zM66 25h1v1h-1zM66 28h1v1h-1zM66 38h1v1h-1zM66 44h1v1h-1zM66 48h1v1h-1zM67 4h1v1h-1zM67 11h1v1h-1zM68 2h1v4h-1zM68 7h1v1h-1zM68 9h1v1h-1zM68 11h1v1h-1zM68 14h1v1h-1zM68 19h1v1h-1zM69 0h1v4h-1zM69 6h1v5h-1zM69 14h1v3h-1zM69 18h1v1h-1zM70 1h1v1h-1zM70 4h1v2h-1zM70 10h1v1h-1zM70 13h1v1h-1zM71 0h1v20h-1zM72 3h1v1h-1zM72 13h1v1h-1zM72 16h1v1h-1zM73 5h1v1h-1zM74 1h1v2h-1zM74 5h1v1h-1zM74 8h1v1h-1zM74 10h1v2h-1zM74 13h1v1h-1zM74 17h1v2h-1zM75 34h1v1h-1zM76 0h1v1h-1zM76 3h1v6h-1zM76 11h1v7h-1zM76 19h1v1h-1zM77 0h1v4h-1zM77 5h1v4h-1zM77 10h1v8h-1zM77 19h1v2h-1zM78 22h1v1h-1zM79 0h1v3h-1zM79 5h1v3h-1zM79 9h1v10h-1zM79 20h1v1h-1zM82 0h1v21h-1zM86 5h1v1h-1zM89 10h1v1h-1zM91 37h1v1h-1zM91 39h1v1h-1zM92 0h1v21h-1zM93 2h1v10h-1zM93 13h1v4h-1zM93 18h1v1h-1zM93 20h1v1h-1zM97 0h1v19h-1zM97 20h1v1h-1zM98 0h1v17h-1zM98 18h1v1h-1zM99 16h1v1h-1zM101 22h1v2h-1zM101 27h1v2h-1zM101 30h1v4h-1zM101 35h1v7h-1zM101 43h1v3h-1zM101 47h1v3h-1zM102 1h1v2h-1zM102 4h1v1h-1zM102 6h1v10h-1zM102 17h1v2h-1zM103 4h1v1h-1zM103 12h1v1h-1zM104 0h1v1h-1zM104 2h1v5h-1zM104 8h1v4h-1zM104 13h1v3h-1zM104 17h1v1h-1zM104 19h1v2h-1zM105 12h1v1h-1zM107 1h1v2h-1zM107 15h1v1h-1zM107 20h1v1h-1zM108 0h1v20h-1zM110 0h1v1h-1zM110 5h1v1h-1zM110 8h1v1h-1zM112 0h1v20h-1zM114 21h1v1h-1zM114 32h1v1h-1zM114 43h1v1h-1zM114 46h1v1h-1zM115 0h1v2h-1zM115 5h1v2h-1zM115 9h1v4h-1zM115 14h1v1h-1zM116 15h1v1h-1zM116 20h1v1h-1zM117 0h1v9h-1zM117 10h1v7h-1zM117 20h1v1h-1zM118 16h1v1h-1zM119 5h1v1h-1zM119 9h1v1h-1zM119 18h1v1h-1zM120 0h1v2h-1zM120 3h1v1h-1zM120 5h1v1h-1zM120 7h1v3h-1zM120 11h1v1h-1zM120 14h1v2h-1zM120 17h1v1h-1zM120 19h1v1h-1zM121 0h1v1h-1zM121 2h1v2h-1zM121 7h1v7h-1zM121 16h1v4h-1zM122 1h1v3h-1zM122 7h1v1h-1zM122 12h1v1h-1zM122 14h1v2h-1zM122 17h1v1h-1zM124 0h1v1h-1zM124 2h1v1h-1zM124 12h1v2h-1zM124 16h1v1h-1zM124 18h1v1h-1zM124 20h1v1h-1zM125 1h1v8h-1zM125 10h1v5h-1zM125 16h1v1h-1zM125 20h1v1h-1zM126 0h1v2h-1zM126 3h1v1h-1zM126 5h1v3h-1zM126 9h1v2h-1zM126 13h1v1h-1zM127 1h1v1h-1zM127 10h1v1h-1zM127 12h1v1h-1zM128 0h1v2h-1zM128 3h1v5h-1zM128 9h1v3h-1zM128 15h1v2h-1zM128 19h1v2h-1zM129 28h1v2h-1z"/>
<path fill="#ff4b4b" d="M1 12h1v1h-1zM1 20h1v1h-1zM4 26h1v1h-1zM4 30h1v1h-1zM4 33h1v1h-1zM4 42h1v1h-1zM7 2h1v1h-1zM7 11h1v1h-1zM7 33h1v1h-1zM8 15h1v2h-1zM8 18h1v2h-1zM9 22h1v1h-1zM9 36h1v1h-1zM9 41h1v1h-1zM10 2h1v1h-1zM10 5h1v1h-1zM10 8h1v1h-1zM10 10h1v1h-1zM10 12h1v1h-1zM11 0h1v2h-1zM11 11h1v1h-1zM11 13h1v1h-1zM12 1h1v1h-1zM12 15h1v1h-1zM13 0h1v1h-1zM13 18h1v1h-1zM17 2h1v1h-1zM17 4h1v1h-1zM17 18h1v1h-1zM18 15h1v1h-1zM18 17h1v1h-1zM19 8h1v1h-1zM20 1h1v1h-1zM20 11h1v1h-1zM20 13h1v1h-1zM20 20h1v1h-1zM21 6h1v1h-1zM21 14h1v1h-1zM21 18h1v1h-1zM22 1h1v1h-1zM22 12h1v1h-1zM23 4h1v1h-1zM23 10h1v2h-1zM24 9h1v2h-1zM25 2h1v1h-1zM25 4h1v2h-1zM25 14h1v2h-1zM26 13h1v1h-1zM26 17h1v2h-1zM27 1h1v2h-1zM27 5h1v1h-1zM27 8h1v1h-1zM27 12h1v1h-1zM27 18h1v2h-1zM28 19h1v1h-1zM29 10h1v1h-1zM29 15h1v1h-1zM30 17h1v1h-1zM31 1h1v1h-1zM31 5h1v1h-1zM31 7h1v1h-1zM31 14h1v1h-1zM31 18h1v1h-1zM32 1h1v1h-1zM32 18h1v1h-1zM33 0h1v1h-1zM33 6h1v1h-1zM33 9h1v1h-1zM33 12h1v1h-1zM33 17h1v1h-1zM34 2h1v1h-1zM34 11h1v1h-1zM34 15h1v1h-1zM35 17h1v1h-1zM35 39h1v1h-1zM39 7h1v1h-1zM39 9h1v1h-1zM39 13h1v1h-1zM39 18h1v1h-1zM40 3h1v1h-1zM40 11h1v1h-1zM40 15h1v1h-1zM40 19h1v1h-1zM41 7h1v3h-1zM41 16h1v1h-1zM41 18h1v2h-1zM42 1h1v1h-1zM42 12h1v1h-1zM42 17h1v1h-1zM42 20h1v1h-1zM45 0h1v1h-1zM45 2h1v1h-1zM45 10h1v1h-1zM45 17h1v1h-1zM45 19h1v2h-1zM46 11h1v1h-1zM47 1h1v1h-1zM47 8h1v1h-1zM47 10h1v1h-1zM47 18h1v1h-1zM49 0h1v1h-1zM49 17h1v1h-1zM49 20h1v1h-1zM50 8h1v1h-1zM50 19h1v1h-1zM51 0h1v1h-1zM51 12h1v2h-1zM51 20h1v1h-1zM52 21h1v1h-1zM52 30h1v2h-1zM52 35h1v1h-1zM52 37h1v1h-1zM52 41h1v1h-1zM52 43h1v1h-1zM52 45h1v3h-1zM53 4h1v1h-1zM53 11h1v1h-1zM53 15h1v1h-1zM53 20h1v1h-1zM54 7h1v1h-1zM54 13h1v1h-1zM54 15h1v1h-1zM55 4h1v1h-1zM55 7h1v1h-1zM55 9h1v1h-1zM55 11h1v1h-1zM59 0h1v1h-1zM59 3h1v1h-1zM59 7h1v1h-1zM59 9h1v1h-1zM59 13h1v1h-1zM59 15h1v1h-1zM59 20h1v1h-1zM61 1h1v1h-1zM61 18h1v1h-1zM62 0h1v1h-1zM62 11h1v1h-1zM62 14h1v1h-1zM62 19h1v1h-1zM63 26h1v1h-1zM65 11h1v1h-1zM65 14h1v1h-1zM65 16h1v1h-1zM65 18h1v1h-1zM66 23h1v2h-1zM66 27h1v1h-1zM66 30h1v1h-1zM66 32h1v3h-1zM66 40h1v1h-1zM66 43h1v1h-1zM68 0h1v1h-1zM68 6h1v1h-1zM68 8h1v1h-1zM68 15h1v1h-1zM68 17h1v1h-1zM69 4h1v2h-1zM69 11h1v2h-1zM70 2h1v1h-1zM70 6h1v1h-1zM70 12h1v1h-1zM70 14h1v1h-1zM70 17h1v1h-1zM70 20h1v1h-1zM72 2h1v1h-1zM72 4h1v1h-1zM72 8h1v2h-1zM72 17h1v1h-1zM74 0h1v1h-1zM74 3h1v2h-1zM74 14h1v3h-1zM75 32h1v1h-1zM75 46h1v1h-1zM76 1h1v1h-1zM76 9h1v2h-1zM76 18h1v1h-1zM77 4h1v1h-1zM77 9h1v1h-1zM77 18h1v1h-1zM78 23h1v1h-1zM78 32h1v4h-1zM78 37h1v2h-1zM78 41h1v1h-1zM78 49h1v1h-1zM79 3h1v2h-1zM79 8h1v1h-1zM79 19h1v1h-1zM83 25h1v1h-1zM83 36h1v1h-1zM83 40h1v1h-1zM84 39h1v1h-1zM86 6h1v1h-1zM86 10h1v1h-1zM86 14h1v1h-1zM86 18h1v1h-1zM86 20h1v1h-1zM87 1h1v1h-1zM87 16h1v1h-1zM88 4h1v1h-1zM89 2h1v1h-1zM89 5h1v1h-1zM89 18h1v1h-1zM90 3h1v1h-1zM90 8h1v1h-1zM90 14h1v1h-1zM91 26h1v1h-1zM91 28h1v1h-1zM91 43h1v1h-1zM93 1h1v1h-1zM94 5h1v1h-1zM95 38h1v1h-1zM95 44h1v1h-1zM97 19h1v1h-1zM98 19h1v2h-1zM99 4h1v1h-1zM99 11h1v1h-1zM99 13h1v1h-1zM99 17h1v1h-1zM100 30h1v1h-1zM100 33h1v1h-1zM101 21h1v1h-1zM101 24h1v2h-1zM101 34h1v1h-1zM101 42h1v1h-1zM101 46h1v1h-1zM102 0h1v1h-1zM102 16h1v1h-1zM102 20h1v1h-1zM103 0h1v1h-1zM103 11h1v1h-1zM103 14h1v1h-1zM103 16h1v2h-1zM104 1h1v1h-1zM104 7h1v1h-1zM104 12h1v1h-1zM104 16h1v1h-1zM104 18h1v1h-1zM105 3h1v1h-1zM105 6h1v1h-1zM105 10h1v2h-1zM105 14h1v1h-1zM105 17h1v1h-1zM107 7h1v1h-1zM107 9h1v1h-1zM107 13h1v1h-1zM107 16h1v1h-1zM110 9h1v1h-1zM111 5h1v1h-1zM111 7h1v2h-1zM111 13h1v2h-1zM112 20h1v1h-1zM114 22h1v1h-1zM114 25h1v1h-1zM114 31h1v1h-1zM114 34h1v1h-1zM115 4h1v1h-1zM115 7h1v2h-1zM115 13h1v1h-1zM115 15h1v2h-1zM115 18h1v1h-1zM116 7h1v1h-1zM116 10h1v1h-1zM117 18h1v2h-1zM118 36h1v1h-1zM119 11h1v2h-1zM119 19h1v1h-1zM120 2h1v1h-1zM120 12h1v2h-1zM120 16h1v1h-1zM120 18h1v1h-1zM120 20h1v1h-1zM121 4h1v3h-1zM121 14h1v2h-1zM121 20h1v1h-1zM122 4h1v1h-1zM122 8h1v1h-1zM122 10h1v2h-1zM122 13h1v1h-1zM122 18h1v1h-1zM122 20h1v1h-1zM123 29h1v1h-1zM123 35h1v1h-1zM123 39h1v1h-1zM123 46h1v1h-1zM123 48h1v2h-1zM124 4h1v1h-1zM124 7h1v2h-1zM124 10h1v1h-1zM125 9h1v1h-1zM125 15h1v1h-1zM125 18h1v1h-1zM126 2h1v1h-1zM126 4h1v1h-1zM126 12h1v1h-1zM126 15h1v3h-1zM126 20h1v1h-1zM127 2h1v1h-1zM127 5h1v1h-1zM127 8h1v2h-1zM127 11h1v1h-1zM127 17h1v1h-1zM128 2h1v1h-1zM128 8h1v1h-1zM128 12h1v1h-1zM128 14h1v1h-1zM129 5h1v1h-1zM129 25h1v1h-1zM129 38h1v2h-1z"/>
<path fill="#ffcaca" d="M4 22h1v1h-1zM7 6h1v1h-1zM7 14h1v1h-1zM9 1h1v1h-1zM9 20h1v1h-1zM9 29h1v1h-1zM9 35h1v1h-1zM9 43h1v1h-1zM10 17h1v1h-1zM11 2h1v1h-1zM11 9h1v1h-1zM11 18h1v2h-1zM17 12h1v1h-1zM22 27h1v1h-1zM25 1h1v1h-1zM29 47h1v1h-1zM34 1h1v1h-1zM34 9h1v1h-1zM35 0h1v1h-1zM35 3h1v1h-1zM35 9h1v1h-1zM35 35h1v1h-1zM35 46h1v1h-1zM46 32h1v1h-1zM63 8h1v1h-1zM63 16h1v2h-1zM63 25h1v1h-1zM63 29h1v1h-1zM63 37h1v1h-1zM67 5h1v1h-1zM67 18h1v2h-1zM67 23h1v1h-1zM67 25h1v1h-1zM67 31h1v2h-1zM67 39h1v1h-1zM67 42h1v1h-1zM70 0h1v1h-1zM72 10h1v1h-1zM72 12h1v1h-1zM72 18h1v1h-1zM72 43h1v1h-1zM75 3h1v1h-1zM80 1h1v1h-1zM90 7h1v1h-1zM90 32h1v1h-1zM90 49h1v1h-1zM91 1h1v1h-1zM91 16h1v1h-1zM91 20h1v1h-1zM94 36h1v1h-1zM99 5h1v1h-1zM100 7h1v1h-1zM100 29h1v1h-1zM100 37h1v1h-1zM100 42h1v1h-1zM101 29h1v1h-1zM102 21h1v1h-1zM110 17h1v1h-1zM111 4h1v1h-1zM111 17h1v1h-1zM111 20h1v1h-1zM111 26h1v1h-1zM111 31h1v1h-1zM111 40h1v1h-1zM118 0h1v1h-1zM118 6h1v1h-1zM118 9h1v1h-1zM118 17h1v1h-1zM118 38h1v1h-1zM118 40h1v2h-1zM121 1h1v1h-1zM122 19h1v1h-1zM123 10h1v2h-1zM123 37h1v1h-1zM123 41h1v1h-1zM128 13h1v1h-1zM129 0h1v1h-1zM129 9h1v1h-1zM129 26h1v1h-1zM129 45h1v2h-1zM129 48h1v1h-1z"/>
<path fill="#ff9696" d="M7 5h1v1h-1zM7 17h1v1h-1zM9 46h1v1h-1zM10 16h1v1h-1zM11 15h1v1h-1zM15 19h1v1h-1zM17 19h1v1h-1zM23 21h1v1h-1zM34 16h1v1h-1zM39 17h1v1h-1zM50 7h1v1h-1zM59 1h1v1h-1zM63 13h1v1h-1zM63 36h1v1h-1zM65 17h1v1h-1zM67 13h1v1h-1zM67 15h1v1h-1zM67 43h1v1h-1zM70 8h1v1h-1zM72 0h1v1h-1zM75 24h1v1h-1zM75 42h1v1h-1zM90 17h1v1h-1zM90 20h1v1h-1zM90 22h1v1h-1zM90 34h1v1h-1zM90 44h1v1h-1zM91 32h1v1h-1zM91 34h1v1h-1zM91 36h1v1h-1zM91 40h1v1h-1zM91 44h1v1h-1zM91 48h1v1h-1zM95 5h1v1h-1zM95 15h1v1h-1zM100 31h1v1h-1zM102 19h1v1h-1zM111 30h1v1h-1zM116 11h1v1h-1zM118 1h1v1h-1zM118 29h1v1h-1zM118 33h1v1h-1zM118 43h1v1h-1zM118 47h1v1h-1zM129 6h1v1h-1zM129 14h1v1h-1zM129 16h1v1h-1zM129 22h1v1h-1zM129 31h1v1h-1z"/>
<path fill="#9696ff" d="M9 3h1v1h-1zM17 25h1v1h-1zM17 44h1v1h-1zM21 39h1v1h-1zM21 42h1v1h-1zM34 21h1v1h-1zM35 1h1v1h-1zM46 48h1v1h-1zM59 39h1v1h-1zM59 48h1v1h-1zM63 20h1v1h-1zM63 23h1v2h-1zM67 24h1v1h-1zM67 44h1v1h-1zM70 23h1v1h-1zM72 22h1v2h-1zM90 10h1v1h-1zM90 33h1v1h-1zM91 14h1v1h-1zM100 15h1v1h-1zM102 39h1v1h-1zM118 7h1v1h-1zM118 26h1v2h-1zM121 46h1v1h-1zM122 48h1v1h-1zM126 21h1v1h-1zM127 39h1v1h-1zM129 19h1v1h-1zM129 49h1v1h-1z"/>
</g>
<g transform="translate(239.40 363.40) scale(1.38615 8.100)">
<path fill="#ffcaca" d="M0 0h1v1h-1zM0 11h1v1h-1zM0 19h1v1h-1zM0 23h1v2h-1zM0 32h1v1h-1zM0 37h1v1h-1zM0 43h1v1h-1zM0 47h1v1h-1zM1 34h1v2h-1zM4 0h1v1h-1zM4 20h1v1h-1zM8 19h1v1h-1zM11 3h1v1h-1zM11 25h1v1h-1zM11 27h1v1h-1zM11 30h1v1h-1zM11 38h1v1h-1zM11 41h1v1h-1zM13 23h1v1h-1zM13 25h1v1h-1zM13 32h1v1h-1zM13 39h1v1h-1zM13 46h1v1h-1zM13 48h1v1h-1zM16 14h1v1h-1zM23 21h1v1h-1zM26 21h1v1h-1zM29 33h1v1h-1zM29 39h1v1h-1zM31 28h1v1h-1zM31 33h1v1h-1zM31 41h1v1h-1zM32 12h1v1h-1zM32 23h1v1h-1zM32 25h1v1h-1zM32 39h1v1h-1zM33 19h1v1h-1zM33 27h1v1h-1zM34 24h1v1h-1zM34 30h1v1h-1zM34 35h1v1h-1zM36 21h1v1h-1zM40 18h1v2h-1zM40 31h1v1h-1zM40 46h1v1h-1zM43 23h1v2h-1zM43 42h1v1h-1zM43 49h1v1h-1zM44 35h1v1h-1zM48 0h1v1h-1zM51 9h1v1h-1zM59 38h1v1h-1zM60 35h1v1h-1zM66 7h1v1h-1zM66 29h1v1h-1zM66 34h1v1h-1zM66 42h1v1h-1zM70 20h1v1h-1zM76 42h1v1h-1zM78 13h1v1h-1zM78 49h1v1h-1zM79 20h1v1h-1zM79 36h1v1h-1zM81 4h1v1h-1zM81 18h1v1h-1zM83 8h1v1h-1zM83 35h1v1h-1zM83 47h1v1h-1zM85 3h1v1h-1zM85 11h1v1h-1zM91 16h1v1h-1zM91 20h1v1h-1zM91 40h1v1h-1zM96 2h1v1h-1zM96 32h1v1h-1zM99 35h1v1h-1zM103 17h1v1h-1zM103 21h1v1h-1zM103 23h1v1h-1zM103 26h1v1h-1zM103 43h1v1h-1zM111 28h1v2h-1zM113 7h1v1h-1zM113 9h1v1h-1zM113 11h1v1h-1zM113 19h1v1h-1zM113 32h1v1h-1zM113 35h1v1h-1zM113 48h1v1h-1zM117 17h1v1h-1zM123 18h1v1h-1zM123 30h1v1h-1zM124 8h1v1h-1zM124 19h1v1h-1zM124 22h1v1h-1zM124 26h1v1h-1zM124 30h1v1h-1zM124 34h1v1h-1zM124 44h1v1h-1zM124 49h1v1h-1zM125 8h1v1h-1zM125 18h1v1h-1zM125 30h1v1h-1zM125 46h1v1h-1z"/>
<path fill="#4b4bff" d="M0 1h1v1h-1zM0 9h1v1h-1zM1 7h1v1h-1zM1 12h1v1h-1zM1 14h1v2h-1zM1 19h1v1h-1zM2 7h1v1h-1zM2 9h1v1h-1zM2 11h1v2h-1zM2 17h1v1h-1zM2 20h1v1h-1zM3 6h1v2h-1zM3 11h1v1h-1zM3 13h1v1h-1zM4 19h1v1h-1zM4 28h1v1h-1zM5 9h1v2h-1zM5 13h1v1h-1zM5 16h1v1h-1zM5 19h1v1h-1zM6 0h1v2h-1zM6 12h1v1h-1zM6 15h1v5h-1zM7 0h1v1h-1zM7 4h1v1h-1zM7 9h1v1h-1zM7 13h1v1h-1zM7 19h1v2h-1zM8 0h1v2h-1zM8 3h1v2h-1zM8 13h1v1h-1zM9 22h1v1h-1zM11 15h1v1h-1zM11 20h1v1h-1zM12 1h1v1h-1zM13 4h1v1h-1zM13 11h1v3h-1zM13 18h1v1h-1zM15 14h1v1h-1zM15 18h1v1h-1zM16 0h1v1h-1zM16 2h1v1h-1zM16 7h1v1h-1zM16 9h1v2h-1zM16 13h1v1h-1zM17 24h1v1h-1zM17 32h1v1h-1zM17 40h1v1h-1zM17 45h1v1h-1zM18 0h1v2h-1zM18 5h1v1h-1zM18 14h1v1h-1zM18 20h1v1h-1zM19 24h1v1h-1zM19 33h1v1h-1zM19 35h1v1h-1zM19 45h1v1h-1zM21 18h1v1h-1zM22 1h1v1h-1zM22 19h1v1h-1zM23 1h1v1h-1zM23 7h1v1h-1zM23 12h1v1h-1zM24 17h1v1h-1zM25 0h1v1h-1zM25 2h1v1h-1zM25 5h1v1h-1zM25 8h1v1h-1zM25 10h1v2h-1zM25 14h1v2h-1zM25 17h1v1h-1zM25 19h1v1h-1zM26 15h1v1h-1zM27 0h1v1h-1zM27 15h1v1h-1zM29 18h1v1h-1zM29 31h1v1h-1zM29 46h1v1h-1zM30 15h1v1h-1zM31 1h1v1h-1zM31 9h1v1h-1zM31 18h1v1h-1zM32 7h1v1h-1zM32 10h1v1h-1zM32 16h1v1h-1zM32 18h1v1h-1zM33 0h1v1h-1zM33 4h1v1h-1zM33 9h1v1h-1zM33 11h1v1h-1zM34 3h1v1h-1zM35 1h1v1h-1zM36 8h1v1h-1zM36 10h1v1h-1zM36 12h1v1h-1zM36 18h1v1h-1zM36 20h1v1h-1zM37 0h1v1h-1zM37 17h1v2h-1zM38 22h1v1h-1zM38 24h1v1h-1zM38 38h1v1h-1zM40 0h1v1h-1zM40 5h1v1h-1zM40 9h1v3h-1zM40 16h1v1h-1zM40 20h1v1h-1zM41 8h1v1h-1zM41 10h1v1h-1zM42 15h1v2h-1zM43 16h1v1h-1zM44 0h1v1h-1zM44 11h1v1h-1zM44 20h1v1h-1zM46 4h1v2h-1zM46 7h1v1h-1zM46 9h1v1h-1zM46 13h1v1h-1zM46 15h1v1h-1zM46 18h1v1h-1zM49 11h1v1h-1zM49 18h1v2h-1zM50 8h1v1h-1zM51 2h1v1h-1zM51 6h1v1h-1zM51 14h1v1h-1zM51 16h1v1h-1zM52 6h1v1h-1zM52 9h1v2h-1zM53 2h1v1h-1zM53 6h1v2h-1zM53 10h1v1h-1zM53 13h1v1h-1zM53 18h1v1h-1zM55 3h1v1h-1zM55 15h1v3h-1zM57 15h1v2h-1zM57 18h1v1h-1zM58 12h1v1h-1zM58 20h1v1h-1zM59 11h1v2h-1zM59 16h1v2h-1zM59 19h1v1h-1zM60 5h1v1h-1zM60 9h1v1h-1zM60 12h1v1h-1zM60 16h1v1h-1zM61 22h1v2h-1zM61 31h1v1h-1zM61 33h1v1h-1zM61 35h1v1h-1zM61 37h1v2h-1zM61 43h1v1h-1zM61 45h1v1h-1zM61 47h1v1h-1zM62 2h1v1h-1zM62 4h1v1h-1zM62 7h1v1h-1zM65 7h1v3h-1zM65 11h1v1h-1zM66 26h1v1h-1zM66 41h1v1h-1zM66 44h1v3h-1zM67 5h1v2h-1zM68 39h1v1h-1zM68 49h1v1h-1zM70 0h1v1h-1zM70 6h1v3h-1zM71 0h1v1h-1zM71 2h1v1h-1zM71 5h1v1h-1zM71 11h1v1h-1zM71 18h1v1h-1zM72 4h1v2h-1zM72 10h1v1h-1zM72 13h1v3h-1zM72 17h1v1h-1zM72 19h1v1h-1zM73 5h1v1h-1zM73 13h1v1h-1zM73 20h1v1h-1zM74 11h1v1h-1zM74 17h1v1h-1zM74 20h1v1h-1zM75 14h1v1h-1zM75 18h1v1h-1zM76 0h1v1h-1zM76 2h1v1h-1zM76 4h1v2h-1zM76 12h1v1h-1zM76 17h1v2h-1zM78 1h1v1h-1zM78 4h1v1h-1zM78 7h1v1h-1zM78 10h1v1h-1zM78 12h1v1h-1zM78 14h1v1h-1zM78 20h1v1h-1zM79 1h1v1h-1zM79 4h1v2h-1zM79 9h1v1h-1zM79 13h1v1h-1zM79 17h1v2h-1zM81 13h1v1h-1zM82 1h1v2h-1zM82 5h1v1h-1zM82 7h1v1h-1zM82 11h1v1h-1zM83 3h1v1h-1zM83 33h1v1h-1zM83 40h1v1h-1zM83 44h1v1h-1zM85 23h1v1h-1zM85 26h1v1h-1zM85 30h1v1h-1zM85 33h1v1h-1zM85 39h1v2h-1zM86 1h1v1h-1zM86 6h1v1h-1zM86 11h1v1h-1zM86 17h1v1h-1zM86 19h1v2h-1zM88 1h1v1h-1zM89 1h1v1h-1zM89 7h1v1h-1zM89 12h1v1h-1zM89 18h1v2h-1zM90 16h1v1h-1zM91 24h1v1h-1zM91 33h1v1h-1zM91 37h1v2h-1zM91 43h1v1h-1zM93 1h1v1h-1zM93 16h1v1h-1zM93 20h1v1h-1zM95 24h1v1h-1zM95 28h1v2h-1zM95 39h1v1h-1zM96 12h1v1h-1zM96 22h1v1h-1zM96 26h1v1h-1zM96 30h1v1h-1zM96 33h1v1h-1zM96 35h1v2h-1zM96 39h1v1h-1zM97 27h1v1h-1zM97 32h1v1h-1zM97 38h1v3h-1zM97 42h1v2h-1zM97 45h1v1h-1zM98 10h1v1h-1zM98 23h1v1h-1zM99 8h1v1h-1zM99 14h1v2h-1zM101 17h1v1h-1zM103 8h1v1h-1zM103 11h1v1h-1zM105 4h1v1h-1zM105 14h1v1h-1zM105 20h1v1h-1zM106 15h1v1h-1zM106 19h1v1h-1zM107 4h1v2h-1zM107 10h1v1h-1zM107 12h1v4h-1zM108 0h1v1h-1zM108 7h1v1h-1zM108 11h1v1h-1zM108 17h1v1h-1zM109 4h1v1h-1zM110 5h1v1h-1zM110 7h1v3h-1zM110 13h1v1h-1zM111 5h1v3h-1zM111 19h1v1h-1zM112 2h1v1h-1zM112 9h1v1h-1zM112 11h1v1h-1zM112 14h1v3h-1zM112 19h1v2h-1zM113 4h1v1h-1zM113 34h1v1h-1zM114 20h1v1h-1zM115 11h1v1h-1zM115 14h1v1h-1zM115 16h1v1h-1zM115 18h1v1h-1zM116 1h1v1h-1zM117 22h1v1h-1zM117 27h1v2h-1zM117 32h1v2h-1zM117 42h1v3h-1zM118 10h1v1h-1zM118 17h1v3h-1zM119 2h1v1h-1zM119 5h1v2h-1zM119 8h1v2h-1zM119 11h1v1h-1zM119 14h1v3h-1zM119 19h1v1h-1zM120 3h1v1h-1zM120 11h1v1h-1zM120 14h1v1h-1zM120 16h1v2h-1zM120 19h1v1h-1zM121 1h1v2h-1zM121 4h1v3h-1zM121 8h1v1h-1zM121 11h1v1h-1zM121 14h1v1h-1zM121 18h1v1h-1zM123 26h1v1h-1zM123 37h1v1h-1zM124 11h1v1h-1zM124 31h1v1h-1zM125 24h1v1h-1zM125 32h1v1h-1zM125 42h1v1h-1zM126 0h1v1h-1zM126 5h1v2h-1zM126 10h1v1h-1zM126 17h1v2h-1z"/>
<path fill="#ca96ca" d="M0 2h1v1h-1zM0 14h1v1h-1zM0 21h1v1h-1zM1 17h1v2h-1zM4 5h1v2h-1zM4 39h1v1h-1zM11 23h1v1h-1zM11 31h1v1h-1zM11 46h1v1h-1zM13 6h1v2h-1zM13 37h1v1h-1zM14 9h1v1h-1zM16 32h1v1h-1zM17 31h1v1h-1zM23 24h1v1h-1zM29 1h1v1h-1zM29 8h1v1h-1zM29 23h1v1h-1zM29 27h1v1h-1zM29 40h1v1h-1zM29 44h1v1h-1zM32 1h1v1h-1zM32 34h1v1h-1zM32 36h1v1h-1zM32 48h1v1h-1zM38 9h1v1h-1zM38 18h1v1h-1zM43 0h1v1h-1zM43 5h1v1h-1zM43 8h1v1h-1zM43 21h1v1h-1zM43 27h1v1h-1zM43 33h1v1h-1zM43 37h1v1h-1zM43 40h1v1h-1zM44 46h1v1h-1zM44 49h1v1h-1zM51 21h1v2h-1zM51 35h1v1h-1zM54 13h1v2h-1zM54 20h1v1h-1zM59 3h1v1h-1zM60 27h1v1h-1zM60 32h1v1h-1zM63 33h1v1h-1zM64 18h1v1h-1zM66 32h1v1h-1zM66 48h1v1h-1zM68 15h1v1h-1zM68 30h1v1h-1zM70 2h1v1h-1zM70 35h1v1h-1zM77 15h1v1h-1zM77 20h1v1h-1zM78 15h1v1h-1zM78 21h1v1h-1zM79 29h1v1h-1zM81 3h1v1h-1zM81 7h1v1h-1zM81 14h1v1h-1zM81 25h1v1h-1zM81 47h1v2h-1zM82 22h1v1h-1zM83 15h1v1h-1zM83 19h1v1h-1zM83 38h1v1h-1zM83 42h1v2h-1zM83 46h1v1h-1zM85 19h1v1h-1zM91 47h1v1h-1zM96 18h1v1h-1zM96 25h1v1h-1zM96 28h1v1h-1zM96 37h1v1h-1zM96 42h1v1h-1zM96 48h1v1h-1zM97 20h1v1h-1zM99 28h1v1h-1zM103 30h1v1h-1zM103 38h1v1h-1zM113 21h1v1h-1zM117 10h1v1h-1zM117 16h1v1h-1zM117 19h1v1h-1zM123 47h1v1h-1zM124 20h1v1h-1zM125 16h1v1h-1zM125 27h1v2h-1z"/>
<path fill="#cacaff" d="M0 3h1v2h-1zM0 10h1v1h-1zM0 40h1v1h-1zM4 13h1v1h-1zM11 7h1v3h-1zM11 13h1v1h-1zM11 28h1v1h-1zM11 44h1v1h-1zM12 18h1v1h-1zM13 21h1v1h-1zM14 17h1v1h-1zM16 5h1v2h-1zM16 18h1v1h-1zM16 44h1v1h-1zM17 27h1v1h-1zM17 37h1v1h-1zM23 46h1v1h-1zM29 11h1v1h-1zM31 17h1v1h-1zM32 4h1v2h-1zM32 22h1v1h-1zM32 27h1v1h-1zM32 30h1v1h-1zM33 15h1v1h-1zM40 8h1v1h-1zM40 13h1v1h-1zM40 47h1v1h-1zM43 4h1v1h-1zM43 7h1v1h-1zM43 17h1v1h-1zM43 19h1v1h-1zM43 29h1v1h-1zM43 39h1v1h-1zM43 43h1v1h-1zM43 45h1v1h-1zM43 48h1v1h-1zM44 1h1v1h-1zM48 1h1v1h-1zM50 20h1v1h-1zM51 13h1v1h-1zM53 14h1v1h-1zM53 20h1v1h-1zM55 23h1v1h-1zM59 7h1v2h-1zM59 10h1v1h-1zM59 14h1v1h-1zM59 40h1v1h-1zM66 17h1v1h-1zM66 35h1v1h-1zM68 29h1v1h-1zM68 31h1v1h-1zM68 42h1v1h-1zM68 46h1v1h-1zM72 45h1v1h-1zM75 4h1v1h-1zM75 19h1v1h-1zM77 17h1v1h-1zM77 30h1v1h-1zM79 32h1v1h-1zM80 16h1v1h-1zM80 20h1v1h-1zM81 0h1v1h-1zM83 5h1v1h-1zM83 12h1v1h-1zM83 21h1v1h-1zM83 27h1v1h-1zM83 32h1v1h-1zM83 48h1v1h-1zM91 18h1v1h-1zM91 29h1v1h-1zM91 42h1v1h-1zM96 1h1v1h-1zM96 21h1v1h-1zM96 38h1v1h-1zM96 49h1v1h-1zM97 49h1v1h-1zM98 48h1v1h-1zM99 17h1v1h-1zM103 4h1v1h-1zM103 14h1v1h-1zM105 17h1v1h-1zM107 18h1v1h-1zM108 19h1v1h-1zM113 1h1v1h-1zM113 3h1v1h-1zM113 20h1v1h-1zM113 28h1v1h-1zM113 30h1v1h-1zM113 47h1v1h-1zM117 23h1v1h-1zM117 39h1v2h-1zM123 45h1v1h-1zM124 6h1v1h-1zM124 9h1v1h-1zM124 12h1v1h-1zM124 14h1v1h-1zM124 29h1v1h-1zM125 6h1v1h-1zM125 20h1v1h-1zM125 22h1v1h-1zM125 29h1v1h-1zM125 49h1v1h-1z"/>
<path fill="#7f7fff" d="M0 5h1v1h-1zM0 12h1v1h-1zM0 15h1v1h-1zM1 11h1v1h-1zM1 13h1v1h-1zM2 6h1v1h-1zM2 14h1v2h-1zM3 4h1v2h-1zM3 14h1v2h-1zM3 17h1v1h-1zM4 10h1v1h-1zM4 48h1v2h-1zM5 1h1v4h-1zM5 7h1v1h-1zM5 11h1v1h-1zM5 14h1v2h-1zM5 18h1v1h-1zM5 20h1v1h-1zM6 4h1v2h-1zM6 8h1v1h-1zM6 20h1v1h-1zM8 2h1v1h-1zM8 12h1v1h-1zM9 26h1v1h-1zM9 29h1v1h-1zM9 41h1v1h-1zM11 10h1v1h-1zM11 16h1v1h-1zM11 21h1v1h-1zM11 26h1v1h-1zM12 7h1v2h-1zM12 11h1v1h-1zM12 14h1v1h-1zM12 17h1v1h-1zM12 20h1v1h-1zM13 5h1v1h-1zM13 9h1v1h-1zM14 26h1v1h-1zM14 39h1v1h-1zM14 44h1v1h-1zM15 1h1v2h-1zM16 11h1v1h-1zM16 15h1v1h-1zM16 19h1v1h-1zM17 23h1v1h-1zM17 26h1v1h-1zM17 30h1v1h-1zM17 33h1v1h-1zM17 39h1v1h-1zM17 43h1v1h-1zM17 46h1v1h-1zM17 49h1v1h-1zM18 6h1v1h-1zM18 12h1v1h-1zM19 22h1v1h-1zM20 20h1v1h-1zM22 11h1v2h-1zM22 16h1v1h-1zM22 18h1v1h-1zM22 20h1v1h-1zM23 8h1v2h-1zM23 14h1v2h-1zM23 19h1v2h-1zM24 0h1v1h-1zM24 8h1v1h-1zM24 11h1v2h-1zM24 14h1v1h-1zM25 6h1v1h-1zM26 1h1v1h-1zM26 3h1v1h-1zM26 7h1v1h-1zM26 9h1v1h-1zM26 12h1v1h-1zM27 3h1v2h-1zM27 8h1v1h-1zM27 14h1v1h-1zM27 19h1v1h-1zM29 12h1v1h-1zM29 15h1v1h-1zM29 19h1v1h-1zM29 49h1v1h-1zM30 0h1v1h-1zM30 4h1v1h-1zM31 4h1v1h-1zM31 6h1v1h-1zM31 10h1v1h-1zM31 14h1v1h-1zM31 20h1v1h-1zM31 39h1v1h-1zM32 0h1v1h-1zM32 9h1v1h-1zM32 13h1v2h-1zM32 17h1v1h-1zM32 38h1v1h-1zM33 2h1v1h-1zM33 8h1v1h-1zM33 12h1v1h-1zM34 4h1v1h-1zM35 17h1v1h-1zM36 6h1v1h-1zM36 16h1v2h-1zM36 38h1v1h-1zM37 1h1v2h-1zM37 11h1v1h-1zM37 15h1v1h-1zM37 19h1v1h-1zM38 19h1v1h-1zM38 26h1v1h-1zM38 33h1v1h-1zM38 39h1v2h-1zM38 42h1v1h-1zM38 44h1v1h-1zM38 46h1v1h-1zM38 48h1v2h-1zM40 4h1v1h-1zM40 7h1v1h-1zM40 24h1v1h-1zM41 12h1v1h-1zM42 0h1v2h-1zM42 18h1v1h-1zM43 10h1v1h-1zM43 44h1v1h-1zM44 6h1v1h-1zM44 9h1v2h-1zM46 1h1v1h-1zM46 17h1v1h-1zM46 19h1v1h-1zM49 4h1v1h-1zM49 20h1v1h-1zM50 18h1v1h-1zM51 0h1v1h-1zM51 4h1v1h-1zM51 11h1v1h-1zM51 17h1v3h-1zM52 2h1v2h-1zM52 11h1v1h-1zM52 15h1v1h-1zM53 4h1v1h-1zM53 8h1v1h-1zM53 11h1v1h-1zM53 15h1v1h-1zM54 3h1v1h-1zM54 6h1v1h-1zM54 8h1v1h-1zM54 16h1v1h-1zM55 18h1v3h-1zM57 1h1v1h-1zM57 9h1v1h-1zM57 12h1v1h-1zM58 4h1v1h-1zM58 18h1v1h-1zM59 2h1v1h-1zM59 6h1v1h-1zM59 9h1v1h-1zM59 15h1v1h-1zM59 20h1v1h-1zM59 26h1v1h-1zM59 33h1v1h-1zM60 2h1v1h-1zM60 6h1v1h-1zM60 11h1v1h-1zM60 15h1v1h-1zM60 20h1v1h-1zM61 26h1v3h-1zM61 30h1v1h-1zM61 34h1v1h-1zM61 42h1v1h-1zM61 44h1v1h-1zM62 18h1v1h-1zM63 8h1v1h-1zM63 10h1v1h-1zM63 12h1v1h-1zM64 0h1v1h-1zM64 20h1v1h-1zM64 43h1v1h-1zM65 0h1v1h-1zM65 2h1v1h-1zM65 5h1v1h-1zM65 12h1v1h-1zM65 16h1v4h-1zM66 19h1v1h-1zM66 25h1v1h-1zM66 36h1v2h-1zM66 40h1v1h-1zM66 47h1v1h-1zM66 49h1v1h-1zM67 1h1v1h-1zM67 3h1v1h-1zM67 13h1v1h-1zM67 19h1v1h-1zM68 21h1v1h-1zM68 23h1v1h-1zM68 25h1v1h-1zM68 37h1v1h-1zM68 40h1v1h-1zM70 11h1v1h-1zM70 14h1v1h-1zM70 17h1v1h-1zM71 7h1v1h-1zM71 15h1v1h-1zM71 17h1v1h-1zM72 1h1v2h-1zM72 11h1v1h-1zM73 2h1v1h-1zM73 8h1v1h-1zM73 17h1v1h-1zM75 0h1v1h-1zM75 2h1v1h-1zM75 5h1v1h-1zM75 13h1v1h-1zM75 15h1v1h-1zM76 15h1v1h-1zM76 19h1v1h-1zM77 22h1v1h-1zM77 24h1v1h-1zM77 37h1v1h-1zM77 45h1v3h-1zM78 0h1v1h-1zM78 3h1v1h-1zM78 5h1v1h-1zM78 18h1v1h-1zM79 2h1v2h-1zM79 7h1v2h-1zM79 15h1v2h-1zM80 8h1v1h-1zM80 12h1v1h-1zM80 15h1v1h-1zM81 12h1v1h-1zM81 26h1v1h-1zM81 42h1v1h-1zM82 0h1v1h-1zM82 4h1v1h-1zM82 6h1v1h-1zM82 10h1v1h-1zM82 12h1v2h-1zM82 15h1v1h-1zM82 18h1v1h-1zM83 9h1v1h-1zM83 23h1v1h-1zM83 41h1v1h-1zM83 49h1v1h-1zM85 21h1v1h-1zM85 25h1v1h-1zM85 38h1v1h-1zM85 41h1v1h-1zM85 43h1v1h-1zM85 47h1v1h-1zM88 7h1v1h-1zM88 13h1v1h-1zM91 30h1v1h-1zM91 35h1v2h-1zM91 39h1v1h-1zM93 2h1v1h-1zM93 6h1v1h-1zM93 8h1v1h-1zM93 15h1v1h-1zM93 17h1v1h-1zM95 22h1v1h-1zM95 27h1v1h-1zM95 34h1v1h-1zM95 42h1v3h-1zM95 46h1v1h-1zM95 49h1v1h-1zM96 23h1v1h-1zM96 27h1v1h-1zM96 44h1v2h-1zM96 47h1v1h-1zM97 21h1v1h-1zM97 30h1v1h-1zM97 35h1v1h-1zM97 46h1v1h-1zM97 48h1v1h-1zM98 14h1v1h-1zM98 17h1v1h-1zM98 19h1v1h-1zM98 31h1v1h-1zM98 34h1v1h-1zM98 41h1v1h-1zM99 1h1v2h-1zM99 7h1v1h-1zM99 11h1v1h-1zM103 9h1v1h-1zM106 5h1v3h-1zM106 9h1v1h-1zM106 16h1v1h-1zM107 2h1v1h-1zM107 8h1v1h-1zM108 1h1v2h-1zM108 8h1v2h-1zM110 6h1v1h-1zM110 10h1v2h-1zM110 19h1v2h-1zM111 1h1v1h-1zM111 13h1v2h-1zM111 20h1v1h-1zM112 1h1v1h-1zM112 6h1v2h-1zM112 17h1v1h-1zM113 23h1v2h-1zM113 26h1v2h-1zM113 41h1v1h-1zM114 18h1v2h-1zM115 1h1v1h-1zM115 3h1v1h-1zM115 9h1v1h-1zM116 3h1v1h-1zM116 5h1v2h-1zM116 9h1v1h-1zM117 29h1v2h-1zM117 37h1v2h-1zM117 45h1v1h-1zM117 47h1v1h-1zM117 49h1v1h-1zM119 1h1v1h-1zM119 10h1v1h-1zM120 0h1v2h-1zM120 6h1v2h-1zM120 15h1v1h-1zM120 18h1v1h-1zM120 20h1v1h-1zM121 3h1v1h-1zM123 24h1v2h-1zM123 27h1v2h-1zM123 32h1v2h-1zM123 42h1v1h-1zM124 0h1v1h-1zM124 7h1v1h-1zM124 10h1v1h-1zM125 2h1v1h-1zM125 33h1v1h-1zM125 35h1v2h-1zM125 43h1v1h-1zM126 3h1v1h-1zM126 7h1v2h-1zM126 13h1v2h-1zM126 16h1v1h-1z"/>
<path fill="#7f007f" d="M0 6h1v1h-1zM0 49h1v1h-1zM1 3h1v1h-1zM2 39h1v1h-1zM2 45h1v1h-1zM3 37h1v1h-1zM4 4h1v1h-1zM4 9h1v1h-1zM4 15h1v1h-1zM4 18h1v1h-1zM4 23h1v2h-1zM4 34h1v1h-1zM4 37h1v1h-1zM4 45h1v3h-1zM6 3h1v1h-1zM9 2h1v1h-1zM9 4h1v6h-1zM9 11h1v2h-1zM9 14h1v2h-1zM9 19h1v2h-1zM9 23h1v2h-1zM9 28h1v1h-1zM9 30h1v7h-1zM9 39h1v2h-1zM9 42h1v1h-1zM9 44h1v6h-1zM10 0h1v12h-1zM10 13h1v4h-1zM10 18h1v32h-1zM11 17h1v1h-1zM11 29h1v1h-1zM11 33h1v1h-1zM11 45h1v1h-1zM12 0h1v1h-1zM12 2h1v3h-1zM12 9h1v1h-1zM12 12h1v1h-1zM12 15h1v1h-1zM12 19h1v1h-1zM12 23h1v1h-1zM12 26h1v1h-1zM12 34h1v1h-1zM12 36h1v1h-1zM12 38h1v1h-1zM12 42h1v2h-1zM12 45h1v1h-1zM12 48h1v2h-1zM13 20h1v1h-1zM14 2h1v5h-1zM14 8h1v1h-1zM14 10h1v2h-1zM14 14h1v2h-1zM14 24h1v2h-1zM14 29h1v2h-1zM14 32h1v4h-1zM14 38h1v1h-1zM14 40h1v1h-1zM14 42h1v1h-1zM14 46h1v1h-1zM14 48h1v2h-1zM17 3h1v3h-1zM17 8h1v2h-1zM17 13h1v2h-1zM17 22h1v1h-1zM17 25h1v1h-1zM17 35h1v2h-1zM17 42h1v1h-1zM17 47h1v1h-1zM18 18h1v1h-1zM18 21h1v1h-1zM22 0h1v1h-1zM22 3h1v7h-1zM22 14h1v1h-1zM22 25h1v2h-1zM22 29h1v4h-1zM22 34h1v1h-1zM22 37h1v2h-1zM22 40h1v1h-1zM22 42h1v4h-1zM22 47h1v1h-1zM23 3h1v1h-1zM23 6h1v1h-1zM23 16h1v3h-1zM23 28h1v1h-1zM23 33h1v1h-1zM24 1h1v1h-1zM24 3h1v1h-1zM24 5h1v1h-1zM24 7h1v1h-1zM24 13h1v1h-1zM24 20h1v1h-1zM24 22h1v1h-1zM24 28h1v1h-1zM24 32h1v1h-1zM24 37h1v3h-1zM24 43h1v1h-1zM24 48h1v1h-1zM26 2h1v1h-1zM26 6h1v1h-1zM26 8h1v1h-1zM26 13h1v1h-1zM26 19h1v1h-1zM26 25h1v2h-1zM26 30h1v1h-1zM26 38h1v2h-1zM26 43h1v2h-1zM26 47h1v3h-1zM27 6h1v2h-1zM27 9h1v1h-1zM27 11h1v1h-1zM27 17h1v2h-1zM27 32h1v1h-1zM27 34h1v1h-1zM27 37h1v1h-1zM27 40h1v1h-1zM27 43h1v1h-1zM27 47h1v1h-1zM28 0h1v3h-1zM28 4h1v1h-1zM28 7h1v13h-1zM28 24h1v25h-1zM29 0h1v1h-1zM29 4h1v1h-1zM29 13h1v1h-1zM29 24h1v1h-1zM29 26h1v1h-1zM29 32h1v1h-1zM29 43h1v1h-1zM30 1h1v3h-1zM30 8h1v3h-1zM30 12h1v3h-1zM30 17h1v3h-1zM30 21h1v3h-1zM30 27h1v2h-1zM30 31h1v2h-1zM30 34h1v1h-1zM30 36h1v9h-1zM30 48h1v2h-1zM32 37h1v1h-1zM33 7h1v1h-1zM34 7h1v1h-1zM37 4h1v1h-1zM37 7h1v1h-1zM37 13h1v1h-1zM37 20h1v1h-1zM37 34h1v1h-1zM37 39h1v2h-1zM37 42h1v1h-1zM38 2h1v1h-1zM38 6h1v1h-1zM38 8h1v1h-1zM38 13h1v1h-1zM38 16h1v1h-1zM38 27h1v2h-1zM38 36h1v1h-1zM38 43h1v1h-1zM39 0h1v5h-1zM39 6h1v33h-1zM39 40h1v10h-1zM40 41h1v1h-1zM43 2h1v1h-1zM43 12h1v1h-1zM43 26h1v1h-1zM43 46h1v1h-1zM44 4h1v2h-1zM44 8h1v1h-1zM44 12h1v1h-1zM44 14h1v1h-1zM44 19h1v1h-1zM44 22h1v1h-1zM44 25h1v1h-1zM44 27h1v2h-1zM44 31h1v1h-1zM44 39h1v1h-1zM44 43h1v1h-1zM44 48h1v1h-1zM48 2h1v5h-1zM48 8h1v1h-1zM48 10h1v7h-1zM48 18h1v2h-1zM48 21h1v4h-1zM48 26h1v6h-1zM48 33h1v5h-1zM48 39h1v4h-1zM48 44h1v2h-1zM48 48h1v2h-1zM50 1h1v6h-1zM50 9h1v3h-1zM50 15h1v3h-1zM50 22h1v2h-1zM50 26h1v4h-1zM50 33h1v1h-1zM50 35h1v3h-1zM50 39h1v1h-1zM50 41h1v1h-1zM50 44h1v3h-1zM51 1h1v1h-1zM51 7h1v2h-1zM51 28h1v1h-1zM51 40h1v1h-1zM52 16h1v1h-1zM52 24h1v1h-1zM52 29h1v1h-1zM52 33h1v1h-1zM52 39h1v2h-1zM53 39h1v1h-1zM54 0h1v3h-1zM54 4h1v2h-1zM54 11h1v1h-1zM54 15h1v1h-1zM54 18h1v2h-1zM54 37h1v1h-1zM54 41h1v1h-1zM55 0h1v1h-1zM55 4h1v1h-1zM55 6h1v2h-1zM55 9h1v1h-1zM55 11h1v3h-1zM55 22h1v1h-1zM55 27h1v1h-1zM55 33h1v1h-1zM55 35h1v1h-1zM55 37h1v1h-1zM55 44h1v2h-1zM55 47h1v1h-1zM56 0h1v11h-1zM56 12h1v38h-1zM59 4h1v1h-1zM59 30h1v1h-1zM59 32h1v1h-1zM59 36h1v1h-1zM59 44h1v2h-1zM59 47h1v1h-1zM60 7h1v1h-1zM60 29h1v1h-1zM60 34h1v1h-1zM60 43h1v1h-1zM60 45h1v1h-1zM60 49h1v1h-1zM61 24h1v1h-1zM61 39h1v1h-1zM61 46h1v1h-1zM61 49h1v1h-1zM63 0h1v2h-1zM63 3h1v5h-1zM63 11h1v1h-1zM63 14h1v2h-1zM63 20h1v2h-1zM63 24h1v3h-1zM63 30h1v1h-1zM63 32h1v1h-1zM63 36h1v1h-1zM63 40h1v4h-1zM63 45h1v3h-1zM63 49h1v1h-1zM64 3h1v15h-1zM64 19h1v1h-1zM64 23h1v1h-1zM64 25h1v3h-1zM64 29h1v1h-1zM64 31h1v4h-1zM64 37h1v5h-1zM64 44h1v1h-1zM64 46h1v3h-1zM65 29h1v1h-1zM65 36h1v1h-1zM65 45h1v1h-1zM67 2h1v1h-1zM67 9h1v1h-1zM67 11h1v1h-1zM67 29h1v1h-1zM67 36h1v1h-1zM67 40h1v1h-1zM67 43h1v1h-1zM67 45h1v2h-1zM67 48h1v1h-1zM68 0h1v2h-1zM68 8h1v1h-1zM68 41h1v1h-1zM69 0h1v1h-1zM69 2h1v4h-1zM69 7h1v3h-1zM69 12h1v2h-1zM69 15h1v2h-1zM69 18h1v5h-1zM69 24h1v3h-1zM69 28h1v16h-1zM69 45h1v4h-1zM70 26h1v1h-1zM71 14h1v1h-1zM71 20h1v1h-1zM71 30h1v1h-1zM72 20h1v1h-1zM72 39h1v1h-1zM73 31h1v1h-1zM75 3h1v1h-1zM75 7h1v1h-1zM75 16h1v2h-1zM75 35h1v1h-1zM75 41h1v1h-1zM75 44h1v1h-1zM77 2h1v1h-1zM77 4h1v1h-1zM77 6h1v1h-1zM77 10h1v2h-1zM77 13h1v1h-1zM77 16h1v1h-1zM77 27h1v3h-1zM77 31h1v3h-1zM77 35h1v1h-1zM77 38h1v3h-1zM77 42h1v3h-1zM78 34h1v1h-1zM78 40h1v1h-1zM78 48h1v1h-1zM79 19h1v1h-1zM79 38h1v1h-1zM80 0h1v1h-1zM80 2h1v1h-1zM80 4h1v3h-1zM80 9h1v2h-1zM80 13h1v2h-1zM80 17h1v2h-1zM80 26h1v1h-1zM80 28h1v1h-1zM80 32h1v1h-1zM80 35h1v1h-1zM80 40h1v1h-1zM80 46h1v1h-1zM80 49h1v1h-1zM81 1h1v1h-1zM81 6h1v1h-1zM81 8h1v2h-1zM81 11h1v1h-1zM81 17h1v1h-1zM81 20h1v1h-1zM81 22h1v1h-1zM81 24h1v1h-1zM81 27h1v4h-1zM81 32h1v1h-1zM81 35h1v1h-1zM81 39h1v1h-1zM81 41h1v1h-1zM82 8h1v2h-1zM82 16h1v1h-1zM82 25h1v1h-1zM82 28h1v1h-1zM82 33h1v1h-1zM83 24h1v1h-1zM83 26h1v1h-1zM83 30h1v1h-1zM83 45h1v1h-1zM84 0h1v39h-1zM84 40h1v10h-1zM85 9h1v1h-1zM85 17h1v1h-1zM85 24h1v1h-1zM85 28h1v1h-1zM85 34h1v3h-1zM85 42h1v1h-1zM85 45h1v1h-1zM86 4h1v1h-1zM90 17h1v1h-1zM91 2h1v1h-1zM91 9h1v1h-1zM91 13h1v1h-1zM91 21h1v2h-1zM91 26h1v1h-1zM91 31h1v1h-1zM91 34h1v1h-1zM93 10h1v2h-1zM93 14h1v1h-1zM93 24h1v1h-1zM93 27h1v1h-1zM93 31h1v1h-1zM93 33h1v1h-1zM93 35h1v2h-1zM93 43h1v2h-1zM94 0h1v50h-1zM95 5h1v1h-1zM95 9h1v3h-1zM95 13h1v1h-1zM95 23h1v1h-1zM95 25h1v2h-1zM95 30h1v2h-1zM95 33h1v1h-1zM95 35h1v3h-1zM95 40h1v2h-1zM95 45h1v1h-1zM95 47h1v2h-1zM96 0h1v1h-1zM96 14h1v1h-1zM97 17h1v1h-1zM97 24h1v1h-1zM97 26h1v1h-1zM97 29h1v1h-1zM97 34h1v1h-1zM98 0h1v1h-1zM98 2h1v1h-1zM98 5h1v4h-1zM98 11h1v1h-1zM98 15h1v2h-1zM98 24h1v7h-1zM98 33h1v1h-1zM98 35h1v4h-1zM98 40h1v1h-1zM98 42h1v6h-1zM98 49h1v1h-1zM99 3h1v2h-1zM99 24h1v1h-1zM99 26h1v2h-1zM99 31h1v1h-1zM99 33h1v1h-1zM99 42h1v1h-1zM99 45h1v2h-1zM100 0h1v23h-1zM100 24h1v12h-1zM100 37h1v2h-1zM100 40h1v10h-1zM103 1h1v1h-1zM103 7h1v1h-1zM103 10h1v1h-1zM103 13h1v1h-1zM103 16h1v1h-1zM103 19h1v2h-1zM103 22h1v1h-1zM103 25h1v1h-1zM103 27h1v1h-1zM103 31h1v1h-1zM103 42h1v1h-1zM103 44h1v1h-1zM104 0h1v50h-1zM106 21h1v1h-1zM106 23h1v1h-1zM106 44h1v1h-1zM107 7h1v1h-1zM107 11h1v1h-1zM107 28h1v1h-1zM108 40h1v1h-1zM110 0h1v1h-1zM110 2h1v2h-1zM110 14h1v1h-1zM110 17h1v1h-1zM110 23h1v1h-1zM110 41h1v1h-1zM110 48h1v2h-1zM111 3h1v1h-1zM111 9h1v1h-1zM111 22h1v1h-1zM113 37h1v1h-1zM113 42h1v1h-1zM114 0h1v2h-1zM114 3h1v4h-1zM114 8h1v2h-1zM114 11h1v7h-1zM114 21h1v3h-1zM114 25h1v2h-1zM114 28h1v2h-1zM114 32h1v3h-1zM114 36h1v2h-1zM114 40h1v4h-1zM114 45h1v2h-1zM114 48h1v2h-1zM116 0h1v1h-1zM116 2h1v1h-1zM116 4h1v1h-1zM116 7h1v2h-1zM116 10h1v20h-1zM116 31h1v2h-1zM116 34h1v3h-1zM116 38h1v9h-1zM116 48h1v2h-1zM117 13h1v3h-1zM119 12h1v1h-1zM119 17h1v1h-1zM119 41h1v2h-1zM119 45h1v1h-1zM119 47h1v1h-1zM120 9h1v2h-1zM120 28h1v1h-1zM120 38h1v1h-1zM123 0h1v1h-1zM123 2h1v1h-1zM123 15h1v1h-1zM123 21h1v2h-1zM123 35h1v1h-1zM123 39h1v2h-1zM124 13h1v1h-1zM125 3h1v1h-1zM125 47h1v1h-1zM126 24h1v1h-1zM126 38h1v1h-1zM126 41h1v1h-1zM128 0h1v50h-1z"/>
<path fill="#ff4b4b" d="M0 7h1v1h-1zM0 27h1v1h-1zM0 31h1v1h-1zM0 34h1v1h-1zM0 38h1v1h-1zM0 45h1v1h-1zM1 22h1v1h-1zM1 25h1v2h-1zM1 30h1v1h-1zM1 37h1v1h-1zM1 39h1v2h-1zM1 43h1v1h-1zM1 45h1v1h-1zM1 47h1v2h-1zM2 21h1v1h-1zM2 26h1v1h-1zM2 28h1v1h-1zM2 33h1v1h-1zM2 35h1v2h-1zM2 38h1v1h-1zM2 42h1v1h-1zM2 44h1v1h-1zM2 46h1v1h-1zM3 22h1v1h-1zM3 27h1v1h-1zM3 29h1v1h-1zM3 35h1v1h-1zM3 38h1v1h-1zM3 43h1v1h-1zM3 47h1v1h-1zM4 8h1v1h-1zM4 27h1v1h-1zM4 40h1v1h-1zM4 43h1v1h-1zM5 24h1v2h-1zM5 29h1v1h-1zM5 33h1v1h-1zM5 37h1v3h-1zM5 45h1v1h-1zM5 48h1v1h-1zM6 22h1v3h-1zM6 31h1v1h-1zM6 34h1v1h-1zM6 43h1v1h-1zM6 47h1v1h-1zM6 49h1v1h-1zM7 23h1v3h-1zM7 33h1v1h-1zM7 39h1v1h-1zM7 42h1v1h-1zM7 44h1v1h-1zM7 46h1v1h-1zM8 37h1v1h-1zM8 42h1v1h-1zM8 45h1v1h-1zM8 48h1v1h-1zM9 1h1v1h-1zM9 13h1v1h-1zM11 22h1v1h-1zM11 32h1v1h-1zM11 36h1v1h-1zM11 47h1v1h-1zM12 27h1v1h-1zM12 33h1v1h-1zM12 39h1v1h-1zM13 24h1v1h-1zM13 27h1v1h-1zM13 36h1v1h-1zM13 41h1v1h-1zM14 18h1v1h-1zM15 21h1v1h-1zM15 27h1v1h-1zM16 21h1v1h-1zM16 24h1v1h-1zM16 26h1v1h-1zM16 29h1v1h-1zM16 35h1v2h-1zM16 38h1v1h-1zM16 43h1v1h-1zM16 48h1v2h-1zM17 0h1v2h-1zM17 10h1v1h-1zM18 22h1v2h-1zM18 37h1v1h-1zM18 45h1v1h-1zM18 47h1v1h-1zM20 21h1v1h-1zM20 23h1v1h-1zM20 37h1v1h-1zM20 44h1v1h-1zM20 49h1v1h-1zM21 33h1v1h-1zM22 21h1v2h-1zM22 24h1v1h-1zM22 35h1v2h-1zM22 49h1v1h-1zM23 25h1v2h-1zM23 32h1v1h-1zM23 34h1v1h-1zM23 37h1v1h-1zM24 47h1v1h-1zM25 30h1v1h-1zM25 40h1v1h-1zM25 49h1v1h-1zM26 27h1v2h-1zM26 41h1v1h-1zM27 21h1v2h-1zM27 24h1v1h-1zM27 31h1v1h-1zM27 36h1v1h-1zM29 3h1v1h-1zM29 5h1v1h-1zM29 34h1v2h-1zM29 37h1v1h-1zM30 25h1v1h-1zM30 33h1v1h-1zM30 45h1v1h-1zM31 34h1v1h-1zM32 19h1v1h-1zM32 31h1v1h-1zM33 23h1v2h-1zM33 26h1v1h-1zM33 39h1v1h-1zM33 44h1v1h-1zM33 46h1v1h-1zM34 21h1v3h-1zM34 27h1v1h-1zM34 34h1v1h-1zM34 37h1v2h-1zM34 47h1v2h-1zM35 23h1v1h-1zM35 41h1v1h-1zM36 25h1v1h-1zM36 34h1v1h-1zM36 37h1v1h-1zM37 49h1v1h-1zM38 10h1v1h-1zM38 15h1v1h-1zM39 39h1v1h-1zM40 29h1v1h-1zM40 33h1v1h-1zM40 36h1v1h-1zM40 38h1v1h-1zM40 40h1v1h-1zM40 44h1v1h-1zM40 49h1v1h-1zM41 22h1v1h-1zM41 40h1v1h-1zM43 1h1v1h-1zM43 3h1v1h-1zM43 22h1v1h-1zM43 28h1v1h-1zM43 30h1v1h-1zM43 34h1v2h-1zM44 24h1v1h-1zM44 29h1v1h-1zM44 36h1v2h-1zM44 42h1v1h-1zM44 45h1v1h-1zM46 25h1v2h-1zM46 28h1v1h-1zM46 30h1v1h-1zM46 34h1v2h-1zM46 39h1v1h-1zM49 24h1v1h-1zM51 30h1v1h-1zM51 32h1v1h-1zM51 36h1v1h-1zM51 41h1v1h-1zM51 43h1v1h-1zM51 46h1v1h-1zM52 21h1v1h-1zM52 25h1v1h-1zM52 32h1v1h-1zM52 35h1v1h-1zM52 38h1v1h-1zM52 42h1v2h-1zM52 49h1v1h-1zM53 22h1v1h-1zM53 28h1v3h-1zM53 40h1v1h-1zM53 43h1v1h-1zM54 22h1v1h-1zM54 26h1v1h-1zM54 32h1v1h-1zM54 36h1v1h-1zM54 38h1v1h-1zM54 40h1v1h-1zM54 48h1v1h-1zM55 21h1v1h-1zM55 28h1v1h-1zM55 38h1v1h-1zM55 43h1v1h-1zM57 35h1v1h-1zM57 44h1v1h-1zM58 30h1v1h-1zM58 40h1v1h-1zM58 45h1v1h-1zM59 21h1v1h-1zM59 28h1v2h-1zM59 49h1v1h-1zM60 26h1v1h-1zM60 31h1v1h-1zM60 33h1v1h-1zM60 36h1v1h-1zM60 40h1v1h-1zM60 48h1v1h-1zM61 0h1v1h-1zM61 5h1v1h-1zM61 8h1v1h-1zM62 39h1v1h-1zM62 41h1v1h-1zM65 25h1v1h-1zM65 27h1v1h-1zM65 40h1v2h-1zM65 44h1v1h-1zM65 47h1v1h-1zM66 5h1v2h-1zM66 21h1v1h-1zM66 24h1v1h-1zM66 30h1v1h-1zM67 21h1v1h-1zM67 25h1v1h-1zM67 27h1v1h-1zM67 30h1v1h-1zM67 38h1v2h-1zM68 4h1v3h-1zM68 12h1v1h-1zM68 18h1v1h-1zM70 28h1v1h-1zM70 30h1v1h-1zM70 34h1v1h-1zM70 40h1v2h-1zM70 47h1v2h-1zM71 22h1v2h-1zM71 28h1v1h-1zM71 38h1v1h-1zM71 40h1v1h-1zM71 43h1v1h-1zM71 45h1v1h-1zM72 22h1v1h-1zM72 27h1v1h-1zM72 34h1v1h-1zM72 38h1v1h-1zM72 40h1v4h-1zM72 48h1v1h-1zM73 21h1v1h-1zM73 30h1v1h-1zM73 36h1v1h-1zM73 38h1v2h-1zM73 41h1v1h-1zM73 47h1v1h-1zM73 49h1v1h-1zM75 23h1v1h-1zM75 27h1v3h-1zM75 32h1v3h-1zM75 36h1v2h-1zM76 24h1v1h-1zM76 26h1v1h-1zM76 30h1v1h-1zM76 32h1v1h-1zM76 36h1v1h-1zM76 44h1v2h-1zM77 18h1v2h-1zM78 22h1v2h-1zM78 28h1v1h-1zM78 33h1v1h-1zM78 36h1v4h-1zM78 46h1v2h-1zM79 21h1v1h-1zM79 23h1v1h-1zM79 26h1v3h-1zM79 37h1v1h-1zM79 49h1v1h-1zM80 37h1v1h-1zM81 10h1v1h-1zM81 40h1v1h-1zM82 26h1v2h-1zM82 29h1v1h-1zM82 32h1v1h-1zM82 34h1v3h-1zM83 10h1v1h-1zM83 18h1v1h-1zM83 20h1v1h-1zM85 0h1v1h-1zM85 2h1v1h-1zM85 10h1v1h-1zM85 13h1v1h-1zM85 20h1v1h-1zM86 29h1v1h-1zM86 38h1v1h-1zM88 21h1v1h-1zM89 22h1v1h-1zM89 29h1v1h-1zM89 44h1v1h-1zM90 22h1v1h-1zM90 40h1v1h-1zM90 45h1v1h-1zM91 3h1v1h-1zM91 6h1v1h-1zM91 12h1v1h-1zM91 15h1v1h-1zM93 25h1v1h-1zM93 38h1v1h-1zM93 42h1v1h-1zM93 48h1v1h-1zM96 5h1v1h-1zM96 11h1v1h-1zM96 20h1v1h-1zM96 24h1v1h-1zM97 3h1v1h-1zM97 5h1v2h-1zM97 8h1v1h-1zM97 10h1v1h-1zM97 15h1v2h-1zM99 23h1v1h-1zM99 25h1v1h-1zM99 30h1v1h-1zM99 34h1v1h-1zM99 48h1v1h-1zM105 30h1v1h-1zM105 44h1v1h-1zM106 26h1v1h-1zM106 29h1v1h-1zM106 33h1v1h-1zM106 35h1v1h-1zM106 38h1v1h-1zM106 41h1v1h-1zM106 47h1v1h-1zM106 49h1v1h-1zM107 22h1v1h-1zM107 24h1v4h-1zM107 32h1v1h-1zM107 35h1v2h-1zM107 42h1v1h-1zM107 47h1v1h-1zM108 21h1v1h-1zM108 25h1v2h-1zM108 28h1v1h-1zM108 31h1v2h-1zM108 38h1v2h-1zM108 49h1v1h-1zM109 22h1v1h-1zM110 21h1v1h-1zM110 29h1v1h-1zM110 31h1v1h-1zM110 34h1v1h-1zM110 37h1v1h-1zM110 45h1v1h-1zM111 38h1v1h-1zM111 42h1v1h-1zM111 44h1v1h-1zM111 46h1v2h-1zM112 29h1v1h-1zM112 42h1v3h-1zM112 46h1v3h-1zM113 10h1v1h-1zM113 16h1v1h-1zM113 46h1v1h-1zM113 49h1v1h-1zM115 25h1v1h-1zM115 36h1v1h-1zM115 38h1v3h-1zM115 42h1v1h-1zM115 45h1v1h-1zM117 2h1v1h-1zM117 4h1v1h-1zM117 9h1v1h-1zM117 11h1v1h-1zM117 18h1v1h-1zM117 20h1v1h-1zM118 35h1v1h-1zM119 21h1v1h-1zM119 23h1v2h-1zM119 27h1v2h-1zM119 30h1v1h-1zM119 33h1v2h-1zM119 38h1v1h-1zM119 44h1v1h-1zM119 46h1v1h-1zM120 21h1v1h-1zM120 24h1v1h-1zM120 26h1v1h-1zM120 33h1v1h-1zM120 39h1v1h-1zM120 42h1v1h-1zM120 45h1v4h-1zM121 22h1v3h-1zM121 26h1v1h-1zM121 28h1v1h-1zM121 31h1v1h-1zM121 38h1v2h-1zM121 41h1v2h-1zM121 44h1v1h-1zM123 3h1v1h-1zM123 5h1v2h-1zM123 10h1v1h-1zM123 17h1v1h-1zM124 25h1v1h-1zM124 47h1v1h-1zM125 1h1v1h-1zM125 5h1v1h-1zM125 11h1v3h-1zM125 21h1v1h-1zM125 41h1v1h-1zM126 21h1v1h-1zM126 29h1v1h-1zM126 31h1v1h-1zM126 40h1v1h-1zM126 43h1v2h-1zM126 48h1v1h-1z"/>
<path fill="#7f4bca" d="M0 8h1v1h-1zM0 16h1v3h-1zM0 20h1v1h-1zM1 1h1v1h-1zM2 2h1v1h-1zM2 13h1v1h-1zM3 18h1v1h-1zM4 41h1v1h-1zM5 0h1v1h-1zM5 6h1v1h-1zM5 17h1v1h-1zM9 21h1v1h-1zM9 25h1v1h-1zM9 27h1v1h-1zM9 37h1v2h-1zM9 43h1v1h-1zM10 12h1v1h-1zM10 17h1v1h-1zM11 1h1v2h-1zM12 5h1v1h-1zM12 10h1v1h-1zM12 13h1v1h-1zM12 30h1v1h-1zM13 19h1v1h-1zM14 16h1v1h-1zM14 19h1v1h-1zM14 23h1v1h-1zM14 27h1v1h-1zM14 31h1v1h-1zM14 36h1v1h-1zM14 41h1v1h-1zM14 43h1v1h-1zM17 20h1v2h-1zM17 28h1v1h-1zM17 34h1v1h-1zM17 44h1v1h-1zM17 48h1v1h-1zM22 2h1v1h-1zM22 10h1v1h-1zM22 13h1v1h-1zM22 17h1v1h-1zM23 0h1v1h-1zM23 2h1v1h-1zM23 4h1v1h-1zM23 10h1v1h-1zM23 48h1v1h-1zM24 4h1v1h-1zM24 6h1v1h-1zM24 9h1v2h-1zM24 15h1v2h-1zM24 18h1v2h-1zM24 23h1v1h-1zM26 0h1v1h-1zM26 5h1v1h-1zM26 10h1v2h-1zM26 14h1v1h-1zM26 16h1v2h-1zM26 20h1v1h-1zM26 35h1v1h-1zM26 42h1v1h-1zM27 5h1v1h-1zM27 10h1v1h-1zM27 13h1v1h-1zM27 16h1v1h-1zM27 20h1v1h-1zM28 3h1v1h-1zM28 5h1v2h-1zM29 14h1v1h-1zM29 16h1v2h-1zM29 20h1v1h-1zM29 30h1v1h-1zM29 41h1v1h-1zM29 45h1v1h-1zM30 5h1v3h-1zM30 11h1v1h-1zM30 16h1v1h-1zM31 19h1v1h-1zM32 20h1v1h-1zM32 33h1v1h-1zM32 35h1v1h-1zM32 49h1v1h-1zM33 1h1v1h-1zM34 9h1v1h-1zM34 12h1v1h-1zM34 20h1v1h-1zM36 1h1v1h-1zM37 6h1v1h-1zM37 8h1v1h-1zM37 10h1v1h-1zM37 14h1v1h-1zM37 16h1v1h-1zM38 4h1v1h-1zM38 7h1v1h-1zM38 25h1v1h-1zM38 30h1v1h-1zM38 34h1v1h-1zM39 5h1v1h-1zM43 14h1v1h-1zM44 2h1v1h-1zM44 7h1v1h-1zM44 13h1v1h-1zM44 16h1v2h-1zM48 7h1v1h-1zM48 20h1v1h-1zM48 32h1v1h-1zM48 47h1v1h-1zM50 0h1v1h-1zM50 7h1v1h-1zM50 12h1v3h-1zM52 7h1v1h-1zM52 12h1v1h-1zM52 17h1v2h-1zM52 20h1v1h-1zM53 1h1v1h-1zM53 5h1v1h-1zM53 9h1v1h-1zM53 16h1v1h-1zM54 7h1v1h-1zM54 12h1v1h-1zM54 17h1v1h-1zM55 2h1v1h-1zM55 5h1v1h-1zM55 8h1v1h-1zM55 10h1v1h-1zM55 14h1v1h-1zM55 24h1v1h-1zM56 11h1v1h-1zM59 1h1v1h-1zM59 5h1v1h-1zM59 13h1v1h-1zM59 42h1v1h-1zM60 0h1v1h-1zM60 3h1v1h-1zM60 8h1v1h-1zM60 14h1v1h-1zM60 19h1v1h-1zM61 25h1v1h-1zM61 29h1v1h-1zM63 2h1v1h-1zM63 9h1v1h-1zM63 13h1v1h-1zM63 16h1v4h-1zM64 24h1v1h-1zM64 30h1v1h-1zM64 35h1v2h-1zM64 45h1v1h-1zM65 3h1v2h-1zM66 11h1v1h-1zM66 13h1v1h-1zM66 22h1v1h-1zM66 27h1v1h-1zM66 31h1v1h-1zM66 33h1v1h-1zM67 0h1v1h-1zM67 4h1v1h-1zM67 8h1v1h-1zM67 10h1v1h-1zM67 12h1v1h-1zM67 14h1v2h-1zM67 18h1v1h-1zM68 16h1v1h-1zM68 27h1v1h-1zM68 32h1v1h-1zM68 34h1v1h-1zM69 1h1v1h-1zM69 6h1v1h-1zM69 10h1v2h-1zM69 14h1v1h-1zM69 17h1v1h-1zM70 4h1v2h-1zM71 19h1v1h-1zM72 0h1v1h-1zM72 16h1v1h-1zM72 18h1v1h-1zM72 21h1v1h-1zM75 6h1v1h-1zM75 8h1v3h-1zM75 20h1v1h-1zM77 21h1v1h-1zM77 25h1v2h-1zM77 34h1v1h-1zM77 36h1v1h-1zM77 41h1v1h-1zM77 49h1v1h-1zM78 17h1v1h-1zM79 6h1v1h-1zM80 1h1v1h-1zM80 3h1v1h-1zM80 7h1v1h-1zM80 11h1v1h-1zM81 2h1v1h-1zM81 31h1v1h-1zM81 34h1v1h-1zM81 38h1v1h-1zM82 19h1v1h-1zM82 21h1v1h-1zM83 28h1v1h-1zM83 36h1v2h-1zM83 39h1v1h-1zM84 39h1v1h-1zM85 22h1v1h-1zM85 27h1v1h-1zM85 29h1v1h-1zM85 31h1v1h-1zM85 44h1v1h-1zM85 46h1v1h-1zM85 49h1v1h-1zM91 28h1v1h-1zM91 32h1v1h-1zM91 41h1v1h-1zM91 44h1v3h-1zM93 0h1v1h-1zM93 4h1v1h-1zM93 7h1v1h-1zM93 9h1v1h-1zM93 12h1v2h-1zM93 18h1v1h-1zM95 21h1v1h-1zM95 32h1v1h-1zM95 38h1v1h-1zM96 8h1v1h-1zM96 43h1v1h-1zM97 44h1v1h-1zM98 4h1v1h-1zM98 18h1v1h-1zM98 22h1v1h-1zM98 32h1v1h-1zM98 39h1v1h-1zM99 0h1v1h-1zM99 6h1v1h-1zM99 10h1v1h-1zM99 16h1v1h-1zM99 18h1v1h-1zM103 0h1v1h-1zM103 6h1v1h-1zM103 24h1v1h-1zM103 45h1v1h-1zM103 48h1v1h-1zM106 0h1v1h-1zM106 3h1v2h-1zM106 13h1v1h-1zM107 1h1v1h-1zM107 17h1v1h-1zM107 20h1v1h-1zM109 17h1v1h-1zM110 1h1v1h-1zM110 4h1v1h-1zM110 12h1v1h-1zM111 11h1v1h-1zM113 13h1v1h-1zM113 40h1v1h-1zM114 2h1v1h-1zM114 7h1v1h-1zM114 10h1v1h-1zM117 25h1v1h-1zM117 34h1v1h-1zM117 36h1v1h-1zM117 41h1v1h-1zM117 48h1v1h-1zM119 0h1v1h-1zM119 7h1v1h-1zM120 5h1v1h-1zM120 8h1v1h-1zM120 13h1v1h-1zM121 15h1v1h-1zM121 17h1v1h-1zM123 7h1v1h-1zM123 12h1v1h-1zM123 29h1v1h-1zM123 34h1v1h-1zM123 36h1v1h-1zM123 41h1v1h-1zM123 43h1v1h-1zM123 49h1v1h-1zM124 1h1v1h-1zM124 4h1v1h-1zM125 15h1v1h-1zM125 23h1v1h-1zM126 9h1v1h-1zM126 11h1v1h-1z"/>
<path fill="#ca4b7f" d="M0 13h1v1h-1zM0 46h1v1h-1zM1 44h1v1h-1zM2 49h1v1h-1zM3 48h1v1h-1zM4 2h1v2h-1zM4 11h1v2h-1zM4 16h1v1h-1zM4 22h1v1h-1zM4 29h1v1h-1zM4 31h1v3h-1zM4 35h1v2h-1zM4 42h1v1h-1zM5 35h1v1h-1zM5 40h1v1h-1zM6 35h1v1h-1zM6 40h1v1h-1zM7 36h1v1h-1zM9 0h1v1h-1zM9 10h1v1h-1zM9 18h1v1h-1zM11 19h1v1h-1zM11 43h1v1h-1zM12 24h1v2h-1zM12 29h1v1h-1zM12 31h1v2h-1zM12 35h1v1h-1zM12 40h1v2h-1zM12 46h1v1h-1zM13 38h1v1h-1zM14 0h1v2h-1zM14 7h1v1h-1zM14 12h1v2h-1zM14 21h1v2h-1zM14 28h1v1h-1zM14 37h1v1h-1zM14 45h1v1h-1zM14 47h1v1h-1zM15 26h1v1h-1zM17 12h1v1h-1zM17 15h1v1h-1zM17 17h1v1h-1zM17 19h1v1h-1zM17 29h1v1h-1zM17 41h1v1h-1zM20 34h1v1h-1zM21 42h1v1h-1zM22 39h1v1h-1zM22 46h1v1h-1zM22 48h1v1h-1zM23 30h1v1h-1zM23 35h1v1h-1zM23 40h1v1h-1zM24 29h1v1h-1zM24 34h1v1h-1zM24 44h1v2h-1zM25 45h1v1h-1zM26 4h1v1h-1zM26 24h1v1h-1zM26 32h1v3h-1zM26 36h1v2h-1zM26 40h1v1h-1zM26 45h1v2h-1zM27 23h1v1h-1zM27 28h1v2h-1zM27 35h1v1h-1zM27 41h1v1h-1zM27 46h1v1h-1zM27 48h1v1h-1zM28 20h1v1h-1zM28 22h1v2h-1zM28 49h1v1h-1zM29 7h1v1h-1zM29 42h1v1h-1zM29 47h1v1h-1zM30 29h1v1h-1zM30 35h1v1h-1zM30 47h1v1h-1zM31 43h1v1h-1zM32 2h1v1h-1zM32 26h1v1h-1zM32 46h1v1h-1zM33 22h1v1h-1zM33 31h1v1h-1zM33 45h1v1h-1zM34 32h1v1h-1zM37 22h1v5h-1zM37 31h1v1h-1zM37 35h1v1h-1zM37 37h1v1h-1zM37 44h1v1h-1zM38 5h1v1h-1zM38 11h1v1h-1zM38 14h1v1h-1zM38 17h1v1h-1zM38 21h1v1h-1zM38 35h1v1h-1zM40 21h1v1h-1zM40 37h1v1h-1zM43 9h1v1h-1zM43 47h1v1h-1zM44 33h1v1h-1zM44 40h1v1h-1zM44 47h1v1h-1zM46 43h1v1h-1zM48 9h1v1h-1zM48 17h1v1h-1zM48 25h1v1h-1zM48 38h1v1h-1zM48 46h1v1h-1zM50 21h1v1h-1zM50 24h1v2h-1zM50 30h1v1h-1zM50 32h1v1h-1zM50 34h1v1h-1zM50 38h1v1h-1zM50 40h1v1h-1zM50 42h1v2h-1zM50 47h1v1h-1zM51 23h1v1h-1zM51 25h1v1h-1zM51 38h1v1h-1zM52 22h1v2h-1zM52 36h1v1h-1zM53 31h1v1h-1zM53 44h1v1h-1zM54 21h1v1h-1zM54 29h1v1h-1zM54 45h1v2h-1zM55 25h1v1h-1zM55 29h1v1h-1zM55 31h1v1h-1zM55 34h1v1h-1zM55 39h1v3h-1zM55 46h1v1h-1zM55 48h1v1h-1zM59 23h1v1h-1zM59 25h1v1h-1zM59 31h1v1h-1zM59 39h1v1h-1zM59 48h1v1h-1zM60 22h1v1h-1zM60 47h1v1h-1zM61 11h1v1h-1zM61 15h1v2h-1zM61 20h1v1h-1zM63 27h1v1h-1zM63 34h1v2h-1zM63 37h1v1h-1zM63 44h1v1h-1zM63 48h1v1h-1zM64 1h1v1h-1zM64 22h1v1h-1zM64 28h1v1h-1zM64 42h1v1h-1zM64 49h1v1h-1zM65 34h1v1h-1zM65 43h1v1h-1zM65 48h1v2h-1zM66 4h1v1h-1zM67 28h1v1h-1zM67 32h1v1h-1zM67 42h1v1h-1zM68 45h1v1h-1zM69 27h1v1h-1zM70 32h1v1h-1zM70 44h1v1h-1zM71 26h1v1h-1zM71 44h1v1h-1zM72 33h1v1h-1zM72 36h1v1h-1zM72 46h1v1h-1zM73 24h1v1h-1zM73 42h1v1h-1zM73 48h1v1h-1zM75 24h1v1h-1zM75 31h1v1h-1zM75 38h1v2h-1zM75 42h1v1h-1zM75 47h1v1h-1zM75 49h1v1h-1zM77 7h1v2h-1zM77 14h1v1h-1zM77 48h1v1h-1zM78 27h1v1h-1zM78 29h1v1h-1zM78 35h1v1h-1zM78 41h1v1h-1zM79 33h1v1h-1zM79 39h1v1h-1zM80 25h1v1h-1zM80 27h1v1h-1zM80 31h1v1h-1zM80 33h1v1h-1zM80 36h1v1h-1zM80 39h1v1h-1zM80 41h1v2h-1zM80 44h1v1h-1zM81 15h1v1h-1zM81 33h1v1h-1zM81 37h1v1h-1zM81 45h1v2h-1zM82 38h1v1h-1zM82 40h1v2h-1zM82 45h1v2h-1zM82 48h1v1h-1zM83 13h1v2h-1zM83 25h1v1h-1zM83 29h1v1h-1zM85 1h1v1h-1zM85 7h1v1h-1zM85 15h1v1h-1zM86 21h1v1h-1zM91 0h1v1h-1zM91 8h1v1h-1zM91 11h1v1h-1zM91 19h1v1h-1zM91 23h1v1h-1zM91 27h1v1h-1zM93 21h1v1h-1zM93 23h1v1h-1zM93 26h1v1h-1zM93 39h1v2h-1zM93 47h1v1h-1zM93 49h1v1h-1zM95 0h1v5h-1zM95 6h1v2h-1zM95 12h1v1h-1zM95 14h1v2h-1zM95 17h1v2h-1zM96 3h1v1h-1zM96 6h1v2h-1zM96 10h1v1h-1zM96 13h1v1h-1zM97 9h1v1h-1zM97 11h1v1h-1zM97 13h1v2h-1zM97 18h1v1h-1zM98 3h1v1h-1zM98 12h1v2h-1zM99 21h1v2h-1zM99 32h1v1h-1zM99 36h1v1h-1zM99 38h1v4h-1zM99 47h1v1h-1zM100 23h1v1h-1zM100 39h1v1h-1zM103 15h1v1h-1zM103 28h1v1h-1zM103 32h1v1h-1zM103 34h1v3h-1zM103 39h1v3h-1zM103 46h1v1h-1zM105 34h1v1h-1zM106 24h1v2h-1zM106 42h1v1h-1zM106 48h1v1h-1zM107 23h1v1h-1zM107 40h1v1h-1zM107 45h1v1h-1zM108 16h1v1h-1zM108 34h1v1h-1zM110 28h1v1h-1zM110 36h1v1h-1zM110 43h1v1h-1zM111 31h1v1h-1zM111 35h1v1h-1zM112 21h1v1h-1zM112 34h1v1h-1zM113 8h1v1h-1zM113 12h1v1h-1zM113 15h1v1h-1zM113 18h1v1h-1zM113 39h1v1h-1zM114 24h1v1h-1zM114 31h1v1h-1zM114 38h1v2h-1zM115 26h1v1h-1zM115 41h1v1h-1zM115 43h1v1h-1zM116 30h1v1h-1zM116 33h1v1h-1zM116 37h1v1h-1zM116 47h1v1h-1zM117 1h1v1h-1zM117 3h1v1h-1zM117 8h1v1h-1zM117 12h1v1h-1zM119 22h1v1h-1zM119 31h1v1h-1zM119 37h1v1h-1zM119 43h1v1h-1zM119 48h1v1h-1zM120 25h1v1h-1zM120 35h1v1h-1zM120 41h1v1h-1zM120 49h1v1h-1zM123 1h1v1h-1zM123 8h1v1h-1zM123 13h1v2h-1zM123 16h1v1h-1zM123 48h1v1h-1zM124 27h1v1h-1zM124 38h1v2h-1zM125 25h1v1h-1zM125 39h1v1h-1zM126 23h1v1h-1zM126 27h1v1h-1zM126 45h1v1h-1z"/>
<path fill="#ff7f7f" d="M0 22h1v1h-1zM0 25h1v2h-1zM0 33h1v1h-1zM0 35h1v2h-1zM0 42h1v1h-1zM1 29h1v1h-1zM2 22h1v2h-1zM2 31h1v1h-1zM2 41h1v1h-1zM2 47h1v1h-1zM3 24h1v1h-1zM3 32h1v1h-1zM3 40h1v3h-1zM3 49h1v1h-1zM4 7h1v1h-1zM4 25h1v1h-1zM4 38h1v1h-1zM4 44h1v1h-1zM5 22h1v2h-1zM5 26h1v1h-1zM5 28h1v1h-1zM5 30h1v3h-1zM5 34h1v1h-1zM5 36h1v1h-1zM5 43h1v1h-1zM6 30h1v1h-1zM6 37h1v1h-1zM6 41h1v1h-1zM6 44h1v2h-1zM6 48h1v1h-1zM7 27h1v1h-1zM7 29h1v1h-1zM7 43h1v1h-1zM7 45h1v1h-1zM7 49h1v1h-1zM8 23h1v2h-1zM9 3h1v1h-1zM9 16h1v2h-1zM11 0h1v1h-1zM11 35h1v1h-1zM11 39h1v1h-1zM12 22h1v1h-1zM12 28h1v1h-1zM12 37h1v1h-1zM12 44h1v1h-1zM12 47h1v1h-1zM13 3h1v1h-1zM13 22h1v1h-1zM13 26h1v1h-1zM13 29h1v1h-1zM13 31h1v1h-1zM13 40h1v1h-1zM13 42h1v1h-1zM13 44h1v1h-1zM13 47h1v1h-1zM13 49h1v1h-1zM14 20h1v1h-1zM15 47h1v1h-1zM16 25h1v1h-1zM16 28h1v1h-1zM16 39h1v2h-1zM16 42h1v1h-1zM16 46h1v2h-1zM17 2h1v1h-1zM17 6h1v2h-1zM17 11h1v1h-1zM17 16h1v1h-1zM17 18h1v1h-1zM17 38h1v1h-1zM22 23h1v1h-1zM22 28h1v1h-1zM22 41h1v1h-1zM23 22h1v1h-1zM23 29h1v1h-1zM23 31h1v1h-1zM23 39h1v1h-1zM23 43h1v3h-1zM24 21h1v1h-1zM24 24h1v4h-1zM24 30h1v1h-1zM24 33h1v1h-1zM24 35h1v2h-1zM24 40h1v3h-1zM24 46h1v1h-1zM25 21h1v1h-1zM25 31h1v1h-1zM26 22h1v2h-1zM26 29h1v1h-1zM27 25h1v3h-1zM27 38h1v2h-1zM27 44h1v2h-1zM27 49h1v1h-1zM28 21h1v1h-1zM29 2h1v1h-1zM29 10h1v1h-1zM29 36h1v1h-1zM30 24h1v1h-1zM30 26h1v1h-1zM30 30h1v1h-1zM30 46h1v1h-1zM31 22h1v1h-1zM31 27h1v1h-1zM31 29h1v1h-1zM31 32h1v1h-1zM31 37h1v1h-1zM31 45h1v1h-1zM31 47h1v1h-1zM31 49h1v1h-1zM32 3h1v1h-1zM32 6h1v1h-1zM32 21h1v1h-1zM32 28h1v2h-1zM32 32h1v1h-1zM32 40h1v2h-1zM32 45h1v1h-1zM32 47h1v1h-1zM33 29h1v2h-1zM33 33h1v1h-1zM33 37h1v1h-1zM33 40h1v1h-1zM33 49h1v1h-1zM34 42h1v1h-1zM34 44h1v1h-1zM36 23h1v2h-1zM36 29h1v1h-1zM36 44h1v1h-1zM37 21h1v1h-1zM37 28h1v2h-1zM37 32h1v1h-1zM37 36h1v1h-1zM37 41h1v1h-1zM37 43h1v1h-1zM37 45h1v3h-1zM38 32h1v1h-1zM40 32h1v1h-1zM40 34h1v1h-1zM40 42h1v2h-1zM40 48h1v1h-1zM43 13h1v1h-1zM43 36h1v1h-1zM44 21h1v1h-1zM44 23h1v1h-1zM44 26h1v1h-1zM44 30h1v1h-1zM44 32h1v1h-1zM44 38h1v1h-1zM44 41h1v1h-1zM44 44h1v1h-1zM46 22h1v1h-1zM46 31h1v1h-1zM46 33h1v1h-1zM46 46h1v1h-1zM46 48h1v1h-1zM48 43h1v1h-1zM49 41h1v1h-1zM50 19h1v1h-1zM50 31h1v1h-1zM50 48h1v2h-1zM51 24h1v1h-1zM51 26h1v2h-1zM51 45h1v1h-1zM52 34h1v1h-1zM52 37h1v1h-1zM52 44h1v1h-1zM52 48h1v1h-1zM53 24h1v1h-1zM53 27h1v1h-1zM53 32h1v1h-1zM53 34h1v1h-1zM53 36h1v3h-1zM53 48h1v2h-1zM54 23h1v1h-1zM54 27h1v1h-1zM54 31h1v1h-1zM54 33h1v3h-1zM54 43h1v1h-1zM54 47h1v1h-1zM55 26h1v1h-1zM55 30h1v1h-1zM55 32h1v1h-1zM55 36h1v1h-1zM55 42h1v1h-1zM55 49h1v1h-1zM57 36h1v1h-1zM57 40h1v1h-1zM57 45h1v1h-1zM59 0h1v1h-1zM59 22h1v1h-1zM59 24h1v1h-1zM59 27h1v1h-1zM59 35h1v1h-1zM59 37h1v1h-1zM59 41h1v1h-1zM59 43h1v1h-1zM59 46h1v1h-1zM60 21h1v1h-1zM60 25h1v1h-1zM60 39h1v1h-1zM60 42h1v1h-1zM60 44h1v1h-1zM61 2h1v1h-1zM61 4h1v1h-1zM61 7h1v1h-1zM61 9h1v2h-1zM61 13h1v1h-1zM61 19h1v1h-1zM63 22h1v2h-1zM63 28h1v1h-1zM63 31h1v1h-1zM63 38h1v2h-1zM64 2h1v1h-1zM64 21h1v1h-1zM65 21h1v1h-1zM65 24h1v1h-1zM65 26h1v1h-1zM65 30h1v1h-1zM65 38h1v2h-1zM65 42h1v1h-1zM66 0h1v1h-1zM66 3h1v1h-1zM66 8h1v2h-1zM66 16h1v1h-1zM66 18h1v1h-1zM67 22h1v3h-1zM67 26h1v1h-1zM67 31h1v1h-1zM67 33h1v1h-1zM67 37h1v1h-1zM67 41h1v1h-1zM67 44h1v1h-1zM67 47h1v1h-1zM67 49h1v1h-1zM68 10h1v1h-1zM68 13h1v2h-1zM68 20h1v1h-1zM69 23h1v1h-1zM69 44h1v1h-1zM69 49h1v1h-1zM70 21h1v1h-1zM70 25h1v1h-1zM70 37h1v2h-1zM71 24h1v1h-1zM71 35h1v1h-1zM71 42h1v1h-1zM71 46h1v2h-1zM72 23h1v1h-1zM72 31h1v2h-1zM72 37h1v1h-1zM72 49h1v1h-1zM73 37h1v1h-1zM73 46h1v1h-1zM74 22h1v1h-1zM75 25h1v2h-1zM75 40h1v1h-1zM75 45h1v2h-1zM75 48h1v1h-1zM76 21h1v3h-1zM76 27h1v1h-1zM76 29h1v1h-1zM76 34h1v1h-1zM76 49h1v1h-1zM77 0h1v2h-1zM77 3h1v1h-1zM77 9h1v1h-1zM77 12h1v1h-1zM77 23h1v1h-1zM78 25h1v1h-1zM78 30h1v1h-1zM78 44h1v1h-1zM79 22h1v1h-1zM79 43h1v2h-1zM79 46h1v1h-1zM79 48h1v1h-1zM80 21h1v1h-1zM80 23h1v2h-1zM80 29h1v2h-1zM80 34h1v1h-1zM80 38h1v1h-1zM80 43h1v1h-1zM80 45h1v1h-1zM80 47h1v2h-1zM81 5h1v1h-1zM81 19h1v1h-1zM81 36h1v1h-1zM81 43h1v1h-1zM81 49h1v1h-1zM82 31h1v1h-1zM82 37h1v1h-1zM82 39h1v1h-1zM82 49h1v1h-1zM83 1h1v1h-1zM83 4h1v1h-1zM83 11h1v1h-1zM83 17h1v1h-1zM85 4h1v2h-1zM85 14h1v1h-1zM85 16h1v1h-1zM85 32h1v1h-1zM86 44h1v1h-1zM89 41h1v1h-1zM89 46h1v1h-1zM91 1h1v1h-1zM91 4h1v1h-1zM91 10h1v1h-1zM91 14h1v1h-1zM93 22h1v1h-1zM93 28h1v1h-1zM93 30h1v1h-1zM93 32h1v1h-1zM93 34h1v1h-1zM93 37h1v1h-1zM93 41h1v1h-1zM93 45h1v2h-1zM95 8h1v1h-1zM95 16h1v1h-1zM95 19h1v2h-1zM96 4h1v1h-1zM96 9h1v1h-1zM96 15h1v2h-1zM97 1h1v1h-1zM97 12h1v1h-1zM98 9h1v1h-1zM99 37h1v1h-1zM99 44h1v1h-1zM100 36h1v1h-1zM101 22h1v1h-1zM103 18h1v1h-1zM103 29h1v1h-1zM103 33h1v1h-1zM106 36h1v1h-1zM106 43h1v1h-1zM107 31h1v1h-1zM107 33h1v2h-1zM107 39h1v1h-1zM107 41h1v1h-1zM107 48h1v2h-1zM108 23h1v2h-1zM108 30h1v1h-1zM108 36h1v1h-1zM108 41h1v1h-1zM109 21h1v1h-1zM110 25h1v3h-1zM110 30h1v1h-1zM110 32h1v1h-1zM110 39h1v1h-1zM110 42h1v1h-1zM110 47h1v1h-1zM111 21h1v1h-1zM111 23h1v1h-1zM111 27h1v1h-1zM111 32h1v2h-1zM111 41h1v1h-1zM112 26h1v2h-1zM112 35h1v1h-1zM112 37h1v1h-1zM112 45h1v1h-1zM113 2h1v1h-1zM113 25h1v1h-1zM114 27h1v1h-1zM114 30h1v1h-1zM114 35h1v1h-1zM114 44h1v1h-1zM114 47h1v1h-1zM115 23h1v1h-1zM115 27h1v1h-1zM115 30h1v1h-1zM115 35h1v1h-1zM115 46h1v1h-1zM117 5h1v3h-1zM119 26h1v1h-1zM119 35h1v1h-1zM119 49h1v1h-1zM120 23h1v1h-1zM120 27h1v1h-1zM120 32h1v1h-1zM120 34h1v1h-1zM120 37h1v1h-1zM120 43h1v1h-1zM121 21h1v1h-1zM121 29h1v1h-1zM121 33h1v1h-1zM121 43h1v1h-1zM121 45h1v1h-1zM121 47h1v3h-1zM123 4h1v1h-1zM123 11h1v1h-1zM123 20h1v1h-1zM123 38h1v1h-1zM124 17h1v1h-1zM124 21h1v1h-1zM124 24h1v1h-1zM124 28h1v1h-1zM124 32h1v2h-1zM124 35h1v2h-1zM124 41h1v1h-1zM125 7h1v1h-1zM125 9h1v2h-1zM125 26h1v1h-1zM125 31h1v1h-1zM125 48h1v1h-1zM126 36h1v1h-1zM126 39h1v1h-1zM126 42h1v1h-1zM126 47h1v1h-1zM126 49h1v1h-1z"/>
<path fill="#ff9696" d="M0 28h1v1h-1zM0 39h1v1h-1zM0 44h1v1h-1zM3 31h1v1h-1zM7 21h1v1h-1zM11 4h1v1h-1zM11 37h1v1h-1zM11 40h1v1h-1zM11 49h1v1h-1zM13 34h1v1h-1zM16 31h1v1h-1zM19 17h1v1h-1zM23 23h1v1h-1zM23 36h1v1h-1zM29 9h1v1h-1zM29 38h1v1h-1zM31 3h1v1h-1zM32 43h1v1h-1zM33 34h1v1h-1zM33 36h1v1h-1zM33 38h1v1h-1zM40 25h1v2h-1zM40 30h1v1h-1zM43 11h1v1h-1zM46 29h1v1h-1zM54 44h1v1h-1zM65 22h1v2h-1zM66 1h1v1h-1zM66 12h1v1h-1zM68 7h1v1h-1zM68 9h1v1h-1zM68 36h1v1h-1zM70 29h1v1h-1zM72 24h1v1h-1zM72 44h1v1h-1zM78 24h1v1h-1zM78 32h1v1h-1zM78 43h1v1h-1zM79 24h1v1h-1zM83 2h1v1h-1zM83 6h1v1h-1zM91 7h1v1h-1zM96 19h1v1h-1zM99 9h1v1h-1zM99 29h1v1h-1zM103 49h1v1h-1zM107 44h1v1h-1zM113 5h1v1h-1zM113 29h1v1h-1zM113 44h1v1h-1zM117 35h1v1h-1zM124 16h1v1h-1zM124 40h1v1h-1zM124 45h1v1h-1zM125 34h1v1h-1zM125 44h1v1h-1z"/>
<path fill="#ff0000" d="M0 29h1v2h-1zM0 41h1v1h-1zM1 21h1v1h-1zM1 23h1v2h-1zM1 27h1v2h-1zM1 31h1v3h-1zM1 38h1v1h-1zM1 41h1v2h-1zM1 46h1v1h-1zM1 49h1v1h-1zM2 24h1v2h-1zM2 27h1v1h-1zM2 29h1v2h-1zM2 32h1v1h-1zM2 34h1v1h-1zM2 37h1v1h-1zM2 40h1v1h-1zM2 43h1v1h-1zM2 48h1v1h-1zM3 21h1v1h-1zM3 23h1v1h-1zM3 25h1v2h-1zM3 28h1v1h-1zM3 30h1v1h-1zM3 33h1v2h-1zM3 36h1v1h-1zM3 39h1v1h-1zM3 44h1v3h-1zM5 21h1v1h-1zM5 27h1v1h-1zM5 41h1v2h-1zM5 44h1v1h-1zM5 46h1v2h-1zM5 49h1v1h-1zM6 21h1v1h-1zM6 25h1v5h-1zM6 32h1v2h-1zM6 36h1v1h-1zM6 38h1v2h-1zM6 42h1v1h-1zM6 46h1v1h-1zM7 22h1v1h-1zM7 26h1v1h-1zM7 28h1v1h-1zM7 30h1v3h-1zM7 34h1v2h-1zM7 37h1v2h-1zM7 40h1v2h-1zM7 47h1v2h-1zM8 21h1v2h-1zM8 25h1v12h-1zM8 38h1v4h-1zM8 43h1v2h-1zM8 46h1v2h-1zM8 49h1v1h-1zM12 21h1v1h-1zM13 28h1v1h-1zM13 30h1v1h-1zM13 33h1v1h-1zM13 35h1v1h-1zM13 43h1v1h-1zM13 45h1v1h-1zM15 22h1v4h-1zM15 28h1v19h-1zM15 48h1v2h-1zM16 22h1v2h-1zM16 27h1v1h-1zM16 30h1v1h-1zM16 33h1v2h-1zM16 37h1v1h-1zM16 41h1v1h-1zM16 45h1v1h-1zM18 24h1v13h-1zM18 38h1v7h-1zM18 46h1v1h-1zM18 48h1v2h-1zM19 0h1v17h-1zM19 18h1v3h-1zM20 22h1v1h-1zM20 24h1v10h-1zM20 35h1v2h-1zM20 38h1v6h-1zM20 45h1v4h-1zM21 21h1v12h-1zM21 34h1v8h-1zM21 43h1v7h-1zM22 27h1v1h-1zM22 33h1v1h-1zM23 27h1v1h-1zM23 38h1v1h-1zM23 41h1v2h-1zM23 47h1v1h-1zM23 49h1v1h-1zM24 31h1v1h-1zM24 49h1v1h-1zM25 22h1v8h-1zM25 32h1v8h-1zM25 41h1v4h-1zM25 46h1v3h-1zM26 31h1v1h-1zM27 30h1v1h-1zM27 33h1v1h-1zM27 42h1v1h-1zM29 25h1v1h-1zM29 29h1v1h-1zM29 48h1v1h-1zM31 21h1v1h-1zM31 24h1v3h-1zM31 30h1v2h-1zM31 35h1v2h-1zM31 38h1v1h-1zM31 40h1v1h-1zM31 42h1v1h-1zM31 44h1v1h-1zM31 46h1v1h-1zM32 24h1v1h-1zM32 42h1v1h-1zM33 21h1v1h-1zM33 25h1v1h-1zM33 28h1v1h-1zM33 32h1v1h-1zM33 35h1v1h-1zM33 41h1v3h-1zM33 47h1v2h-1zM34 25h1v2h-1zM34 28h1v2h-1zM34 31h1v1h-1zM34 33h1v1h-1zM34 36h1v1h-1zM34 39h1v3h-1zM34 43h1v1h-1zM34 45h1v2h-1zM34 49h1v1h-1zM35 21h1v2h-1zM35 24h1v17h-1zM35 42h1v8h-1zM36 22h1v1h-1zM36 26h1v3h-1zM36 30h1v4h-1zM36 35h1v2h-1zM36 39h1v5h-1zM36 45h1v5h-1zM37 27h1v1h-1zM37 30h1v1h-1zM37 33h1v1h-1zM37 38h1v1h-1zM37 48h1v1h-1zM38 12h1v1h-1zM38 20h1v1h-1zM40 23h1v1h-1zM40 27h1v2h-1zM40 35h1v1h-1zM40 39h1v1h-1zM40 45h1v1h-1zM41 21h1v1h-1zM41 23h1v17h-1zM41 41h1v9h-1zM42 21h1v29h-1zM43 38h1v1h-1zM44 34h1v1h-1zM45 21h1v29h-1zM46 21h1v1h-1zM46 23h1v2h-1zM46 27h1v1h-1zM46 32h1v1h-1zM46 36h1v3h-1zM46 40h1v3h-1zM46 44h1v2h-1zM46 47h1v1h-1zM46 49h1v1h-1zM47 21h1v29h-1zM49 21h1v3h-1zM49 25h1v16h-1zM49 42h1v8h-1zM51 29h1v1h-1zM51 31h1v1h-1zM51 33h1v2h-1zM51 37h1v1h-1zM51 39h1v1h-1zM51 42h1v1h-1zM51 44h1v1h-1zM51 47h1v3h-1zM52 26h1v3h-1zM52 30h1v2h-1zM52 41h1v1h-1zM52 45h1v3h-1zM53 21h1v1h-1zM53 23h1v1h-1zM53 25h1v2h-1zM53 33h1v1h-1zM53 35h1v1h-1zM53 41h1v2h-1zM53 45h1v3h-1zM54 24h1v2h-1zM54 28h1v1h-1zM54 30h1v1h-1zM54 39h1v1h-1zM54 42h1v1h-1zM54 49h1v1h-1zM57 21h1v14h-1zM57 37h1v3h-1zM57 41h1v3h-1zM57 46h1v4h-1zM58 21h1v9h-1zM58 31h1v9h-1zM58 41h1v4h-1zM58 46h1v4h-1zM59 34h1v1h-1zM60 23h1v2h-1zM60 28h1v1h-1zM60 30h1v1h-1zM60 37h1v2h-1zM60 41h1v1h-1zM60 46h1v1h-1zM61 1h1v1h-1zM61 3h1v1h-1zM61 6h1v1h-1zM61 12h1v1h-1zM61 14h1v1h-1zM61 17h1v2h-1zM62 21h1v18h-1zM62 40h1v1h-1zM62 42h1v8h-1zM63 29h1v1h-1zM65 28h1v1h-1zM65 31h1v3h-1zM65 35h1v1h-1zM65 37h1v1h-1zM65 46h1v1h-1zM66 2h1v1h-1zM66 14h1v1h-1zM67 34h1v2h-1zM68 2h1v2h-1zM68 11h1v1h-1zM68 17h1v1h-1zM70 23h1v2h-1zM70 27h1v1h-1zM70 31h1v1h-1zM70 33h1v1h-1zM70 36h1v1h-1zM70 39h1v1h-1zM70 42h1v2h-1zM70 45h1v2h-1zM70 49h1v1h-1zM71 21h1v1h-1zM71 25h1v1h-1zM71 27h1v1h-1zM71 29h1v1h-1zM71 31h1v4h-1zM71 36h1v2h-1zM71 39h1v1h-1zM71 41h1v1h-1zM71 48h1v2h-1zM72 25h1v2h-1zM72 28h1v3h-1zM72 35h1v1h-1zM72 47h1v1h-1zM73 22h1v2h-1zM73 25h1v5h-1zM73 32h1v4h-1zM73 40h1v1h-1zM73 43h1v3h-1zM74 21h1v1h-1zM74 23h1v27h-1zM75 21h1v2h-1zM75 30h1v1h-1zM75 43h1v1h-1zM76 25h1v1h-1zM76 28h1v1h-1zM76 31h1v1h-1zM76 33h1v1h-1zM76 35h1v1h-1zM76 37h1v5h-1zM76 46h1v3h-1zM77 5h1v1h-1zM78 26h1v1h-1zM78 42h1v1h-1zM78 45h1v1h-1zM79 25h1v1h-1zM79 30h1v2h-1zM79 34h1v2h-1zM79 40h1v3h-1zM79 45h1v1h-1zM79 47h1v1h-1zM80 22h1v1h-1zM82 24h1v1h-1zM82 30h1v1h-1zM82 42h1v3h-1zM82 47h1v1h-1zM83 0h1v1h-1zM85 6h1v1h-1zM85 8h1v1h-1zM85 12h1v1h-1zM85 18h1v1h-1zM86 22h1v7h-1zM86 30h1v8h-1zM86 39h1v5h-1zM86 45h1v5h-1zM87 21h1v29h-1zM88 22h1v28h-1zM89 21h1v1h-1zM89 23h1v6h-1zM89 30h1v11h-1zM89 42h1v2h-1zM89 45h1v1h-1zM89 47h1v3h-1zM90 21h1v1h-1zM90 23h1v17h-1zM90 41h1v4h-1zM90 46h1v4h-1zM91 5h1v1h-1zM92 21h1v29h-1zM93 29h1v1h-1zM97 0h1v1h-1zM97 2h1v1h-1zM97 4h1v1h-1zM97 7h1v1h-1zM97 19h1v1h-1zM99 43h1v1h-1zM101 21h1v1h-1zM101 23h1v27h-1zM102 21h1v29h-1zM103 37h1v1h-1zM103 47h1v1h-1zM105 21h1v9h-1zM105 31h1v3h-1zM105 35h1v9h-1zM105 45h1v5h-1zM106 22h1v1h-1zM106 27h1v2h-1zM106 30h1v3h-1zM106 34h1v1h-1zM106 37h1v1h-1zM106 39h1v2h-1zM106 45h1v2h-1zM107 21h1v1h-1zM107 29h1v2h-1zM107 37h1v2h-1zM107 46h1v1h-1zM108 22h1v1h-1zM108 27h1v1h-1zM108 29h1v1h-1zM108 33h1v1h-1zM108 35h1v1h-1zM108 37h1v1h-1zM108 42h1v7h-1zM109 23h1v27h-1zM110 22h1v1h-1zM110 24h1v1h-1zM110 33h1v1h-1zM110 35h1v1h-1zM110 38h1v1h-1zM110 40h1v1h-1zM110 44h1v1h-1zM110 46h1v1h-1zM111 24h1v3h-1zM111 30h1v1h-1zM111 34h1v1h-1zM111 36h1v2h-1zM111 39h1v2h-1zM111 43h1v1h-1zM111 45h1v1h-1zM111 48h1v2h-1zM112 22h1v4h-1zM112 28h1v1h-1zM112 30h1v4h-1zM112 36h1v1h-1zM112 38h1v4h-1zM112 49h1v1h-1zM113 31h1v1h-1zM113 33h1v1h-1zM115 21h1v2h-1zM115 24h1v1h-1zM115 28h1v2h-1zM115 31h1v4h-1zM115 37h1v1h-1zM115 44h1v1h-1zM115 47h1v3h-1zM117 0h1v1h-1zM118 21h1v14h-1zM118 36h1v14h-1zM119 25h1v1h-1zM119 29h1v1h-1zM119 32h1v1h-1zM119 36h1v1h-1zM119 39h1v2h-1zM120 22h1v1h-1zM120 29h1v3h-1zM120 36h1v1h-1zM120 40h1v1h-1zM120 44h1v1h-1zM121 25h1v1h-1zM121 27h1v1h-1zM121 30h1v1h-1zM121 32h1v1h-1zM121 34h1v4h-1zM121 40h1v1h-1zM121 46h1v1h-1zM122 21h1v29h-1zM123 9h1v1h-1zM123 19h1v1h-1zM124 23h1v1h-1zM124 42h1v2h-1zM124 48h1v1h-1zM125 19h1v1h-1zM125 38h1v1h-1zM126 22h1v1h-1zM126 25h1v2h-1zM126 28h1v1h-1zM126 30h1v1h-1zM126 32h1v4h-1zM126 37h1v1h-1zM126 46h1v1h-1zM127 21h1v29h-1zM129 21h1v29h-1z"/>
<path fill="#0000ff" d="M1 0h1v1h-1zM1 2h1v1h-1zM1 5h1v2h-1zM1 8h1v3h-1zM1 16h1v1h-1zM1 20h1v1h-1zM2 0h1v2h-1zM2 3h1v3h-1zM2 8h1v1h-1zM2 10h1v1h-1zM2 16h1v1h-1zM2 18h1v2h-1zM3 0h1v4h-1zM3 8h1v3h-1zM3 12h1v1h-1zM3 16h1v1h-1zM3 19h1v1h-1zM4 17h1v1h-1zM5 5h1v1h-1zM5 8h1v1h-1zM5 12h1v1h-1zM6 2h1v1h-1zM6 6h1v2h-1zM6 9h1v3h-1zM6 13h1v2h-1zM7 1h1v3h-1zM7 5h1v4h-1zM7 10h1v3h-1zM7 14h1v5h-1zM8 5h1v7h-1zM8 14h1v5h-1zM8 20h1v1h-1zM11 12h1v1h-1zM12 6h1v1h-1zM13 0h1v1h-1zM13 2h1v1h-1zM13 8h1v1h-1zM13 10h1v1h-1zM13 16h1v1h-1zM15 0h1v1h-1zM15 3h1v11h-1zM15 15h1v3h-1zM15 19h1v2h-1zM16 1h1v1h-1zM16 3h1v2h-1zM16 8h1v1h-1zM16 16h1v1h-1zM16 20h1v1h-1zM18 2h1v3h-1zM18 7h1v5h-1zM18 13h1v1h-1zM18 15h1v3h-1zM18 19h1v1h-1zM19 21h1v1h-1zM19 23h1v1h-1zM19 25h1v8h-1zM19 34h1v1h-1zM19 36h1v9h-1zM19 46h1v4h-1zM20 0h1v20h-1zM21 0h1v18h-1zM21 19h1v2h-1zM22 15h1v1h-1zM23 5h1v1h-1zM23 11h1v1h-1zM23 13h1v1h-1zM24 2h1v1h-1zM25 1h1v1h-1zM25 3h1v2h-1zM25 7h1v1h-1zM25 9h1v1h-1zM25 12h1v2h-1zM25 16h1v1h-1zM25 18h1v1h-1zM25 20h1v1h-1zM27 1h1v2h-1zM27 12h1v1h-1zM29 21h1v1h-1zM30 20h1v1h-1zM31 0h1v1h-1zM31 2h1v1h-1zM31 5h1v1h-1zM31 7h1v2h-1zM31 11h1v3h-1zM31 15h1v2h-1zM33 3h1v1h-1zM33 5h1v1h-1zM33 10h1v1h-1zM33 13h1v1h-1zM33 16h1v3h-1zM33 20h1v1h-1zM34 0h1v3h-1zM34 5h1v2h-1zM34 8h1v1h-1zM34 10h1v2h-1zM34 13h1v7h-1zM35 0h1v1h-1zM35 2h1v15h-1zM35 18h1v3h-1zM36 0h1v1h-1zM36 2h1v4h-1zM36 7h1v1h-1zM36 9h1v1h-1zM36 11h1v1h-1zM36 13h1v3h-1zM36 19h1v1h-1zM37 3h1v1h-1zM37 5h1v1h-1zM37 9h1v1h-1zM37 12h1v1h-1zM38 31h1v1h-1zM38 37h1v1h-1zM38 47h1v1h-1zM40 1h1v3h-1zM40 6h1v1h-1zM40 12h1v1h-1zM40 14h1v2h-1zM41 0h1v8h-1zM41 9h1v1h-1zM41 11h1v1h-1zM41 13h1v8h-1zM42 2h1v13h-1zM42 17h1v1h-1zM42 19h1v2h-1zM43 32h1v1h-1zM44 3h1v1h-1zM44 15h1v1h-1zM45 0h1v21h-1zM46 0h1v1h-1zM46 2h1v2h-1zM46 6h1v1h-1zM46 8h1v1h-1zM46 10h1v3h-1zM46 14h1v1h-1zM46 16h1v1h-1zM46 20h1v1h-1zM47 0h1v21h-1zM49 0h1v4h-1zM49 5h1v6h-1zM49 12h1v6h-1zM51 3h1v1h-1zM51 5h1v1h-1zM51 10h1v1h-1zM51 12h1v1h-1zM51 15h1v1h-1zM51 20h1v1h-1zM52 0h1v2h-1zM52 4h1v2h-1zM52 8h1v1h-1zM52 13h1v2h-1zM52 19h1v1h-1zM53 0h1v1h-1zM53 3h1v1h-1zM53 12h1v1h-1zM53 17h1v1h-1zM53 19h1v1h-1zM54 9h1v1h-1zM55 1h1v1h-1zM57 0h1v1h-1zM57 2h1v7h-1zM57 10h1v2h-1zM57 13h1v2h-1zM57 17h1v1h-1zM57 19h1v2h-1zM58 0h1v4h-1zM58 5h1v7h-1zM58 13h1v5h-1zM58 19h1v1h-1zM59 18h1v1h-1zM60 1h1v1h-1zM60 4h1v1h-1zM60 10h1v1h-1zM60 13h1v1h-1zM60 17h1v2h-1zM61 21h1v1h-1zM61 32h1v1h-1zM61 36h1v1h-1zM61 40h1v2h-1zM61 48h1v1h-1zM62 0h1v2h-1zM62 3h1v1h-1zM62 5h1v2h-1zM62 8h1v10h-1zM62 19h1v2h-1zM65 1h1v1h-1zM65 6h1v1h-1zM65 10h1v1h-1zM65 13h1v3h-1zM65 20h1v1h-1zM66 28h1v1h-1zM66 43h1v1h-1zM67 7h1v1h-1zM67 16h1v2h-1zM67 20h1v1h-1zM68 24h1v1h-1zM68 28h1v1h-1zM68 35h1v1h-1zM68 43h1v2h-1zM68 47h1v2h-1zM70 9h1v2h-1zM70 12h1v2h-1zM70 15h1v1h-1zM71 1h1v1h-1zM71 3h1v2h-1zM71 6h1v1h-1zM71 8h1v3h-1zM71 12h1v2h-1zM71 16h1v1h-1zM72 6h1v4h-1zM73 0h1v2h-1zM73 3h1v2h-1zM73 6h1v2h-1zM73 9h1v4h-1zM73 14h1v3h-1zM73 18h1v2h-1zM74 0h1v11h-1zM74 12h1v5h-1zM74 18h1v2h-1zM75 1h1v1h-1zM75 11h1v1h-1zM76 1h1v1h-1zM76 3h1v1h-1zM76 6h1v6h-1zM76 13h1v2h-1zM76 16h1v1h-1zM76 20h1v1h-1zM78 2h1v1h-1zM78 6h1v1h-1zM78 8h1v2h-1zM78 11h1v1h-1zM78 16h1v1h-1zM78 19h1v1h-1zM79 0h1v1h-1zM79 10h1v3h-1zM79 14h1v1h-1zM80 19h1v1h-1zM81 16h1v1h-1zM82 3h1v1h-1zM82 14h1v1h-1zM82 17h1v1h-1zM83 7h1v1h-1zM83 34h1v1h-1zM86 0h1v1h-1zM86 2h1v2h-1zM86 5h1v1h-1zM86 7h1v4h-1zM86 12h1v5h-1zM86 18h1v1h-1zM87 0h1v21h-1zM88 0h1v1h-1zM88 2h1v5h-1zM88 8h1v5h-1zM88 14h1v7h-1zM89 0h1v1h-1zM89 2h1v5h-1zM89 8h1v4h-1zM89 13h1v5h-1zM89 20h1v1h-1zM90 0h1v16h-1zM90 18h1v3h-1zM91 25h1v1h-1zM91 48h1v2h-1zM92 0h1v21h-1zM93 3h1v1h-1zM93 5h1v1h-1zM93 19h1v1h-1zM96 46h1v1h-1zM97 22h1v2h-1zM97 25h1v1h-1zM97 28h1v1h-1zM97 31h1v1h-1zM97 33h1v1h-1zM97 36h1v2h-1zM97 41h1v1h-1zM97 47h1v1h-1zM98 1h1v1h-1zM98 20h1v1h-1zM99 5h1v1h-1zM99 12h1v2h-1zM99 20h1v1h-1zM101 0h1v17h-1zM101 18h1v3h-1zM102 0h1v21h-1zM103 3h1v1h-1zM103 5h1v1h-1zM103 12h1v1h-1zM105 0h1v4h-1zM105 5h1v9h-1zM105 15h1v2h-1zM105 18h1v2h-1zM106 1h1v2h-1zM106 8h1v1h-1zM106 10h1v3h-1zM106 14h1v1h-1zM106 17h1v2h-1zM106 20h1v1h-1zM107 0h1v1h-1zM107 3h1v1h-1zM107 6h1v1h-1zM107 9h1v1h-1zM107 16h1v1h-1zM107 19h1v1h-1zM108 3h1v4h-1zM108 10h1v1h-1zM108 12h1v4h-1zM108 18h1v1h-1zM108 20h1v1h-1zM109 0h1v4h-1zM109 5h1v12h-1zM109 18h1v3h-1zM110 15h1v2h-1zM110 18h1v1h-1zM111 0h1v1h-1zM111 2h1v1h-1zM111 4h1v1h-1zM111 8h1v1h-1zM111 10h1v1h-1zM111 12h1v1h-1zM111 15h1v2h-1zM112 0h1v1h-1zM112 3h1v3h-1zM112 8h1v1h-1zM112 10h1v1h-1zM112 12h1v2h-1zM112 18h1v1h-1zM113 45h1v1h-1zM115 0h1v1h-1zM115 2h1v1h-1zM115 4h1v5h-1zM115 10h1v1h-1zM115 12h1v2h-1zM115 15h1v1h-1zM115 17h1v1h-1zM115 19h1v1h-1zM117 24h1v1h-1zM117 26h1v1h-1zM117 31h1v1h-1zM118 0h1v10h-1zM118 11h1v6h-1zM118 20h1v1h-1zM119 3h1v2h-1zM119 13h1v1h-1zM119 18h1v1h-1zM119 20h1v1h-1zM120 2h1v1h-1zM120 4h1v1h-1zM120 12h1v1h-1zM121 0h1v1h-1zM121 7h1v1h-1zM121 9h1v2h-1zM121 12h1v2h-1zM121 16h1v1h-1zM121 19h1v2h-1zM122 0h1v21h-1zM123 44h1v1h-1zM123 46h1v1h-1zM124 2h1v2h-1zM124 15h1v1h-1zM125 14h1v1h-1zM125 40h1v1h-1zM125 45h1v1h-1zM126 1h1v2h-1zM126 4h1v1h-1zM126 12h1v1h-1zM126 15h1v1h-1zM126 20h1v1h-1zM127 0h1v21h-1zM129 0h1v21h-1z"/>
<path fill="#9696ff" d="M1 4h1v1h-1zM3 20h1v1h-1zM4 14h1v1h-1zM4 30h1v1h-1zM11 5h1v1h-1zM11 24h1v1h-1zM12 16h1v1h-1zM13 1h1v1h-1zM13 14h1v2h-1zM13 17h1v1h-1zM16 12h1v1h-1zM16 17h1v1h-1zM32 8h1v1h-1zM32 44h1v1h-1zM33 6h1v1h-1zM33 14h1v1h-1zM38 0h1v1h-1zM38 23h1v1h-1zM38 41h1v1h-1zM38 45h1v1h-1zM40 17h1v1h-1zM43 6h1v1h-1zM43 18h1v1h-1zM43 20h1v1h-1zM43 25h1v1h-1zM43 31h1v1h-1zM43 41h1v1h-1zM44 18h1v1h-1zM54 10h1v1h-1zM66 20h1v1h-1zM68 22h1v1h-1zM68 26h1v1h-1zM68 33h1v1h-1zM70 3h1v1h-1zM70 16h1v1h-1zM70 18h1v2h-1zM72 3h1v1h-1zM72 12h1v1h-1zM75 12h1v1h-1zM82 20h1v1h-1zM85 37h1v1h-1zM85 48h1v1h-1zM96 17h1v1h-1zM96 29h1v1h-1zM96 31h1v1h-1zM96 40h1v1h-1zM103 2h1v1h-1zM111 17h1v2h-1zM113 14h1v1h-1zM113 17h1v1h-1zM113 22h1v1h-1zM115 20h1v1h-1zM117 21h1v1h-1zM117 46h1v1h-1zM123 23h1v1h-1zM126 19h1v1h-1z"/>
</g>
</g>
<path fill="none" stroke="#1e1e1e" stroke-width="0.8" d="M53.2 391.8H35.3V399.8H53.2M53.2 383.6H32.4V395.8H35.3M53.2 375.5H27.1V389.7H32.4M53.2 416.0H42.3V424.1H53.2M53.2 407.9H40.4V420.1H42.3M53.2 440.3H38.8V448.4H53.2M53.2 432.2H37.6V444.4H38.8M40.4 414.0H36.5V438.3H37.6M53.2 480.8H46.3V488.9H53.2M53.2 472.8H42.6V484.9H46.3M53.2 464.6H42.0V478.8H42.6M53.2 456.5H34.1V471.7H42.0M36.5 426.2H33.3V464.1H34.1M53.2 497.0H31.3V505.1H53.2M33.3 445.2H26.2V501.1H31.3M27.1 382.6H24.4V473.1H26.2M53.2 367.4H24.0V427.9H24.4M53.2 521.3H24.6V529.4H53.2M53.2 513.2H21.6V525.4H24.6M24.0 397.7H16.2V519.3H21.6M53.2 545.6H33.0V553.8H53.2M53.2 537.5H27.2V549.7H33.0M53.2 561.8H41.5V569.9H53.2M53.2 594.2H40.8V602.3H53.2M53.2 586.1H34.4V598.3H40.8M53.2 578.0H30.6V592.2H34.4M41.5 565.9H30.5V585.1H30.6M53.2 618.5H37.6V626.6H53.2M53.2 610.4H30.5V622.6H37.6M30.5 575.5H24.6V616.5H30.5M27.2 543.6H21.4V596.0H24.6M53.2 642.8H37.7V651.0H53.2M53.2 634.8H29.9V646.9H37.7M53.2 667.1H33.1V675.2H53.2M53.2 659.0H25.2V671.2H33.1M53.2 691.5H42.5V699.5H53.2M42.5 695.5H41.0V707.6H53.2M53.2 683.3H38.1V701.6H41.0M53.2 715.8H38.1V723.8H53.2M38.1 692.5H33.8V719.8H38.1M53.2 732.0H36.0V740.0H53.2M53.2 756.2H38.8V764.3H53.2M53.2 748.1H32.4V760.3H38.8M36.0 736.0H30.2V754.2H32.4M33.8 706.1H25.2V745.1H30.2M25.2 665.1H21.7V725.6H25.2M29.9 640.8H21.4V695.4H21.7M21.4 569.8H13.6V668.1H21.4M16.2 458.5H1.4V619.0H13.6"/>
<g font-size="6.3" fill="#111" stroke="#111" stroke-width="0.1" transform="translate(426.8 0) scale(0.943 1)">
<text x="0" y="370.1">KEGG_RENIN_ANGIOTENSIN_SYSTEM</text>
<text x="0" y="378.2">KEGG_OLFACTORY_TRANSDUCTION</text>
<text x="0" y="386.3">KEGG_COMPLEMENT_AND_COAGULATION_CASCADES</text>
<text x="0" y="394.4">KEGG_LINOLEIC_ACID_METABOLISM</text>
<text x="0" y="402.5">KEGG_ARACHIDONIC_ACID_METABOLISM</text>
<text x="0" y="410.6">KEGG_TRYPTOPHAN_METABOLISM</text>
<text x="0" y="418.7">KEGG_FATTY_ACID_METABOLISM</text>
<text x="0" y="426.8">KEGG_BUTANOATE_METABOLISM</text>
<text x="0" y="434.9">KEGG_GLYCINE_SERINE_AND_THREONINE_METABOLISM</text>
<text x="0" y="443.0">KEGG_PPAR_SIGNALING_PATHWAY</text>
<text x="0" y="451.1">KEGG_PRIMARY_BILE_ACID_BIOSYNTHESIS</text>
<text x="0" y="459.2">KEGG_ARGININE_AND_PROLINE_METABOLISM</text>
<text x="0" y="467.3">KEGG_RETINOL_METABOLISM</text>
<text x="0" y="475.4">KEGG_STEROID_HORMONE_BIOSYNTHESIS</text>
<text x="0" y="483.5">KEGG_DRUG_METABOLISM_CYTOCHROME_P450</text>
<text x="0" y="491.6">KEGG_METABOLISM_OF_XENOBIOTICS_BY_CYTOCHROME_P450</text>
<text x="0" y="499.7">KEGG_NITROGEN_METABOLISM</text>
<text x="0" y="507.8">KEGG_PROXIMAL_TUBULE_BICARBONATE_RECLAMATION</text>
<text x="0" y="516.0">KEGG_TAURINE_AND_HYPOTAURINE_METABOLISM</text>
<text x="0" y="524.0">KEGG_ALPHA_LINOLENIC_ACID_METABOLISM</text>
<text x="0" y="532.1">KEGG_NEUROACTIVE_LIGAND_RECEPTOR_INTERACTION</text>
<text x="0" y="540.2">KEGG_SNARE_INTERACTIONS_IN_VESICULAR_TRANSPORT</text>
<text x="0" y="548.4">KEGG_VIBRIO_CHOLERAE_INFECTION</text>
<text x="0" y="556.5">KEGG_EPITHELIAL_CELL_SIGNALING_IN_HELICOBACTER_PYLORI_INFECTION</text>
<text x="0" y="564.5">KEGG_OOCYTE_MEIOSIS</text>
<text x="0" y="572.6">KEGG_PROGESTERONE_MEDIATED_OOCYTE_MATURATION</text>
<text x="0" y="580.8">KEGG_PATHOGENIC_ESCHERICHIA_COLI_INFECTION</text>
<text x="0" y="588.9">KEGG_VASOPRESSIN_REGULATED_WATER_REABSORPTION</text>
<text x="0" y="597.0">KEGG_ENDOCYTOSIS</text>
<text x="0" y="605.0">KEGG_NEUROTROPHIN_SIGNALING_PATHWAY</text>
<text x="0" y="613.1">KEGG_RIG_I_LIKE_RECEPTOR_SIGNALING_PATHWAY</text>
<text x="0" y="621.2">KEGG_MTOR_SIGNALING_PATHWAY</text>
<text x="0" y="629.4">KEGG_NON_SMALL_CELL_LUNG_CANCER</text>
<text x="0" y="637.5">KEGG_PURINE_METABOLISM</text>
<text x="0" y="645.5">KEGG_PYRIMIDINE_METABOLISM</text>
<text x="0" y="653.7">KEGG_RNA_POLYMERASE</text>
<text x="0" y="661.8">KEGG_N_GLYCAN_BIOSYNTHESIS</text>
<text x="0" y="669.9">KEGG_AMINOACYL_TRNA_BIOSYNTHESIS</text>
<text x="0" y="678.0">KEGG_VALINE_LEUCINE_AND_ISOLEUCINE_BIOSYNTHESIS</text>
<text x="0" y="686.0">KEGG_CELL_CYCLE</text>
<text x="0" y="694.2">KEGG_MISMATCH_REPAIR</text>
<text x="0" y="702.2">KEGG_HOMOLOGOUS_RECOMBINATION</text>
<text x="0" y="710.4">KEGG_DNA_REPLICATION</text>
<text x="0" y="718.5">KEGG_NUCLEOTIDE_EXCISION_REPAIR</text>
<text x="0" y="726.5">KEGG_BASE_EXCISION_REPAIR</text>
<text x="0" y="734.7">KEGG_UBIQUITIN_MEDIATED_PROTEOLYSIS</text>
<text x="0" y="742.8">KEGG_BASAL_TRANSCRIPTION_FACTORS</text>
<text x="0" y="750.9">KEGG_NON_HOMOLOGOUS_END_JOINING</text>
<text x="0" y="759.0">KEGG_RNA_DEGRADATION</text>
<text x="0" y="767.0">KEGG_SPLICEOSOME</text>
</g>
<defs><linearGradient id="cb" x1="0" y1="0" x2="0" y2="1"><stop offset="0" stop-color="#ff0000"/><stop offset="0.34" stop-color="#ff0000"/><stop offset="0.505" stop-color="#ffffff"/><stop offset="0.65" stop-color="#0000ff"/><stop offset="1" stop-color="#0000ff"/></linearGradient></defs>
<rect x="660.2" y="351.8" width="9.6" height="148.2" fill="url(#cb)"/>
<g font-size="6.8" fill="#1a1a1a">
<text x="673.6" y="375.7">2</text>
<text x="673.6" y="402.2">1</text>
<text x="673.6" y="429.1">0</text>
<text x="673.6" y="455.2">−1</text>
<text x="673.6" y="481.8">−2</text>
</g>
<text x="682.3" y="357.2" font-size="6.6" font-weight="bold" fill="#111">Risk</text>
<rect x="682.2" y="360.2" width="9.6" height="9.5" fill="#0000ff"/>
<rect x="682.2" y="369.7" width="9.6" height="9.6" fill="#ff0000"/>
<text x="694.0" y="367.4" font-size="6.7" fill="#1a1a1a">low</text>
<text x="694.0" y="377.1" font-size="6.7" fill="#1a1a1a">high</text>
</svg></body></html>
